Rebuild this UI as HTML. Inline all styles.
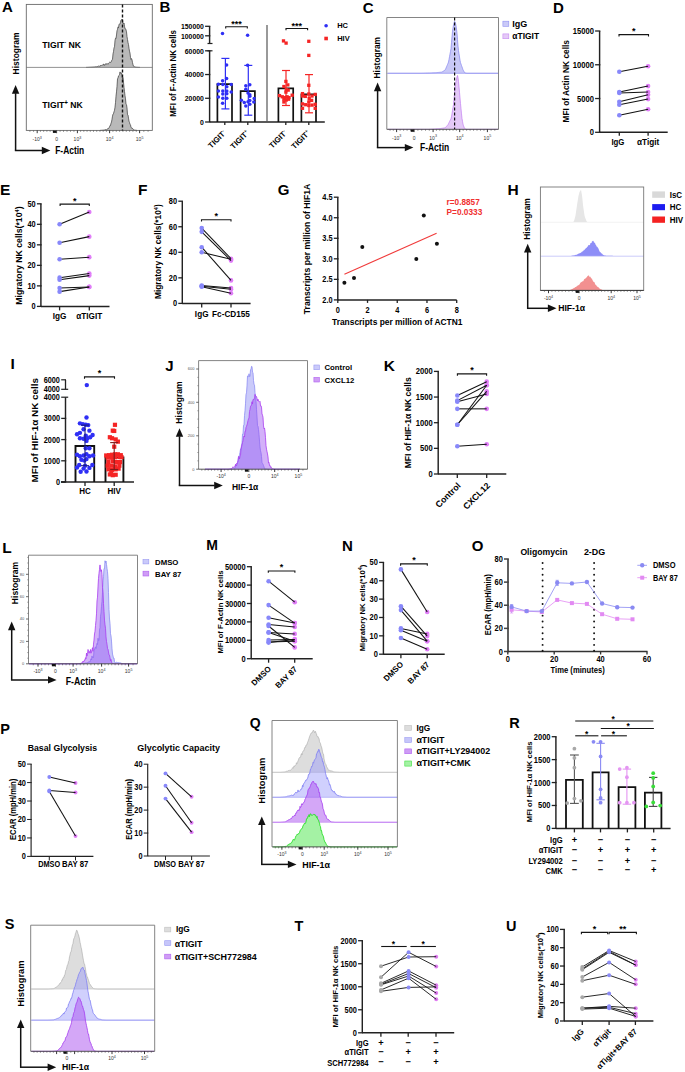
<!DOCTYPE html>
<html><head><meta charset="utf-8"><style>
html,body{margin:0;padding:0;background:#fff;}
svg{display:block;font-family:"Liberation Sans", sans-serif;font-weight:bold;}
</style></head><body>
<svg width="685" height="1072" viewBox="0 0 685 1072">
<rect width="685" height="1072" fill="#fff"/>
<text x="2" y="11.82" font-size="15">A</text>
<path d="M86,67.4 L86,67.4 L86.5,67.38 L87,67.35 L87.5,67.33 L88,67.3 L88.5,67.28 L89,67.25 L89.5,67.23 L90,67.2 L90.5,67.18 L91,67.15 L91.5,67.12 L92,67.1 L92.5,67.06 L93,67.03 L93.5,66.99 L94,66.95 L94.5,66.91 L95,66.98 L95.5,66.73 L96,66.71 L96.5,66.78 L97,66.58 L97.5,66.49 L98,66.26 L98.5,66.05 L99,66.41 L99.5,66.37 L100,65.62 L100.5,65.79 L101,65.3 L101.5,65.95 L102,65.3 L102.5,64.78 L103,65.27 L103.5,64.14 L104,64.06 L104.5,65.29 L105,65.21 L105.5,64.25 L106,63.43 L106.5,64.18 L107,64.28 L107.5,63.62 L108,64.29 L108.5,63.57 L109,62.72 L109.5,62.24 L110,62.71 L110.5,62.47 L111,62.27 L111.5,60.89 L112,59.89 L112.5,59.29 L113,53.91 L113.5,51.73 L114,47.93 L114.5,46.77 L115,40.43 L115.5,38.22 L116,38.69 L116.5,34.97 L117,30.74 L117.5,29.35 L118,26.92 L118.5,27.74 L119,24.61 L119.5,23.98 L120,24.27 L120.5,22.22 L121,20.13 L121.5,19.5 L122,20.21 L122.5,19.51 L123,23.45 L123.5,24.03 L124,23.09 L124.5,26.28 L125,28.84 L125.5,28.83 L126,29.79 L126.5,31.89 L127,36.51 L127.5,39.52 L128,42.51 L128.5,44.62 L129,48.28 L129.5,51.19 L130,53.1 L130.5,57.47 L131,59.44 L131.5,58.58 L132,59.81 L132.5,62.7 L133,64.63 L133.5,66.24 L134,66.68 L134.5,66.65 L135,66.94 L135.5,67.07 L136,67.2 L136.5,67.23 L137,67.25 L137.5,67.28 L138,67.3 L138.5,67.33 L139,67.35 L139.5,67.38 L140,67.4 L140,67.4 Z" fill="#b9b9b9"/>
<path d="M86,67.4 L86.5,67.38 L87,67.35 L87.5,67.33 L88,67.3 L88.5,67.28 L89,67.25 L89.5,67.23 L90,67.2 L90.5,67.18 L91,67.15 L91.5,67.12 L92,67.1 L92.5,67.06 L93,67.03 L93.5,66.99 L94,66.95 L94.5,66.91 L95,66.98 L95.5,66.73 L96,66.71 L96.5,66.78 L97,66.58 L97.5,66.49 L98,66.26 L98.5,66.05 L99,66.41 L99.5,66.37 L100,65.62 L100.5,65.79 L101,65.3 L101.5,65.95 L102,65.3 L102.5,64.78 L103,65.27 L103.5,64.14 L104,64.06 L104.5,65.29 L105,65.21 L105.5,64.25 L106,63.43 L106.5,64.18 L107,64.28 L107.5,63.62 L108,64.29 L108.5,63.57 L109,62.72 L109.5,62.24 L110,62.71 L110.5,62.47 L111,62.27 L111.5,60.89 L112,59.89 L112.5,59.29 L113,53.91 L113.5,51.73 L114,47.93 L114.5,46.77 L115,40.43 L115.5,38.22 L116,38.69 L116.5,34.97 L117,30.74 L117.5,29.35 L118,26.92 L118.5,27.74 L119,24.61 L119.5,23.98 L120,24.27 L120.5,22.22 L121,20.13 L121.5,19.5 L122,20.21 L122.5,19.51 L123,23.45 L123.5,24.03 L124,23.09 L124.5,26.28 L125,28.84 L125.5,28.83 L126,29.79 L126.5,31.89 L127,36.51 L127.5,39.52 L128,42.51 L128.5,44.62 L129,48.28 L129.5,51.19 L130,53.1 L130.5,57.47 L131,59.44 L131.5,58.58 L132,59.81 L132.5,62.7 L133,64.63 L133.5,66.24 L134,66.68 L134.5,66.65 L135,66.94 L135.5,67.07 L136,67.2 L136.5,67.23 L137,67.25 L137.5,67.28 L138,67.3 L138.5,67.33 L139,67.35 L139.5,67.38 L140,67.4" fill="none" stroke="#3a3a3a" stroke-width="0.7" stroke-linejoin="round"/>
<path d="M100,130.4 L100,130.4 L100.5,130.36 L101,130.33 L101.5,130.29 L102,130.25 L102.5,130.21 L103,130.18 L103.5,130.14 L104,130.1 L104.5,129.98 L105,129.73 L105.5,129.59 L106,129.82 L106.5,129.72 L107,129.22 L107.5,128.86 L108,128.51 L108.5,128.53 L109,127.8 L109.5,126.79 L110,125.43 L110.5,125.44 L111,123.22 L111.5,122.06 L112,119.26 L112.5,116.16 L113,114.09 L113.5,113.6 L114,111.77 L114.5,110.27 L115,107.19 L115.5,102.67 L116,96.18 L116.5,91.87 L117,86.39 L117.5,78.92 L118,78 L118.5,75.99 L119,75.56 L119.5,74.87 L120,71.92 L120.5,73.16 L121,73.29 L121.5,72.78 L122,75.65 L122.5,79.27 L123,77.58 L123.5,82.19 L124,87.33 L124.5,91.44 L125,95.7 L125.5,98.9 L126,104.13 L126.5,104.69 L127,107.98 L127.5,114.53 L128,114.95 L128.5,118.15 L129,121.17 L129.5,122.49 L130,124.27 L130.5,124.79 L131,127.47 L131.5,127.66 L132,128.59 L132.5,128.43 L133,128.84 L133.5,129.49 L134,129.8 L134.5,130.11 L135,130.17 L135.5,130.23 L136,130.28 L136.5,130.34 L137,130.4 L137,130.4 Z" fill="#b9b9b9"/>
<path d="M100,130.4 L100.5,130.36 L101,130.33 L101.5,130.29 L102,130.25 L102.5,130.21 L103,130.18 L103.5,130.14 L104,130.1 L104.5,129.98 L105,129.73 L105.5,129.59 L106,129.82 L106.5,129.72 L107,129.22 L107.5,128.86 L108,128.51 L108.5,128.53 L109,127.8 L109.5,126.79 L110,125.43 L110.5,125.44 L111,123.22 L111.5,122.06 L112,119.26 L112.5,116.16 L113,114.09 L113.5,113.6 L114,111.77 L114.5,110.27 L115,107.19 L115.5,102.67 L116,96.18 L116.5,91.87 L117,86.39 L117.5,78.92 L118,78 L118.5,75.99 L119,75.56 L119.5,74.87 L120,71.92 L120.5,73.16 L121,73.29 L121.5,72.78 L122,75.65 L122.5,79.27 L123,77.58 L123.5,82.19 L124,87.33 L124.5,91.44 L125,95.7 L125.5,98.9 L126,104.13 L126.5,104.69 L127,107.98 L127.5,114.53 L128,114.95 L128.5,118.15 L129,121.17 L129.5,122.49 L130,124.27 L130.5,124.79 L131,127.47 L131.5,127.66 L132,128.59 L132.5,128.43 L133,128.84 L133.5,129.49 L134,129.8 L134.5,130.11 L135,130.17 L135.5,130.23 L136,130.28 L136.5,130.34 L137,130.4" fill="none" stroke="#3a3a3a" stroke-width="0.7" stroke-linejoin="round"/>
<line x1="26.3" y1="67.4" x2="152.3" y2="67.4" stroke="#777" stroke-width="0.8"/>
<rect x="26.3" y="4.4" width="126" height="126" fill="none" stroke="#6a6a6a" stroke-width="0.9"/>
<line x1="122.5" y1="4.4" x2="122.5" y2="130.4" stroke="#111" stroke-width="1.4" stroke-dasharray="3,2"/>
<text x="42.3" y="47.8" font-size="9" textLength="38.6" lengthAdjust="spacingAndGlyphs">TIGIT<tspan font-size="5" dy="-3.6">-</tspan><tspan dy="3.6"> NK</tspan></text>
<text x="42.3" y="108.2" font-size="9" textLength="40.5" lengthAdjust="spacingAndGlyphs">TIGIT<tspan font-size="6.5" dy="-3.6">+</tspan><tspan dy="3.6"> NK</tspan></text>
<text x="19.16" y="53.4" font-size="8.5" text-anchor="middle" transform="rotate(-90 19.16 53.4)" textLength="42" lengthAdjust="spacingAndGlyphs">Histogram</text>
<line x1="15.6" y1="150.5" x2="15.6" y2="93.2" stroke="#111" stroke-width="1.5"/>
<polygon points="11.9,93.7 19.3,93.7 15.6,85.1" fill="#111"/>
<line x1="14.85" y1="150.5" x2="42.3" y2="150.5" stroke="#111" stroke-width="1.5"/>
<polygon points="41.8,146.8 41.8,154.2 50.4,150.5" fill="#111"/>
<text x="55.2" y="153.7" font-size="10.08" transform="translate(55.2 153.7) scale(0.8929 1) translate(-55.2 -153.7)" textLength="32.48" lengthAdjust="spacingAndGlyphs">F-Actin</text>
<line x1="29.93" y1="130.4" x2="29.93" y2="131.9" stroke="#444" stroke-width="0.55"/>
<line x1="33.57" y1="130.4" x2="33.57" y2="131.9" stroke="#444" stroke-width="0.55"/>
<line x1="40.43" y1="130.4" x2="40.43" y2="131.9" stroke="#444" stroke-width="0.55"/>
<line x1="43.67" y1="130.4" x2="43.67" y2="131.9" stroke="#444" stroke-width="0.55"/>
<line x1="46.9" y1="130.4" x2="46.9" y2="131.9" stroke="#444" stroke-width="0.55"/>
<line x1="50.13" y1="130.4" x2="50.13" y2="131.9" stroke="#444" stroke-width="0.55"/>
<line x1="53.37" y1="130.4" x2="53.37" y2="131.9" stroke="#444" stroke-width="0.55"/>
<line x1="60.07" y1="130.4" x2="60.07" y2="131.9" stroke="#444" stroke-width="0.55"/>
<line x1="63.53" y1="130.4" x2="63.53" y2="131.9" stroke="#444" stroke-width="0.55"/>
<line x1="67" y1="130.4" x2="67" y2="131.9" stroke="#444" stroke-width="0.55"/>
<line x1="70.47" y1="130.4" x2="70.47" y2="131.9" stroke="#444" stroke-width="0.55"/>
<line x1="73.93" y1="130.4" x2="73.93" y2="131.9" stroke="#444" stroke-width="0.55"/>
<line x1="80.62" y1="130.4" x2="80.62" y2="131.9" stroke="#444" stroke-width="0.55"/>
<line x1="83.84" y1="130.4" x2="83.84" y2="131.9" stroke="#444" stroke-width="0.55"/>
<line x1="87.06" y1="130.4" x2="87.06" y2="131.9" stroke="#444" stroke-width="0.55"/>
<line x1="90.28" y1="130.4" x2="90.28" y2="131.9" stroke="#444" stroke-width="0.55"/>
<line x1="93.5" y1="130.4" x2="93.5" y2="131.9" stroke="#444" stroke-width="0.55"/>
<line x1="96.72" y1="130.4" x2="96.72" y2="131.9" stroke="#444" stroke-width="0.55"/>
<line x1="99.94" y1="130.4" x2="99.94" y2="131.9" stroke="#444" stroke-width="0.55"/>
<line x1="103.16" y1="130.4" x2="103.16" y2="131.9" stroke="#444" stroke-width="0.55"/>
<line x1="106.38" y1="130.4" x2="106.38" y2="131.9" stroke="#444" stroke-width="0.55"/>
<line x1="112.93" y1="130.4" x2="112.93" y2="131.9" stroke="#444" stroke-width="0.55"/>
<line x1="116.27" y1="130.4" x2="116.27" y2="131.9" stroke="#444" stroke-width="0.55"/>
<line x1="119.6" y1="130.4" x2="119.6" y2="131.9" stroke="#444" stroke-width="0.55"/>
<line x1="122.93" y1="130.4" x2="122.93" y2="131.9" stroke="#444" stroke-width="0.55"/>
<line x1="126.27" y1="130.4" x2="126.27" y2="131.9" stroke="#444" stroke-width="0.55"/>
<line x1="129.6" y1="130.4" x2="129.6" y2="131.9" stroke="#444" stroke-width="0.55"/>
<line x1="132.93" y1="130.4" x2="132.93" y2="131.9" stroke="#444" stroke-width="0.55"/>
<line x1="136.27" y1="130.4" x2="136.27" y2="131.9" stroke="#444" stroke-width="0.55"/>
<line x1="143.83" y1="130.4" x2="143.83" y2="131.9" stroke="#444" stroke-width="0.55"/>
<line x1="148.07" y1="130.4" x2="148.07" y2="131.9" stroke="#444" stroke-width="0.55"/>
<line x1="37.2" y1="130.4" x2="37.2" y2="133.2" stroke="#222" stroke-width="0.9"/>
<text x="37.2" y="140.7" font-size="5" text-anchor="middle" fill="#333" font-weight="normal">-10<tspan font-size="3.60" dy="-2.2">3</tspan></text>
<line x1="56.6" y1="130.4" x2="56.6" y2="133.2" stroke="#222" stroke-width="0.9"/>
<text x="56.6" y="140.7" font-size="5" text-anchor="middle" fill="#333" font-weight="normal">0</text>
<line x1="77.4" y1="130.4" x2="77.4" y2="133.2" stroke="#222" stroke-width="0.9"/>
<text x="77.4" y="140.7" font-size="5" text-anchor="middle" fill="#333" font-weight="normal">10<tspan font-size="3.60" dy="-2.2">3</tspan></text>
<line x1="109.6" y1="130.4" x2="109.6" y2="133.2" stroke="#222" stroke-width="0.9"/>
<text x="109.6" y="140.7" font-size="5" text-anchor="middle" fill="#333" font-weight="normal">10<tspan font-size="3.60" dy="-2.2">4</tspan></text>
<line x1="139.6" y1="130.4" x2="139.6" y2="133.2" stroke="#222" stroke-width="0.9"/>
<text x="139.6" y="140.7" font-size="5" text-anchor="middle" fill="#333" font-weight="normal">10<tspan font-size="3.60" dy="-2.2">5</tspan></text>
<rect x="52.9" y="130.6" width="3.2" height="2.3" fill="#111"/>
<text x="159.6" y="12.22" font-size="15">B</text>
<line x1="209.6" y1="50.8" x2="209.6" y2="122" stroke="#222" stroke-width="1.45"/>
<line x1="205.1" y1="122" x2="210.32" y2="122" stroke="#222" stroke-width="1.305"/>
<text x="203.9" y="124.78" font-size="7.93" text-anchor="end" transform="translate(203.9 124.78) scale(0.8696 1) translate(-203.9 -124.78)">0</text>
<line x1="205.1" y1="98.27" x2="210.32" y2="98.27" stroke="#222" stroke-width="1.305"/>
<text x="203.9" y="101.04" font-size="7.93" text-anchor="end" transform="translate(203.9 101.04) scale(0.8696 1) translate(-203.9 -101.04)">20000</text>
<line x1="205.1" y1="74.53" x2="210.32" y2="74.53" stroke="#222" stroke-width="1.305"/>
<text x="203.9" y="77.31" font-size="7.93" text-anchor="end" transform="translate(203.9 77.31) scale(0.8696 1) translate(-203.9 -77.31)">40000</text>
<line x1="205.1" y1="50.8" x2="210.32" y2="50.8" stroke="#222" stroke-width="1.305"/>
<text x="203.9" y="53.58" font-size="7.93" text-anchor="end" transform="translate(203.9 53.58) scale(0.8696 1) translate(-203.9 -53.58)">60000</text>
<line x1="209.6" y1="26.3" x2="209.6" y2="43.5" stroke="#222" stroke-width="1.45"/>
<line x1="205.1" y1="26.3" x2="210.32" y2="26.3" stroke="#222" stroke-width="1.305"/>
<text x="203.9" y="29.08" font-size="7.93" text-anchor="end" transform="translate(203.9 29.08) scale(0.8696 1) translate(-203.9 -29.08)">150000</text>
<line x1="205.1" y1="35.8" x2="210.32" y2="35.8" stroke="#222" stroke-width="1.305"/>
<text x="203.9" y="38.58" font-size="7.93" text-anchor="end" transform="translate(203.9 38.58) scale(0.8696 1) translate(-203.9 -38.58)">100000</text>
<line x1="207.5" y1="43.5" x2="212.5" y2="43.5" stroke="#222" stroke-width="1.2"/>
<line x1="207.5" y1="50.8" x2="212.5" y2="50.8" stroke="#222" stroke-width="1.2"/>
<line x1="209.6" y1="122" x2="324.8" y2="122" stroke="#222" stroke-width="1.45"/>
<line x1="224.8" y1="122" x2="224.8" y2="125" stroke="#222" stroke-width="1.305"/>
<line x1="247.8" y1="122" x2="247.8" y2="125" stroke="#222" stroke-width="1.305"/>
<line x1="285.8" y1="122" x2="285.8" y2="125" stroke="#222" stroke-width="1.305"/>
<line x1="308.8" y1="122" x2="308.8" y2="125" stroke="#222" stroke-width="1.305"/>
<line x1="267" y1="25.1" x2="267" y2="122" stroke="#555" stroke-width="1.2"/>
<polyline points="217.4,122 217.4,84.1 232,84.1 232,122" fill="none" stroke="#111" stroke-width="1.7"/>
<polyline points="240.6,122 240.6,91.1 254.9,91.1 254.9,122" fill="none" stroke="#111" stroke-width="1.7"/>
<polyline points="278.4,122 278.4,88.4 293.2,88.4 293.2,122" fill="none" stroke="#111" stroke-width="1.7"/>
<polyline points="301.4,122 301.4,94.3 316,94.3 316,122" fill="none" stroke="#111" stroke-width="1.7"/>
<line x1="225.4" y1="58.4" x2="225.4" y2="108.9" stroke="#2f2ff5" stroke-width="1.2"/>
<line x1="221.4" y1="58.4" x2="229.4" y2="58.4" stroke="#2f2ff5" stroke-width="1.2"/>
<line x1="221.4" y1="108.9" x2="229.4" y2="108.9" stroke="#2f2ff5" stroke-width="1.2"/>
<line x1="248.3" y1="65.4" x2="248.3" y2="115.2" stroke="#2f2ff5" stroke-width="1.2"/>
<line x1="244.3" y1="65.4" x2="252.3" y2="65.4" stroke="#2f2ff5" stroke-width="1.2"/>
<line x1="244.3" y1="115.2" x2="252.3" y2="115.2" stroke="#2f2ff5" stroke-width="1.2"/>
<line x1="286" y1="70.5" x2="286" y2="105.5" stroke="#f52525" stroke-width="1.2"/>
<line x1="282" y1="70.5" x2="290" y2="70.5" stroke="#f52525" stroke-width="1.2"/>
<line x1="282" y1="105.5" x2="290" y2="105.5" stroke="#f52525" stroke-width="1.2"/>
<line x1="309" y1="74.6" x2="309" y2="112.8" stroke="#f52525" stroke-width="1.2"/>
<line x1="305" y1="74.6" x2="313" y2="74.6" stroke="#f52525" stroke-width="1.2"/>
<line x1="305" y1="112.8" x2="313" y2="112.8" stroke="#f52525" stroke-width="1.2"/>
<circle cx="226.6" cy="64.9" r="1.75" fill="#2f2ff5"/>
<circle cx="226.6" cy="78.4" r="1.75" fill="#2f2ff5"/>
<circle cx="222.6" cy="80.7" r="1.75" fill="#2f2ff5"/>
<circle cx="218.4" cy="84.2" r="1.75" fill="#2f2ff5"/>
<circle cx="231.2" cy="84.6" r="1.75" fill="#2f2ff5"/>
<circle cx="222.8" cy="84.6" r="1.75" fill="#2f2ff5"/>
<circle cx="226.8" cy="86.8" r="1.75" fill="#2f2ff5"/>
<circle cx="218.4" cy="91.1" r="1.75" fill="#2f2ff5"/>
<circle cx="222.8" cy="91.1" r="1.75" fill="#2f2ff5"/>
<circle cx="226.8" cy="91.1" r="1.75" fill="#2f2ff5"/>
<circle cx="231.2" cy="91.9" r="1.75" fill="#2f2ff5"/>
<circle cx="222.8" cy="94" r="1.75" fill="#2f2ff5"/>
<circle cx="226.8" cy="93.7" r="1.75" fill="#2f2ff5"/>
<circle cx="218.4" cy="97" r="1.75" fill="#2f2ff5"/>
<circle cx="222.8" cy="98.2" r="1.75" fill="#2f2ff5"/>
<circle cx="226.8" cy="98.2" r="1.75" fill="#2f2ff5"/>
<circle cx="222.6" cy="103.3" r="1.75" fill="#2f2ff5"/>
<circle cx="222.5" cy="33.6" r="1.75" fill="#2f2ff5"/>
<circle cx="247.6" cy="65.3" r="1.75" fill="#2f2ff5"/>
<circle cx="245.8" cy="85.7" r="1.75" fill="#2f2ff5"/>
<circle cx="249.8" cy="84.8" r="1.75" fill="#2f2ff5"/>
<circle cx="245.8" cy="89.3" r="1.75" fill="#2f2ff5"/>
<circle cx="248" cy="93" r="1.75" fill="#2f2ff5"/>
<circle cx="249.8" cy="94.8" r="1.75" fill="#2f2ff5"/>
<circle cx="249.8" cy="96.2" r="1.75" fill="#2f2ff5"/>
<circle cx="241.4" cy="100.3" r="1.75" fill="#2f2ff5"/>
<circle cx="254.2" cy="98.4" r="1.75" fill="#2f2ff5"/>
<circle cx="244.3" cy="102.4" r="1.75" fill="#2f2ff5"/>
<circle cx="248" cy="101.7" r="1.75" fill="#2f2ff5"/>
<circle cx="249.8" cy="100.6" r="1.75" fill="#2f2ff5"/>
<circle cx="253.8" cy="102.1" r="1.75" fill="#2f2ff5"/>
<circle cx="249.8" cy="104.3" r="1.75" fill="#2f2ff5"/>
<circle cx="245.8" cy="106.1" r="1.75" fill="#2f2ff5"/>
<circle cx="247.6" cy="35.3" r="1.75" fill="#2f2ff5"/>
<rect x="284.25" y="79.75" width="3.3" height="3.3" fill="#f52525"/>
<rect x="286.15" y="83.25" width="3.3" height="3.3" fill="#f52525"/>
<rect x="282.25" y="84.85" width="3.3" height="3.3" fill="#f52525"/>
<rect x="284.65" y="88.05" width="3.3" height="3.3" fill="#f52525"/>
<rect x="286.55" y="88.45" width="3.3" height="3.3" fill="#f52525"/>
<rect x="284.25" y="90.45" width="3.3" height="3.3" fill="#f52525"/>
<rect x="277.85" y="93.95" width="3.3" height="3.3" fill="#f52525"/>
<rect x="290.55" y="93.55" width="3.3" height="3.3" fill="#f52525"/>
<rect x="280.65" y="95.15" width="3.3" height="3.3" fill="#f52525"/>
<rect x="283.05" y="95.95" width="3.3" height="3.3" fill="#f52525"/>
<rect x="285.45" y="95.15" width="3.3" height="3.3" fill="#f52525"/>
<rect x="287.35" y="95.95" width="3.3" height="3.3" fill="#f52525"/>
<rect x="282.25" y="97.55" width="3.3" height="3.3" fill="#f52525"/>
<rect x="284.65" y="98.35" width="3.3" height="3.3" fill="#f52525"/>
<rect x="286.95" y="97.55" width="3.3" height="3.3" fill="#f52525"/>
<rect x="282.25" y="100.35" width="3.3" height="3.3" fill="#f52525"/>
<rect x="281.85" y="39.25" width="3.3" height="3.3" fill="#f52525"/>
<rect x="284.45" y="41.45" width="3.3" height="3.3" fill="#f52525"/>
<rect x="307.15" y="83.65" width="3.3" height="3.3" fill="#f52525"/>
<rect x="300.85" y="91.95" width="3.3" height="3.3" fill="#f52525"/>
<rect x="307.15" y="92.35" width="3.3" height="3.3" fill="#f52525"/>
<rect x="313.55" y="92.75" width="3.3" height="3.3" fill="#f52525"/>
<rect x="300.85" y="94.35" width="3.3" height="3.3" fill="#f52525"/>
<rect x="303.65" y="94.75" width="3.3" height="3.3" fill="#f52525"/>
<rect x="310.35" y="94.35" width="3.3" height="3.3" fill="#f52525"/>
<rect x="307.55" y="96.75" width="3.3" height="3.3" fill="#f52525"/>
<rect x="309.95" y="98.75" width="3.3" height="3.3" fill="#f52525"/>
<rect x="307.15" y="100.35" width="3.3" height="3.3" fill="#f52525"/>
<rect x="300.85" y="102.25" width="3.3" height="3.3" fill="#f52525"/>
<rect x="304.05" y="103.05" width="3.3" height="3.3" fill="#f52525"/>
<rect x="307.15" y="103.85" width="3.3" height="3.3" fill="#f52525"/>
<rect x="310.35" y="103.45" width="3.3" height="3.3" fill="#f52525"/>
<rect x="313.55" y="102.65" width="3.3" height="3.3" fill="#f52525"/>
<rect x="300.85" y="106.65" width="3.3" height="3.3" fill="#f52525"/>
<rect x="313.55" y="106.65" width="3.3" height="3.3" fill="#f52525"/>
<rect x="307.15" y="39.65" width="3.3" height="3.3" fill="#f52525"/>
<rect x="307.15" y="53.75" width="3.3" height="3.3" fill="#f52525"/>
<polyline points="225.7,28.5 225.7,26.7 247.3,26.7 247.3,28.5" fill="none" stroke="#151515" stroke-width="1.1"/>
<text x="236.5" y="26.92" font-size="9" text-anchor="middle">***</text>
<polyline points="286,30.3 286,28.5 307.6,28.5 307.6,30.3" fill="none" stroke="#151515" stroke-width="1.1"/>
<text x="296.8" y="28.62" font-size="9" text-anchor="middle">***</text>
<circle cx="326.1" cy="25.8" r="1.8" fill="#2f2ff5"/>
<text x="337.2" y="28.4" font-size="7.5">HC</text>
<rect x="324.3" y="36.7" width="3.6" height="3.6" fill="#f52525"/>
<text x="337.2" y="41.1" font-size="7.5">HIV</text>
<text x="176.42" y="73.4" font-size="8.2" text-anchor="middle" transform="rotate(-90 176.42 73.4)" textLength="86.8" lengthAdjust="spacingAndGlyphs">MFI of F-Actin NK cells</text>
<text x="226.5" y="133.5" font-size="7.8" text-anchor="end" transform="rotate(-45 226.5 133.5)">TIGIT<tspan font-size="4.5" dy="-3">-</tspan></text>
<text x="249.5" y="133.5" font-size="7.8" text-anchor="end" transform="rotate(-45 249.5 133.5)">TIGIT<tspan font-size="4.5" dy="-3">+</tspan></text>
<text x="287.5" y="133.5" font-size="7.8" text-anchor="end" transform="rotate(-45 287.5 133.5)">TIGIT<tspan font-size="4.5" dy="-3">-</tspan></text>
<text x="310.5" y="133.5" font-size="7.8" text-anchor="end" transform="rotate(-45 310.5 133.5)">TIGIT<tspan font-size="4.5" dy="-3">+</tspan></text>
<text x="362.7" y="13.02" font-size="15">C</text>
<path d="M388,73.3 L388,73.3 L388.5,73.3 L389,73.3 L389.5,73.3 L390,73.3 L390.5,73.3 L391,73.3 L391.5,73.3 L392,73.3 L392.5,73.3 L393,73.3 L393.5,73.3 L394,73.3 L394.5,73.3 L395,73.3 L395.5,73.3 L396,73.3 L396.5,73.3 L397,73.3 L397.5,73.3 L398,73.3 L398.5,73.3 L399,73.3 L399.5,73.3 L400,73.3 L400.5,73.3 L401,73.3 L401.5,73.3 L402,73.3 L402.5,73.3 L403,73.3 L403.5,73.3 L404,73.3 L404.5,73.3 L405,73.3 L405.5,73.3 L406,73.3 L406.5,73.3 L407,73.3 L407.5,73.3 L408,73.3 L408.5,73.3 L409,73.3 L409.5,73.3 L410,73.3 L410.5,73.3 L411,73.3 L411.5,73.3 L412,73.3 L412.5,73.3 L413,73.3 L413.5,73.3 L414,73.3 L414.5,73.3 L415,73.3 L415.5,73.3 L416,73.3 L416.5,73.3 L417,73.3 L417.5,73.3 L418,73.3 L418.5,73.3 L419,73.3 L419.5,73.3 L420,73.3 L420.5,73.28 L421,73.27 L421.5,73.25 L422,73.24 L422.5,73.22 L423,73.21 L423.5,73.19 L424,73.17 L424.5,73.16 L425,73.14 L425.5,73.13 L426,73.11 L426.5,73.09 L427,73.08 L427.5,73.06 L428,73.05 L428.5,73.03 L429,73.02 L429.5,73 L430,72.98 L430.5,72.95 L431,72.93 L431.5,72.91 L432,72.88 L432.5,72.86 L433,72.84 L433.5,72.82 L434,72.79 L434.5,72.77 L435,72.75 L435.5,72.72 L436,72.7 L436.5,72.65 L437,72.6 L437.5,72.54 L438,72.49 L438.5,72.44 L439,72.39 L439.5,72.34 L440,72.29 L440.5,72.23 L441,72.18 L441.5,72.13 L442,71.98 L442.5,71.67 L443,71.36 L443.5,71.05 L444,70.74 L444.5,70.43 L445,70.12 L445.5,69.28 L446,68.08 L446.5,66.89 L447,65.69 L447.5,64.49 L448,63.3 L448.5,62.1 L449,59.42 L449.5,56.74 L450,54.06 L450.5,51.38 L451,48.7 L451.5,42.7 L452,36.7 L452.5,31.27 L453,28.1 L453.5,24.93 L454,22.99 L454.5,21.35 L455,21.68 L455.5,23.32 L456,25.68 L456.5,29.14 L457,33.19 L457.5,39.65 L458,46.12 L458.5,50.61 L459,53.8 L459.5,57 L460,60.19 L460.5,62.66 L461,64.07 L461.5,65.49 L462,66.9 L462.5,68.31 L463,69.72 L463.5,70.7 L464,71.57 L464.5,72.45 L465,72.87 L465.5,72.97 L466,73.08 L466.5,73.19 L467,73.3 L467.5,73.3 L468,73.3 L468.5,73.3 L469,73.3 L469.5,73.3 L470,73.3 L470.5,73.3 L471,73.3 L471.5,73.3 L472,73.3 L472.5,73.3 L473,73.3 L473.5,73.3 L474,73.3 L474.5,73.3 L475,73.3 L475.5,73.3 L476,73.3 L476.5,73.3 L477,73.3 L477.5,73.3 L478,73.3 L478.5,73.3 L479,73.3 L479.5,73.3 L480,73.3 L480.5,73.3 L481,73.3 L481.5,73.3 L482,73.3 L482.5,73.3 L483,73.3 L483.5,73.3 L484,73.3 L484.5,73.3 L485,73.3 L485.5,73.3 L486,73.3 L486.5,73.3 L487,73.3 L487.5,73.3 L488,73.3 L488.5,73.3 L489,73.3 L489.5,73.3 L490,73.3 L490.5,73.3 L491,73.3 L491.5,73.3 L492,73.3 L492.5,73.3 L493,73.3 L493.5,73.3 L494,73.3 L494.5,73.3 L495,73.3 L495.5,73.3 L496,73.3 L496.5,73.3 L497,73.3 L497.5,73.3 L498,73.3 L498,73.3 Z" fill="#c9c9f7"/>
<path d="M388,73.3 L388.5,73.3 L389,73.3 L389.5,73.3 L390,73.3 L390.5,73.3 L391,73.3 L391.5,73.3 L392,73.3 L392.5,73.3 L393,73.3 L393.5,73.3 L394,73.3 L394.5,73.3 L395,73.3 L395.5,73.3 L396,73.3 L396.5,73.3 L397,73.3 L397.5,73.3 L398,73.3 L398.5,73.3 L399,73.3 L399.5,73.3 L400,73.3 L400.5,73.3 L401,73.3 L401.5,73.3 L402,73.3 L402.5,73.3 L403,73.3 L403.5,73.3 L404,73.3 L404.5,73.3 L405,73.3 L405.5,73.3 L406,73.3 L406.5,73.3 L407,73.3 L407.5,73.3 L408,73.3 L408.5,73.3 L409,73.3 L409.5,73.3 L410,73.3 L410.5,73.3 L411,73.3 L411.5,73.3 L412,73.3 L412.5,73.3 L413,73.3 L413.5,73.3 L414,73.3 L414.5,73.3 L415,73.3 L415.5,73.3 L416,73.3 L416.5,73.3 L417,73.3 L417.5,73.3 L418,73.3 L418.5,73.3 L419,73.3 L419.5,73.3 L420,73.3 L420.5,73.28 L421,73.27 L421.5,73.25 L422,73.24 L422.5,73.22 L423,73.21 L423.5,73.19 L424,73.17 L424.5,73.16 L425,73.14 L425.5,73.13 L426,73.11 L426.5,73.09 L427,73.08 L427.5,73.06 L428,73.05 L428.5,73.03 L429,73.02 L429.5,73 L430,72.98 L430.5,72.95 L431,72.93 L431.5,72.91 L432,72.88 L432.5,72.86 L433,72.84 L433.5,72.82 L434,72.79 L434.5,72.77 L435,72.75 L435.5,72.72 L436,72.7 L436.5,72.65 L437,72.6 L437.5,72.54 L438,72.49 L438.5,72.44 L439,72.39 L439.5,72.34 L440,72.29 L440.5,72.23 L441,72.18 L441.5,72.13 L442,71.98 L442.5,71.67 L443,71.36 L443.5,71.05 L444,70.74 L444.5,70.43 L445,70.12 L445.5,69.28 L446,68.08 L446.5,66.89 L447,65.69 L447.5,64.49 L448,63.3 L448.5,62.1 L449,59.42 L449.5,56.74 L450,54.06 L450.5,51.38 L451,48.7 L451.5,42.7 L452,36.7 L452.5,31.27 L453,28.1 L453.5,24.93 L454,22.99 L454.5,21.35 L455,21.68 L455.5,23.32 L456,25.68 L456.5,29.14 L457,33.19 L457.5,39.65 L458,46.12 L458.5,50.61 L459,53.8 L459.5,57 L460,60.19 L460.5,62.66 L461,64.07 L461.5,65.49 L462,66.9 L462.5,68.31 L463,69.72 L463.5,70.7 L464,71.57 L464.5,72.45 L465,72.87 L465.5,72.97 L466,73.08 L466.5,73.19 L467,73.3 L467.5,73.3 L468,73.3 L468.5,73.3 L469,73.3 L469.5,73.3 L470,73.3 L470.5,73.3 L471,73.3 L471.5,73.3 L472,73.3 L472.5,73.3 L473,73.3 L473.5,73.3 L474,73.3 L474.5,73.3 L475,73.3 L475.5,73.3 L476,73.3 L476.5,73.3 L477,73.3 L477.5,73.3 L478,73.3 L478.5,73.3 L479,73.3 L479.5,73.3 L480,73.3 L480.5,73.3 L481,73.3 L481.5,73.3 L482,73.3 L482.5,73.3 L483,73.3 L483.5,73.3 L484,73.3 L484.5,73.3 L485,73.3 L485.5,73.3 L486,73.3 L486.5,73.3 L487,73.3 L487.5,73.3 L488,73.3 L488.5,73.3 L489,73.3 L489.5,73.3 L490,73.3 L490.5,73.3 L491,73.3 L491.5,73.3 L492,73.3 L492.5,73.3 L493,73.3 L493.5,73.3 L494,73.3 L494.5,73.3 L495,73.3 L495.5,73.3 L496,73.3 L496.5,73.3 L497,73.3 L497.5,73.3 L498,73.3" fill="none" stroke="#8585ee" stroke-width="0.7" stroke-linejoin="round"/>
<path d="M388,129.3 L388,129.3 L388.5,129.3 L389,129.3 L389.5,129.3 L390,129.3 L390.5,129.3 L391,129.3 L391.5,129.3 L392,129.3 L392.5,129.3 L393,129.3 L393.5,129.3 L394,129.3 L394.5,129.3 L395,129.3 L395.5,129.3 L396,129.3 L396.5,129.3 L397,129.3 L397.5,129.3 L398,129.3 L398.5,129.3 L399,129.3 L399.5,129.3 L400,129.3 L400.5,129.3 L401,129.3 L401.5,129.3 L402,129.3 L402.5,129.3 L403,129.3 L403.5,129.3 L404,129.3 L404.5,129.3 L405,129.3 L405.5,129.3 L406,129.3 L406.5,129.3 L407,129.3 L407.5,129.3 L408,129.3 L408.5,129.3 L409,129.3 L409.5,129.3 L410,129.3 L410.5,129.3 L411,129.3 L411.5,129.3 L412,129.3 L412.5,129.3 L413,129.3 L413.5,129.3 L414,129.3 L414.5,129.3 L415,129.3 L415.5,129.3 L416,129.3 L416.5,129.3 L417,129.3 L417.5,129.3 L418,129.3 L418.5,129.3 L419,129.3 L419.5,129.3 L420,129.3 L420.5,129.3 L421,129.3 L421.5,129.3 L422,129.3 L422.5,129.3 L423,129.3 L423.5,129.3 L424,129.3 L424.5,129.3 L425,129.3 L425.5,129.3 L426,129.3 L426.5,129.3 L427,129.3 L427.5,129.3 L428,129.3 L428.5,129.28 L429,129.25 L429.5,129.23 L430,129.2 L430.5,129.18 L431,129.15 L431.5,129.12 L432,129.1 L432.5,129.08 L433,129.05 L433.5,129.03 L434,129 L434.5,128.97 L435,128.93 L435.5,128.9 L436,128.87 L436.5,128.83 L437,128.8 L437.5,128.77 L438,128.73 L438.5,128.7 L439,128.67 L439.5,128.63 L440,128.6 L440.5,128.52 L441,128.45 L441.5,128.37 L442,128.29 L442.5,128.22 L443,128.14 L443.5,128.06 L444,127.98 L444.5,127.91 L445,127.83 L445.5,127.47 L446,126.91 L446.5,126.36 L447,125.81 L447.5,125.25 L448,124.7 L448.5,123.68 L449,122.67 L449.5,121.65 L450,120.64 L450.5,119.62 L451,118.61 L451.5,116.78 L452,113.74 L452.5,110.69 L453,107.65 L453.5,104.6 L454,99 L454.5,93.4 L455,87.8 L455.5,84.53 L456,81.26 L456.5,78.67 L457,77.08 L457.5,75.5 L458,77.87 L458.5,81.42 L459,86.74 L459.5,92.28 L460,97.88 L460.5,103.48 L461,108.72 L461.5,113.88 L462,118.56 L462.5,121.35 L463,124.14 L463.5,125.72 L464,127.01 L464.5,128.29 L465,128.87 L465.5,128.97 L466,129.08 L466.5,129.19 L467,129.3 L467.5,129.3 L468,129.3 L468.5,129.3 L469,129.3 L469.5,129.3 L470,129.3 L470.5,129.3 L471,129.3 L471.5,129.3 L472,129.3 L472.5,129.3 L473,129.3 L473.5,129.3 L474,129.3 L474.5,129.3 L475,129.3 L475.5,129.3 L476,129.3 L476.5,129.3 L477,129.3 L477.5,129.3 L478,129.3 L478.5,129.3 L479,129.3 L479.5,129.3 L480,129.3 L480.5,129.3 L481,129.3 L481.5,129.3 L482,129.3 L482.5,129.3 L483,129.3 L483.5,129.3 L484,129.3 L484.5,129.3 L485,129.3 L485.5,129.3 L486,129.3 L486.5,129.3 L487,129.3 L487.5,129.3 L488,129.3 L488.5,129.3 L489,129.3 L489.5,129.3 L490,129.3 L490.5,129.3 L491,129.3 L491.5,129.3 L492,129.3 L492.5,129.3 L493,129.3 L493.5,129.3 L494,129.3 L494.5,129.3 L495,129.3 L495.5,129.3 L496,129.3 L496.5,129.3 L497,129.3 L497.5,129.3 L498,129.3 L498,129.3 Z" fill="#e4c9f7"/>
<path d="M388,129.3 L388.5,129.3 L389,129.3 L389.5,129.3 L390,129.3 L390.5,129.3 L391,129.3 L391.5,129.3 L392,129.3 L392.5,129.3 L393,129.3 L393.5,129.3 L394,129.3 L394.5,129.3 L395,129.3 L395.5,129.3 L396,129.3 L396.5,129.3 L397,129.3 L397.5,129.3 L398,129.3 L398.5,129.3 L399,129.3 L399.5,129.3 L400,129.3 L400.5,129.3 L401,129.3 L401.5,129.3 L402,129.3 L402.5,129.3 L403,129.3 L403.5,129.3 L404,129.3 L404.5,129.3 L405,129.3 L405.5,129.3 L406,129.3 L406.5,129.3 L407,129.3 L407.5,129.3 L408,129.3 L408.5,129.3 L409,129.3 L409.5,129.3 L410,129.3 L410.5,129.3 L411,129.3 L411.5,129.3 L412,129.3 L412.5,129.3 L413,129.3 L413.5,129.3 L414,129.3 L414.5,129.3 L415,129.3 L415.5,129.3 L416,129.3 L416.5,129.3 L417,129.3 L417.5,129.3 L418,129.3 L418.5,129.3 L419,129.3 L419.5,129.3 L420,129.3 L420.5,129.3 L421,129.3 L421.5,129.3 L422,129.3 L422.5,129.3 L423,129.3 L423.5,129.3 L424,129.3 L424.5,129.3 L425,129.3 L425.5,129.3 L426,129.3 L426.5,129.3 L427,129.3 L427.5,129.3 L428,129.3 L428.5,129.28 L429,129.25 L429.5,129.23 L430,129.2 L430.5,129.18 L431,129.15 L431.5,129.12 L432,129.1 L432.5,129.08 L433,129.05 L433.5,129.03 L434,129 L434.5,128.97 L435,128.93 L435.5,128.9 L436,128.87 L436.5,128.83 L437,128.8 L437.5,128.77 L438,128.73 L438.5,128.7 L439,128.67 L439.5,128.63 L440,128.6 L440.5,128.52 L441,128.45 L441.5,128.37 L442,128.29 L442.5,128.22 L443,128.14 L443.5,128.06 L444,127.98 L444.5,127.91 L445,127.83 L445.5,127.47 L446,126.91 L446.5,126.36 L447,125.81 L447.5,125.25 L448,124.7 L448.5,123.68 L449,122.67 L449.5,121.65 L450,120.64 L450.5,119.62 L451,118.61 L451.5,116.78 L452,113.74 L452.5,110.69 L453,107.65 L453.5,104.6 L454,99 L454.5,93.4 L455,87.8 L455.5,84.53 L456,81.26 L456.5,78.67 L457,77.08 L457.5,75.5 L458,77.87 L458.5,81.42 L459,86.74 L459.5,92.28 L460,97.88 L460.5,103.48 L461,108.72 L461.5,113.88 L462,118.56 L462.5,121.35 L463,124.14 L463.5,125.72 L464,127.01 L464.5,128.29 L465,128.87 L465.5,128.97 L466,129.08 L466.5,129.19 L467,129.3 L467.5,129.3 L468,129.3 L468.5,129.3 L469,129.3 L469.5,129.3 L470,129.3 L470.5,129.3 L471,129.3 L471.5,129.3 L472,129.3 L472.5,129.3 L473,129.3 L473.5,129.3 L474,129.3 L474.5,129.3 L475,129.3 L475.5,129.3 L476,129.3 L476.5,129.3 L477,129.3 L477.5,129.3 L478,129.3 L478.5,129.3 L479,129.3 L479.5,129.3 L480,129.3 L480.5,129.3 L481,129.3 L481.5,129.3 L482,129.3 L482.5,129.3 L483,129.3 L483.5,129.3 L484,129.3 L484.5,129.3 L485,129.3 L485.5,129.3 L486,129.3 L486.5,129.3 L487,129.3 L487.5,129.3 L488,129.3 L488.5,129.3 L489,129.3 L489.5,129.3 L490,129.3 L490.5,129.3 L491,129.3 L491.5,129.3 L492,129.3 L492.5,129.3 L493,129.3 L493.5,129.3 L494,129.3 L494.5,129.3 L495,129.3 L495.5,129.3 L496,129.3 L496.5,129.3 L497,129.3 L497.5,129.3 L498,129.3" fill="none" stroke="#c27cf0" stroke-width="0.7" stroke-linejoin="round"/>
<line x1="386.8" y1="73.3" x2="498.5" y2="73.3" stroke="#8f8ff2" stroke-width="0.7"/>
<polyline points="386.8,129.3 386.8,17.5 498.5,17.5 498.5,129.3" fill="none" stroke="#777" stroke-width="0.9"/>
<line x1="386.8" y1="129.3" x2="498.5" y2="129.3" stroke="#444" stroke-width="0.9"/>
<line x1="454.6" y1="17.5" x2="454.6" y2="129.3" stroke="#111" stroke-width="1.2" stroke-dasharray="3,2"/>
<text x="379.66" y="57.7" font-size="8.5" text-anchor="middle" transform="rotate(-90 379.66 57.7)" textLength="41.6" lengthAdjust="spacingAndGlyphs">Histogram</text>
<line x1="377.6" y1="147.6" x2="377.6" y2="90.7" stroke="#111" stroke-width="1.5"/>
<polygon points="373.9,91.2 381.3,91.2 377.6,82.6" fill="#111"/>
<line x1="376.85" y1="147.6" x2="405.3" y2="147.6" stroke="#111" stroke-width="1.5"/>
<polygon points="404.8,143.9 404.8,151.3 413.4,147.6" fill="#111"/>
<text x="420" y="151.2" font-size="10.08" transform="translate(420 151.2) scale(0.8929 1) translate(-420 -151.2)" textLength="32.7" lengthAdjust="spacingAndGlyphs">F-Actin</text>
<line x1="390.07" y1="129.3" x2="390.07" y2="130.8" stroke="#444" stroke-width="0.55"/>
<line x1="393.33" y1="129.3" x2="393.33" y2="130.8" stroke="#444" stroke-width="0.55"/>
<line x1="400.1" y1="129.3" x2="400.1" y2="130.8" stroke="#444" stroke-width="0.55"/>
<line x1="403.6" y1="129.3" x2="403.6" y2="130.8" stroke="#444" stroke-width="0.55"/>
<line x1="407.1" y1="129.3" x2="407.1" y2="130.8" stroke="#444" stroke-width="0.55"/>
<line x1="410.6" y1="129.3" x2="410.6" y2="130.8" stroke="#444" stroke-width="0.55"/>
<line x1="417.9" y1="129.3" x2="417.9" y2="130.8" stroke="#444" stroke-width="0.55"/>
<line x1="421.7" y1="129.3" x2="421.7" y2="130.8" stroke="#444" stroke-width="0.55"/>
<line x1="425.5" y1="129.3" x2="425.5" y2="130.8" stroke="#444" stroke-width="0.55"/>
<line x1="429.3" y1="129.3" x2="429.3" y2="130.8" stroke="#444" stroke-width="0.55"/>
<line x1="436.43" y1="129.3" x2="436.43" y2="130.8" stroke="#444" stroke-width="0.55"/>
<line x1="439.75" y1="129.3" x2="439.75" y2="130.8" stroke="#444" stroke-width="0.55"/>
<line x1="443.07" y1="129.3" x2="443.07" y2="130.8" stroke="#444" stroke-width="0.55"/>
<line x1="446.4" y1="129.3" x2="446.4" y2="130.8" stroke="#444" stroke-width="0.55"/>
<line x1="449.73" y1="129.3" x2="449.73" y2="130.8" stroke="#444" stroke-width="0.55"/>
<line x1="453.05" y1="129.3" x2="453.05" y2="130.8" stroke="#444" stroke-width="0.55"/>
<line x1="456.38" y1="129.3" x2="456.38" y2="130.8" stroke="#444" stroke-width="0.55"/>
<line x1="463.16" y1="129.3" x2="463.16" y2="130.8" stroke="#444" stroke-width="0.55"/>
<line x1="466.62" y1="129.3" x2="466.62" y2="130.8" stroke="#444" stroke-width="0.55"/>
<line x1="470.09" y1="129.3" x2="470.09" y2="130.8" stroke="#444" stroke-width="0.55"/>
<line x1="473.55" y1="129.3" x2="473.55" y2="130.8" stroke="#444" stroke-width="0.55"/>
<line x1="477.01" y1="129.3" x2="477.01" y2="130.8" stroke="#444" stroke-width="0.55"/>
<line x1="480.47" y1="129.3" x2="480.47" y2="130.8" stroke="#444" stroke-width="0.55"/>
<line x1="483.94" y1="129.3" x2="483.94" y2="130.8" stroke="#444" stroke-width="0.55"/>
<line x1="491.1" y1="129.3" x2="491.1" y2="130.8" stroke="#444" stroke-width="0.55"/>
<line x1="494.8" y1="129.3" x2="494.8" y2="130.8" stroke="#444" stroke-width="0.55"/>
<line x1="396.6" y1="129.3" x2="396.6" y2="132.1" stroke="#222" stroke-width="0.9"/>
<text x="396.6" y="139.6" font-size="5" text-anchor="middle" fill="#333" font-weight="normal">-10<tspan font-size="3.60" dy="-2.2">3</tspan></text>
<line x1="414.1" y1="129.3" x2="414.1" y2="132.1" stroke="#222" stroke-width="0.9"/>
<text x="414.1" y="139.6" font-size="5" text-anchor="middle" fill="#333" font-weight="normal">0</text>
<line x1="433.1" y1="129.3" x2="433.1" y2="132.1" stroke="#222" stroke-width="0.9"/>
<text x="433.1" y="139.6" font-size="5" text-anchor="middle" fill="#333" font-weight="normal">10<tspan font-size="3.60" dy="-2.2">3</tspan></text>
<line x1="459.7" y1="129.3" x2="459.7" y2="132.1" stroke="#222" stroke-width="0.9"/>
<text x="459.7" y="139.6" font-size="5" text-anchor="middle" fill="#333" font-weight="normal">10<tspan font-size="3.60" dy="-2.2">4</tspan></text>
<line x1="487.4" y1="129.3" x2="487.4" y2="132.1" stroke="#222" stroke-width="0.9"/>
<text x="487.4" y="139.6" font-size="5" text-anchor="middle" fill="#333" font-weight="normal">10<tspan font-size="3.60" dy="-2.2">5</tspan></text>
<rect x="410.7" y="129.5" width="3.2" height="2.3" fill="#111"/>
<rect x="502.9" y="21.2" width="5.9" height="5.1" fill="#c9c9f7" stroke="#8f8ff2" stroke-width="0.6"/>
<rect x="502.9" y="33.9" width="5.9" height="4.8" fill="#e4c9f7" stroke="#c78af2" stroke-width="0.6"/>
<text x="512.3" y="27" font-size="9">IgG</text>
<text x="512.3" y="38.7" font-size="9" textLength="26.8" lengthAdjust="spacingAndGlyphs">αTIGIT</text>
<text x="552.9" y="12.92" font-size="15">D</text>
<line x1="599.6" y1="31" x2="599.6" y2="132.3" stroke="#222" stroke-width="1.45"/>
<line x1="595.1" y1="132.3" x2="600.33" y2="132.3" stroke="#222" stroke-width="1.305"/>
<text x="593.9" y="135.36" font-size="8.74" text-anchor="end" transform="translate(593.9 135.36) scale(0.8696 1) translate(-593.9 -135.36)">0</text>
<line x1="595.1" y1="98.53" x2="600.33" y2="98.53" stroke="#222" stroke-width="1.305"/>
<text x="593.9" y="101.59" font-size="8.74" text-anchor="end" transform="translate(593.9 101.59) scale(0.8696 1) translate(-593.9 -101.59)">5000</text>
<line x1="595.1" y1="64.77" x2="600.33" y2="64.77" stroke="#222" stroke-width="1.305"/>
<text x="593.9" y="67.83" font-size="8.74" text-anchor="end" transform="translate(593.9 67.83) scale(0.8696 1) translate(-593.9 -67.83)">10000</text>
<line x1="595.1" y1="31" x2="600.33" y2="31" stroke="#222" stroke-width="1.305"/>
<text x="593.9" y="34.06" font-size="8.74" text-anchor="end" transform="translate(593.9 34.06) scale(0.8696 1) translate(-593.9 -34.06)">15000</text>
<line x1="599.6" y1="132.3" x2="667.7" y2="132.3" stroke="#222" stroke-width="1.45"/>
<line x1="619.3" y1="132.3" x2="619.3" y2="135.7" stroke="#222" stroke-width="1.305"/>
<line x1="648.1" y1="132.3" x2="648.1" y2="135.7" stroke="#222" stroke-width="1.305"/>
<polyline points="619,36.4 619,34.6 648.5,34.6 648.5,36.4" fill="none" stroke="#151515" stroke-width="1.1"/>
<text x="633.75" y="34.02" font-size="9" text-anchor="middle">*</text>
<circle cx="648.1" cy="66.3" r="2.3" fill="#e07ef8"/>
<circle cx="648.1" cy="86.1" r="2.3" fill="#e07ef8"/>
<circle cx="648.1" cy="92" r="2.3" fill="#e07ef8"/>
<circle cx="648.1" cy="94.7" r="2.3" fill="#e07ef8"/>
<circle cx="648.1" cy="99.1" r="2.3" fill="#e07ef8"/>
<circle cx="648.1" cy="109.3" r="2.3" fill="#e07ef8"/>
<line x1="619.3" y1="71.8" x2="648.1" y2="66.3" stroke="#111" stroke-width="1.05"/>
<line x1="619.3" y1="92" x2="648.1" y2="86.1" stroke="#111" stroke-width="1.05"/>
<line x1="619.3" y1="93" x2="648.1" y2="92" stroke="#111" stroke-width="1.05"/>
<line x1="619.3" y1="101.8" x2="648.1" y2="94.7" stroke="#111" stroke-width="1.05"/>
<line x1="619.3" y1="104.7" x2="648.1" y2="99.1" stroke="#111" stroke-width="1.05"/>
<line x1="619.3" y1="115.2" x2="648.1" y2="109.3" stroke="#111" stroke-width="1.05"/>
<circle cx="619.3" cy="71.8" r="2.3" fill="#8888fa"/>
<circle cx="619.3" cy="92" r="2.3" fill="#8888fa"/>
<circle cx="619.3" cy="93" r="2.3" fill="#8888fa"/>
<circle cx="619.3" cy="101.8" r="2.3" fill="#8888fa"/>
<circle cx="619.3" cy="104.7" r="2.3" fill="#8888fa"/>
<circle cx="619.3" cy="115.2" r="2.3" fill="#8888fa"/>
<text x="569.06" y="81.3" font-size="8.3" text-anchor="middle" transform="rotate(-90 569.06 81.3)" textLength="82.4" lengthAdjust="spacingAndGlyphs">MFI of Actin NK cells</text>
<text x="617.9" y="145.1" font-size="9.18" text-anchor="middle" transform="translate(617.9 145.1) scale(0.8929 1) translate(-617.9 -145.1)" textLength="14.56" lengthAdjust="spacingAndGlyphs">IgG</text>
<text x="648.1" y="145.1" font-size="9.18" text-anchor="middle" transform="translate(648.1 145.1) scale(0.8929 1) translate(-648.1 -145.1)">αTigit</text>
<text x="0" y="194.56" font-size="15.5">E</text>
<line x1="40.9" y1="203.8" x2="40.9" y2="306.4" stroke="#222" stroke-width="1.45"/>
<line x1="36.9" y1="306.4" x2="41.62" y2="306.4" stroke="#222" stroke-width="1.305"/>
<text x="35.7" y="309.38" font-size="8.51" text-anchor="end" transform="translate(35.7 309.38) scale(0.8696 1) translate(-35.7 -309.38)">0</text>
<line x1="36.9" y1="285.88" x2="41.62" y2="285.88" stroke="#222" stroke-width="1.305"/>
<text x="35.7" y="288.86" font-size="8.51" text-anchor="end" transform="translate(35.7 288.86) scale(0.8696 1) translate(-35.7 -288.86)">10</text>
<line x1="36.9" y1="265.36" x2="41.62" y2="265.36" stroke="#222" stroke-width="1.305"/>
<text x="35.7" y="268.34" font-size="8.51" text-anchor="end" transform="translate(35.7 268.34) scale(0.8696 1) translate(-35.7 -268.34)">20</text>
<line x1="36.9" y1="244.84" x2="41.62" y2="244.84" stroke="#222" stroke-width="1.305"/>
<text x="35.7" y="247.82" font-size="8.51" text-anchor="end" transform="translate(35.7 247.82) scale(0.8696 1) translate(-35.7 -247.82)">30</text>
<line x1="36.9" y1="224.32" x2="41.62" y2="224.32" stroke="#222" stroke-width="1.305"/>
<text x="35.7" y="227.3" font-size="8.51" text-anchor="end" transform="translate(35.7 227.3) scale(0.8696 1) translate(-35.7 -227.3)">40</text>
<line x1="36.9" y1="203.8" x2="41.62" y2="203.8" stroke="#222" stroke-width="1.305"/>
<text x="35.7" y="206.78" font-size="8.51" text-anchor="end" transform="translate(35.7 206.78) scale(0.8696 1) translate(-35.7 -206.78)">50</text>
<line x1="40.9" y1="306.4" x2="109.5" y2="306.4" stroke="#222" stroke-width="1.45"/>
<line x1="59.6" y1="306.4" x2="59.6" y2="310.4" stroke="#222" stroke-width="1.305"/>
<line x1="89.3" y1="306.4" x2="89.3" y2="310.4" stroke="#222" stroke-width="1.305"/>
<polyline points="60.1,205.9 60.1,204.1 89.3,204.1 89.3,205.9" fill="none" stroke="#151515" stroke-width="1.1"/>
<text x="74.7" y="203.52" font-size="9" text-anchor="middle">*</text>
<circle cx="89.3" cy="212.01" r="2.3" fill="#e07ef8"/>
<circle cx="89.3" cy="236.63" r="2.3" fill="#e07ef8"/>
<circle cx="89.3" cy="257.15" r="2.3" fill="#e07ef8"/>
<circle cx="89.3" cy="273.57" r="2.3" fill="#e07ef8"/>
<circle cx="89.3" cy="275.62" r="2.3" fill="#e07ef8"/>
<circle cx="89.3" cy="286.91" r="2.3" fill="#e07ef8"/>
<circle cx="89.3" cy="286.91" r="2.3" fill="#e07ef8"/>
<line x1="59.6" y1="224.32" x2="89.3" y2="212.01" stroke="#111" stroke-width="1.05"/>
<line x1="59.6" y1="242.79" x2="89.3" y2="236.63" stroke="#111" stroke-width="1.05"/>
<line x1="59.6" y1="259.2" x2="89.3" y2="257.15" stroke="#111" stroke-width="1.05"/>
<line x1="59.6" y1="277.67" x2="89.3" y2="273.57" stroke="#111" stroke-width="1.05"/>
<line x1="59.6" y1="279.72" x2="89.3" y2="275.62" stroke="#111" stroke-width="1.05"/>
<line x1="59.6" y1="287.93" x2="89.3" y2="286.91" stroke="#111" stroke-width="1.05"/>
<line x1="59.6" y1="291.63" x2="89.3" y2="286.91" stroke="#111" stroke-width="1.05"/>
<circle cx="59.6" cy="224.32" r="2.3" fill="#8888fa"/>
<circle cx="59.6" cy="242.79" r="2.3" fill="#8888fa"/>
<circle cx="59.6" cy="259.2" r="2.3" fill="#8888fa"/>
<circle cx="59.6" cy="277.67" r="2.3" fill="#8888fa"/>
<circle cx="59.6" cy="279.72" r="2.3" fill="#8888fa"/>
<circle cx="59.6" cy="287.93" r="2.3" fill="#8888fa"/>
<circle cx="59.6" cy="291.63" r="2.3" fill="#8888fa"/>
<text x="22.27" y="255.6" font-size="8.5" text-anchor="middle" transform="rotate(-90 22.27 255.6)" textLength="98.3" lengthAdjust="spacingAndGlyphs">Migratory NK cells(*10<tspan font-size="5.5" dy="-3">4</tspan><tspan dy="3">)</tspan></text>
<text x="59.6" y="319.2" font-size="9.18" text-anchor="middle" transform="translate(59.6 319.2) scale(0.8929 1) translate(-59.6 -319.2)">IgG</text>
<text x="89.3" y="319.2" font-size="9.18" text-anchor="middle" transform="translate(89.3 319.2) scale(0.8929 1) translate(-89.3 -319.2)">αTIGIT</text>
<text x="137.9" y="194.56" font-size="15.5">F</text>
<line x1="182.3" y1="201.2" x2="182.3" y2="303.4" stroke="#222" stroke-width="1.45"/>
<line x1="178.3" y1="303.4" x2="183.03" y2="303.4" stroke="#222" stroke-width="1.305"/>
<text x="177.1" y="306.38" font-size="8.51" text-anchor="end" transform="translate(177.1 306.38) scale(0.8696 1) translate(-177.1 -306.38)">0</text>
<line x1="178.3" y1="277.85" x2="183.03" y2="277.85" stroke="#222" stroke-width="1.305"/>
<text x="177.1" y="280.83" font-size="8.51" text-anchor="end" transform="translate(177.1 280.83) scale(0.8696 1) translate(-177.1 -280.83)">20</text>
<line x1="178.3" y1="252.3" x2="183.03" y2="252.3" stroke="#222" stroke-width="1.305"/>
<text x="177.1" y="255.28" font-size="8.51" text-anchor="end" transform="translate(177.1 255.28) scale(0.8696 1) translate(-177.1 -255.28)">40</text>
<line x1="178.3" y1="226.75" x2="183.03" y2="226.75" stroke="#222" stroke-width="1.305"/>
<text x="177.1" y="229.73" font-size="8.51" text-anchor="end" transform="translate(177.1 229.73) scale(0.8696 1) translate(-177.1 -229.73)">60</text>
<line x1="178.3" y1="201.2" x2="183.03" y2="201.2" stroke="#222" stroke-width="1.305"/>
<text x="177.1" y="204.18" font-size="8.51" text-anchor="end" transform="translate(177.1 204.18) scale(0.8696 1) translate(-177.1 -204.18)">80</text>
<line x1="182.3" y1="303.4" x2="250.6" y2="303.4" stroke="#222" stroke-width="1.45"/>
<line x1="201.7" y1="303.4" x2="201.7" y2="307.4" stroke="#222" stroke-width="1.305"/>
<line x1="231" y1="303.4" x2="231" y2="307.4" stroke="#222" stroke-width="1.305"/>
<polyline points="201.5,221.5 201.5,219.7 231,219.7 231,221.5" fill="none" stroke="#151515" stroke-width="1.1"/>
<text x="216.25" y="219.12" font-size="9" text-anchor="middle">*</text>
<circle cx="231" cy="258.69" r="2.3" fill="#e07ef8"/>
<circle cx="231" cy="260.6" r="2.3" fill="#e07ef8"/>
<circle cx="231" cy="280.4" r="2.3" fill="#e07ef8"/>
<circle cx="231" cy="259.33" r="2.3" fill="#e07ef8"/>
<circle cx="231" cy="288.07" r="2.3" fill="#e07ef8"/>
<circle cx="231" cy="289.35" r="2.3" fill="#e07ef8"/>
<circle cx="231" cy="293.18" r="2.3" fill="#e07ef8"/>
<line x1="201.7" y1="228.03" x2="231" y2="258.69" stroke="#111" stroke-width="1.05"/>
<line x1="201.7" y1="231.86" x2="231" y2="260.6" stroke="#111" stroke-width="1.05"/>
<line x1="201.7" y1="247.19" x2="231" y2="280.4" stroke="#111" stroke-width="1.05"/>
<line x1="201.7" y1="252.3" x2="231" y2="259.33" stroke="#111" stroke-width="1.05"/>
<line x1="201.7" y1="285.51" x2="231" y2="288.07" stroke="#111" stroke-width="1.05"/>
<line x1="201.7" y1="286.15" x2="231" y2="289.35" stroke="#111" stroke-width="1.05"/>
<line x1="201.7" y1="286.79" x2="231" y2="293.18" stroke="#111" stroke-width="1.05"/>
<circle cx="201.7" cy="228.03" r="2.3" fill="#8888fa"/>
<circle cx="201.7" cy="231.86" r="2.3" fill="#8888fa"/>
<circle cx="201.7" cy="247.19" r="2.3" fill="#8888fa"/>
<circle cx="201.7" cy="252.3" r="2.3" fill="#8888fa"/>
<circle cx="201.7" cy="285.51" r="2.3" fill="#8888fa"/>
<circle cx="201.7" cy="286.15" r="2.3" fill="#8888fa"/>
<circle cx="201.7" cy="286.79" r="2.3" fill="#8888fa"/>
<text x="161.34" y="251.7" font-size="8.4" text-anchor="middle" transform="rotate(-90 161.34 251.7)">Migratory NK cells(*10<tspan font-size="5.5" dy="-3">4</tspan><tspan dy="3">)</tspan></text>
<text x="201.7" y="316.9" font-size="9.18" text-anchor="middle" transform="translate(201.7 316.9) scale(0.8929 1) translate(-201.7 -316.9)">IgG</text>
<text x="231" y="316.9" font-size="9.18" text-anchor="middle" transform="translate(231 316.9) scale(0.8929 1) translate(-231 -316.9)">Fc-CD155</text>
<text x="277.7" y="194.62" font-size="15">G</text>
<line x1="337.8" y1="197.2" x2="337.8" y2="299.9" stroke="#222" stroke-width="1.45"/>
<line x1="333.8" y1="299.9" x2="338.53" y2="299.9" stroke="#222" stroke-width="1.305"/>
<text x="332.6" y="302.88" font-size="8.51" text-anchor="end" transform="translate(332.6 302.88) scale(0.8696 1) translate(-332.6 -302.88)">2.0</text>
<line x1="333.8" y1="279.36" x2="338.53" y2="279.36" stroke="#222" stroke-width="1.305"/>
<text x="332.6" y="282.34" font-size="8.51" text-anchor="end" transform="translate(332.6 282.34) scale(0.8696 1) translate(-332.6 -282.34)">2.5</text>
<line x1="333.8" y1="258.82" x2="338.53" y2="258.82" stroke="#222" stroke-width="1.305"/>
<text x="332.6" y="261.8" font-size="8.51" text-anchor="end" transform="translate(332.6 261.8) scale(0.8696 1) translate(-332.6 -261.8)">3.0</text>
<line x1="333.8" y1="238.28" x2="338.53" y2="238.28" stroke="#222" stroke-width="1.305"/>
<text x="332.6" y="241.26" font-size="8.51" text-anchor="end" transform="translate(332.6 241.26) scale(0.8696 1) translate(-332.6 -241.26)">3.5</text>
<line x1="333.8" y1="217.74" x2="338.53" y2="217.74" stroke="#222" stroke-width="1.305"/>
<text x="332.6" y="220.72" font-size="8.51" text-anchor="end" transform="translate(332.6 220.72) scale(0.8696 1) translate(-332.6 -220.72)">4.0</text>
<line x1="333.8" y1="197.2" x2="338.53" y2="197.2" stroke="#222" stroke-width="1.305"/>
<text x="332.6" y="200.18" font-size="8.51" text-anchor="end" transform="translate(332.6 200.18) scale(0.8696 1) translate(-332.6 -200.18)">4.5</text>
<line x1="337.8" y1="299.9" x2="456.7" y2="299.9" stroke="#222" stroke-width="1.45"/>
<line x1="337.8" y1="299.9" x2="337.8" y2="302.9" stroke="#222" stroke-width="1.305"/>
<line x1="367.52" y1="299.9" x2="367.52" y2="302.9" stroke="#222" stroke-width="1.305"/>
<line x1="397.25" y1="299.9" x2="397.25" y2="302.9" stroke="#222" stroke-width="1.305"/>
<line x1="426.98" y1="299.9" x2="426.98" y2="302.9" stroke="#222" stroke-width="1.305"/>
<line x1="456.7" y1="299.9" x2="456.7" y2="302.9" stroke="#222" stroke-width="1.305"/>
<text x="337.8" y="312.9" font-size="8.51" text-anchor="middle" transform="translate(337.8 312.9) scale(0.8696 1) translate(-337.8 -312.9)">0</text>
<text x="367.52" y="312.9" font-size="8.51" text-anchor="middle" transform="translate(367.52 312.9) scale(0.8696 1) translate(-367.52 -312.9)">2</text>
<text x="397.25" y="312.9" font-size="8.51" text-anchor="middle" transform="translate(397.25 312.9) scale(0.8696 1) translate(-397.25 -312.9)">4</text>
<text x="426.98" y="312.9" font-size="8.51" text-anchor="middle" transform="translate(426.98 312.9) scale(0.8696 1) translate(-426.98 -312.9)">6</text>
<text x="456.7" y="312.9" font-size="8.51" text-anchor="middle" transform="translate(456.7 312.9) scale(0.8696 1) translate(-456.7 -312.9)">8</text>
<line x1="344.4" y1="274.3" x2="436.6" y2="233.2" stroke="#f03a3a" stroke-width="1.1"/>
<circle cx="344.4" cy="282.8" r="2" fill="#111"/>
<circle cx="354" cy="278" r="2" fill="#111"/>
<circle cx="362.3" cy="246.9" r="2" fill="#111"/>
<circle cx="416.3" cy="259.1" r="2" fill="#111"/>
<circle cx="423.8" cy="215.5" r="2" fill="#111"/>
<circle cx="436.9" cy="243.7" r="2" fill="#111"/>
<text x="446.6" y="204.9" font-size="9.6" fill="#f03030" transform="translate(446.6 204.9) scale(0.8333 1) translate(-446.6 -204.9)" textLength="39.72" lengthAdjust="spacingAndGlyphs">r=0.8857</text>
<text x="446.6" y="215.1" font-size="9.6" fill="#f03030" transform="translate(446.6 215.1) scale(0.8333 1) translate(-446.6 -215.1)" textLength="42.84" lengthAdjust="spacingAndGlyphs">P=0.0333</text>
<text x="309.88" y="249" font-size="8.2" text-anchor="middle" transform="rotate(-90 309.88 249)" textLength="130.5" lengthAdjust="spacingAndGlyphs">Transcripts per million of HIF1A</text>
<text x="332" y="324.7" font-size="9.18" transform="translate(332 324.7) scale(0.8929 1) translate(-332 -324.7)" textLength="146.16" lengthAdjust="spacingAndGlyphs">Transcripts per million of ACTN1</text>
<text x="507.6" y="194.56" font-size="15.5">H</text>
<path d="M541,222.1 L541,222.1 L541.5,222.1 L542,222.1 L542.5,222.1 L543,222.1 L543.5,222.1 L544,222.1 L544.5,222.1 L545,222.1 L545.5,222.1 L546,222.1 L546.5,222.1 L547,222.1 L547.5,222.1 L548,222.1 L548.5,222.1 L549,222.1 L549.5,222.1 L550,222.1 L550.5,222.1 L551,222.1 L551.5,222.1 L552,222.1 L552.5,222.1 L553,222.1 L553.5,222.1 L554,222.1 L554.5,222.1 L555,222.1 L555.5,222.1 L556,222.1 L556.5,222.1 L557,222.1 L557.5,222.1 L558,222.1 L558.5,222.1 L559,222.1 L559.5,222.1 L560,222.1 L560.5,222.1 L561,222.1 L561.5,222.1 L562,222.1 L562.5,222.1 L563,222.1 L563.5,222.1 L564,222.1 L564.5,222.1 L565,222.1 L565.5,222.1 L566,222.1 L566.5,222.1 L567,222.1 L567.5,222.1 L568,222.1 L568.5,222.1 L569,222.1 L569.5,222.1 L570,222.1 L570.5,222.1 L571,222.1 L571.5,222.1 L572,222.1 L572.5,221.99 L573,221.88 L573.5,221.77 L574,221.01 L574.5,219.29 L575,217.57 L575.5,215.51 L576,212.08 L576.5,208.65 L577,205.26 L577.5,202.07 L578,198.89 L578.5,195.7 L579,193.9 L579.5,192.1 L580,191.33 L580.5,190.57 L581,189.8 L581.5,192.48 L582,195.16 L582.5,199.78 L583,204.88 L583.5,208.65 L584,212.08 L584.5,215.51 L585,217.25 L585.5,218.56 L586,219.87 L586.5,221.18 L587,221.79 L587.5,221.95 L588,222.1 L588.5,222.1 L589,222.1 L589.5,222.1 L590,222.1 L590.5,222.1 L591,222.1 L591.5,222.1 L592,222.1 L592.5,222.1 L593,222.1 L593.5,222.1 L594,222.1 L594.5,222.1 L595,222.1 L595.5,222.1 L596,222.1 L596.5,222.1 L597,222.1 L597.5,222.1 L598,222.1 L598.5,222.1 L599,222.1 L599.5,222.1 L600,222.1 L600.5,222.1 L601,222.1 L601.5,222.1 L602,222.1 L602.5,222.1 L603,222.1 L603.5,222.1 L604,222.1 L604.5,222.1 L605,222.1 L605.5,222.1 L606,222.1 L606.5,222.1 L607,222.1 L607.5,222.1 L608,222.1 L608.5,222.1 L609,222.1 L609.5,222.1 L610,222.1 L610.5,222.1 L611,222.1 L611.5,222.1 L612,222.1 L612.5,222.1 L613,222.1 L613.5,222.1 L614,222.1 L614.5,222.1 L615,222.1 L615.5,222.1 L616,222.1 L616.5,222.1 L617,222.1 L617.5,222.1 L618,222.1 L618.5,222.1 L619,222.1 L619.5,222.1 L620,222.1 L620.5,222.1 L621,222.1 L621.5,222.1 L622,222.1 L622.5,222.1 L623,222.1 L623.5,222.1 L624,222.1 L624.5,222.1 L625,222.1 L625.5,222.1 L626,222.1 L626.5,222.1 L627,222.1 L627.5,222.1 L628,222.1 L628.5,222.1 L629,222.1 L629.5,222.1 L630,222.1 L630.5,222.1 L631,222.1 L631.5,222.1 L632,222.1 L632.5,222.1 L633,222.1 L633.5,222.1 L634,222.1 L634.5,222.1 L635,222.1 L635.5,222.1 L636,222.1 L636.5,222.1 L637,222.1 L637.5,222.1 L638,222.1 L638.5,222.1 L639,222.1 L639.5,222.1 L640,222.1 L640.5,222.1 L641,222.1 L641.5,222.1 L642,222.1 L642.5,222.1 L643,222.1 L643,222.1 Z" fill="#e6e6e6"/>
<line x1="540.4" y1="222.3" x2="643.7" y2="222.3" stroke="#ececec" stroke-width="0.7"/>
<path d="M541,256.1 L541,256.1 L541.5,256.1 L542,256.1 L542.5,256.1 L543,256.1 L543.5,256.1 L544,256.1 L544.5,256.1 L545,256.1 L545.5,256.1 L546,256.1 L546.5,256.1 L547,256.1 L547.5,256.1 L548,256.1 L548.5,256.1 L549,256.1 L549.5,256.1 L550,256.1 L550.5,256.1 L551,256.1 L551.5,256.1 L552,256.1 L552.5,256.1 L553,256.1 L553.5,256.1 L554,256.1 L554.5,256.1 L555,256.1 L555.5,256.1 L556,256.1 L556.5,256.1 L557,256.1 L557.5,256.1 L558,256.1 L558.5,256.1 L559,256.1 L559.5,256.1 L560,256.1 L560.5,256.1 L561,256.1 L561.5,256.1 L562,256.1 L562.5,256.1 L563,256.1 L563.5,256.1 L564,256.1 L564.5,256.1 L565,256.1 L565.5,256.1 L566,256.1 L566.5,256.1 L567,256.1 L567.5,256.1 L568,256.1 L568.5,256.1 L569,256.1 L569.5,256.1 L570,256.1 L570.5,255.99 L571,255.88 L571.5,255.77 L572,255.66 L572.5,255.59 L573,255.41 L573.5,255.42 L574,255.24 L574.5,255.25 L575,255.13 L575.5,254.86 L576,254.95 L576.5,254.71 L577,254.5 L577.5,254.24 L578,253.96 L578.5,253.84 L579,253.26 L579.5,253.41 L580,253.08 L580.5,252.97 L581,252.55 L581.5,252.19 L582,251.51 L582.5,251.54 L583,251.36 L583.5,250.77 L584,249.44 L584.5,250.14 L585,248.94 L585.5,248.83 L586,247.92 L586.5,247.97 L587,246.94 L587.5,246.79 L588,246.04 L588.5,245.1 L589,245.08 L589.5,245.24 L590,244.83 L590.5,242.89 L591,243.05 L591.5,242.96 L592,241.19 L592.5,241.21 L593,240.82 L593.5,241.05 L594,242.47 L594.5,242.83 L595,242.83 L595.5,244.85 L596,244.68 L596.5,246.58 L597,246.46 L597.5,247.28 L598,247.76 L598.5,248.82 L599,250.12 L599.5,251.27 L600,252.1 L600.5,252.26 L601,252.76 L601.5,253.5 L602,253.54 L602.5,254.22 L603,254.65 L603.5,255.02 L604,255.21 L604.5,255.43 L605,255.58 L605.5,255.61 L606,255.63 L606.5,255.65 L607,255.67 L607.5,255.68 L608,255.7 L608.5,255.71 L609,255.72 L609.5,255.73 L610,255.75 L610.5,255.76 L611,255.77 L611.5,255.78 L612,255.79 L612.5,255.84 L613,255.92 L613.5,256.01 L614,256.1 L614.5,256.1 L615,256.1 L615.5,256.1 L616,256.1 L616.5,256.1 L617,256.1 L617.5,256.1 L618,256.1 L618.5,256.1 L619,256.1 L619.5,256.1 L620,256.1 L620.5,256.1 L621,256.1 L621.5,256.1 L622,256.1 L622.5,256.1 L623,256.1 L623.5,256.1 L624,256.1 L624.5,256.1 L625,256.1 L625.5,256.1 L626,256.1 L626.5,256.1 L627,256.1 L627.5,256.1 L628,256.1 L628.5,256.1 L629,256.1 L629.5,256.1 L630,256.1 L630.5,256.1 L631,256.1 L631.5,256.1 L632,256.1 L632.5,256.1 L633,256.1 L633.5,256.1 L634,256.1 L634.5,256.1 L635,256.1 L635.5,256.1 L636,256.1 L636.5,256.1 L637,256.1 L637.5,256.1 L638,256.1 L638.5,256.1 L639,256.1 L639.5,256.1 L640,256.1 L640.5,256.1 L641,256.1 L641.5,256.1 L642,256.1 L642.5,256.1 L643,256.1 L643,256.1 Z" fill="#8e8ef7"/>
<line x1="540.4" y1="256.2" x2="643.7" y2="256.2" stroke="#b5b5f8" stroke-width="0.7"/>
<path d="M541,290.3 L541,290.3 L541.5,290.3 L542,290.3 L542.5,290.3 L543,290.3 L543.5,290.3 L544,290.3 L544.5,290.3 L545,290.3 L545.5,290.3 L546,290.3 L546.5,290.3 L547,290.3 L547.5,290.3 L548,290.3 L548.5,290.3 L549,290.3 L549.5,290.3 L550,290.3 L550.5,290.3 L551,290.3 L551.5,290.3 L552,290.3 L552.5,290.3 L553,290.3 L553.5,290.3 L554,290.3 L554.5,290.3 L555,290.3 L555.5,290.3 L556,290.3 L556.5,290.3 L557,290.3 L557.5,290.3 L558,290.3 L558.5,290.3 L559,290.3 L559.5,290.3 L560,290.3 L560.5,290.3 L561,290.3 L561.5,290.3 L562,290.3 L562.5,290.3 L563,290.3 L563.5,290.3 L564,290.3 L564.5,290.3 L565,290.3 L565.5,290.3 L566,290.3 L566.5,290.3 L567,290.3 L567.5,290.3 L568,290.3 L568.5,290.21 L569,290.13 L569.5,290.04 L570,289.95 L570.5,289.81 L571,289.58 L571.5,289.36 L572,289.19 L572.5,288.77 L573,288.8 L573.5,288.37 L574,287.86 L574.5,287.93 L575,287.35 L575.5,286.97 L576,287.05 L576.5,286.48 L577,285.89 L577.5,285.77 L578,285.18 L578.5,285.32 L579,284.81 L579.5,284.55 L580,283.61 L580.5,282.56 L581,282.58 L581.5,281.84 L582,282.01 L582.5,280.99 L583,281.57 L583.5,280.82 L584,279.6 L584.5,278.88 L585,278.72 L585.5,278.61 L586,277.67 L586.5,277.4 L587,276.92 L587.5,275.71 L588,276.33 L588.5,275.21 L589,275.44 L589.5,276.98 L590,276.68 L590.5,276.71 L591,278.27 L591.5,278.43 L592,278.46 L592.5,280.54 L593,280.52 L593.5,281.98 L594,281.94 L594.5,282.17 L595,283.86 L595.5,284.75 L596,285.3 L596.5,285.46 L597,286.41 L597.5,286.82 L598,287 L598.5,287.26 L599,288.04 L599.5,288.54 L600,288.73 L600.5,289.14 L601,289.29 L601.5,289.62 L602,289.85 L602.5,289.98 L603,290.09 L603.5,290.19 L604,290.3 L604.5,290.3 L605,290.3 L605.5,290.3 L606,290.3 L606.5,290.3 L607,290.3 L607.5,290.3 L608,290.3 L608.5,290.3 L609,290.3 L609.5,290.3 L610,290.3 L610.5,290.3 L611,290.3 L611.5,290.3 L612,290.3 L612.5,290.3 L613,290.3 L613.5,290.3 L614,290.3 L614.5,290.3 L615,290.3 L615.5,290.3 L616,290.3 L616.5,290.3 L617,290.3 L617.5,290.3 L618,290.3 L618.5,290.3 L619,290.3 L619.5,290.3 L620,290.3 L620.5,290.3 L621,290.3 L621.5,290.3 L622,290.3 L622.5,290.3 L623,290.3 L623.5,290.3 L624,290.3 L624.5,290.3 L625,290.3 L625.5,290.3 L626,290.3 L626.5,290.3 L627,290.3 L627.5,290.3 L628,290.3 L628.5,290.3 L629,290.3 L629.5,290.3 L630,290.3 L630.5,290.3 L631,290.3 L631.5,290.3 L632,290.3 L632.5,290.3 L633,290.3 L633.5,290.3 L634,290.3 L634.5,290.3 L635,290.3 L635.5,290.3 L636,290.3 L636.5,290.3 L637,290.3 L637.5,290.3 L638,290.3 L638.5,290.3 L639,290.3 L639.5,290.3 L640,290.3 L640.5,290.3 L641,290.3 L641.5,290.3 L642,290.3 L642.5,290.3 L643,290.3 L643,290.3 Z" fill="#f29090"/>
<rect x="540.4" y="187" width="103.3" height="103.4" fill="none" stroke="#777" stroke-width="0.9"/>
<line x1="540.4" y1="290.4" x2="643.7" y2="290.4" stroke="#333" stroke-width="0.9"/>
<line x1="544.45" y1="290.4" x2="544.45" y2="291.9" stroke="#444" stroke-width="0.55"/>
<line x1="551.9" y1="290.4" x2="551.9" y2="291.9" stroke="#444" stroke-width="0.55"/>
<line x1="555.3" y1="290.4" x2="555.3" y2="291.9" stroke="#444" stroke-width="0.55"/>
<line x1="558.7" y1="290.4" x2="558.7" y2="291.9" stroke="#444" stroke-width="0.55"/>
<line x1="562.1" y1="290.4" x2="562.1" y2="291.9" stroke="#444" stroke-width="0.55"/>
<line x1="565.5" y1="290.4" x2="565.5" y2="291.9" stroke="#444" stroke-width="0.55"/>
<line x1="568.9" y1="290.4" x2="568.9" y2="291.9" stroke="#444" stroke-width="0.55"/>
<line x1="572.3" y1="290.4" x2="572.3" y2="291.9" stroke="#444" stroke-width="0.55"/>
<line x1="575.7" y1="290.4" x2="575.7" y2="291.9" stroke="#444" stroke-width="0.55"/>
<line x1="582.31" y1="290.4" x2="582.31" y2="291.9" stroke="#444" stroke-width="0.55"/>
<line x1="585.52" y1="290.4" x2="585.52" y2="291.9" stroke="#444" stroke-width="0.55"/>
<line x1="588.73" y1="290.4" x2="588.73" y2="291.9" stroke="#444" stroke-width="0.55"/>
<line x1="591.94" y1="290.4" x2="591.94" y2="291.9" stroke="#444" stroke-width="0.55"/>
<line x1="595.15" y1="290.4" x2="595.15" y2="291.9" stroke="#444" stroke-width="0.55"/>
<line x1="598.36" y1="290.4" x2="598.36" y2="291.9" stroke="#444" stroke-width="0.55"/>
<line x1="601.57" y1="290.4" x2="601.57" y2="291.9" stroke="#444" stroke-width="0.55"/>
<line x1="604.78" y1="290.4" x2="604.78" y2="291.9" stroke="#444" stroke-width="0.55"/>
<line x1="607.99" y1="290.4" x2="607.99" y2="291.9" stroke="#444" stroke-width="0.55"/>
<line x1="614.43" y1="290.4" x2="614.43" y2="291.9" stroke="#444" stroke-width="0.55"/>
<line x1="617.65" y1="290.4" x2="617.65" y2="291.9" stroke="#444" stroke-width="0.55"/>
<line x1="620.88" y1="290.4" x2="620.88" y2="291.9" stroke="#444" stroke-width="0.55"/>
<line x1="624.1" y1="290.4" x2="624.1" y2="291.9" stroke="#444" stroke-width="0.55"/>
<line x1="627.33" y1="290.4" x2="627.33" y2="291.9" stroke="#444" stroke-width="0.55"/>
<line x1="630.55" y1="290.4" x2="630.55" y2="291.9" stroke="#444" stroke-width="0.55"/>
<line x1="633.77" y1="290.4" x2="633.77" y2="291.9" stroke="#444" stroke-width="0.55"/>
<line x1="640.35" y1="290.4" x2="640.35" y2="291.9" stroke="#444" stroke-width="0.55"/>
<line x1="548.5" y1="290.4" x2="548.5" y2="293.2" stroke="#222" stroke-width="0.9"/>
<text x="548.5" y="299.9" font-size="5" text-anchor="middle" fill="#333" font-weight="normal">-10<tspan font-size="3.60" dy="-2.2">4</tspan></text>
<line x1="579.1" y1="290.4" x2="579.1" y2="293.2" stroke="#222" stroke-width="0.9"/>
<text x="579.1" y="299.9" font-size="5" text-anchor="middle" fill="#333" font-weight="normal">0</text>
<line x1="611.2" y1="290.4" x2="611.2" y2="293.2" stroke="#222" stroke-width="0.9"/>
<text x="611.2" y="299.9" font-size="5" text-anchor="middle" fill="#333" font-weight="normal">10<tspan font-size="3.60" dy="-2.2">4</tspan></text>
<line x1="637" y1="290.4" x2="637" y2="293.2" stroke="#222" stroke-width="0.9"/>
<text x="637" y="299.9" font-size="5" text-anchor="middle" fill="#333" font-weight="normal">10<tspan font-size="3.60" dy="-2.2">5</tspan></text>
<rect x="575.7" y="290.6" width="3.2" height="2.3" fill="#111"/>
<text x="530.47" y="219" font-size="8.5" text-anchor="middle" transform="rotate(-90 530.47 219)" textLength="41.7" lengthAdjust="spacingAndGlyphs">Histogram</text>
<line x1="527.7" y1="308.3" x2="527.7" y2="251.9" stroke="#111" stroke-width="1.5"/>
<polygon points="524,252.4 531.4,252.4 527.7,243.8" fill="#111"/>
<line x1="526.95" y1="308.3" x2="548.4" y2="308.3" stroke="#111" stroke-width="1.5"/>
<polygon points="547.9,304.6 547.9,312 556.5,308.3" fill="#111"/>
<text x="558.2" y="311.5" font-size="9.74" transform="translate(558.2 311.5) scale(0.8929 1) translate(-558.2 -311.5)" textLength="30.02" lengthAdjust="spacingAndGlyphs">HIF-1α</text>
<rect x="652.2" y="191.4" width="12.8" height="6.4" fill="#d9d9d9" stroke="none" stroke-width="0"/>
<rect x="652.2" y="204.1" width="12.8" height="6.1" fill="#1c1cf0" stroke="none" stroke-width="0"/>
<rect x="652.2" y="216.5" width="12.8" height="6.3" fill="#f42222" stroke="none" stroke-width="0"/>
<text x="669.7" y="197.6" font-size="9.6" transform="translate(669.7 197.6) scale(0.8333 1) translate(-669.7 -197.6)">IsC</text>
<text x="669.7" y="210.5" font-size="9.6" transform="translate(669.7 210.5) scale(0.8333 1) translate(-669.7 -210.5)">HC</text>
<text x="669.7" y="223.2" font-size="9.6" transform="translate(669.7 223.2) scale(0.8333 1) translate(-669.7 -223.2)">HIV</text>
<text x="10.5" y="369.16" font-size="15.5">I</text>
<line x1="65.5" y1="397.2" x2="65.5" y2="482" stroke="#222" stroke-width="1.45"/>
<line x1="61.2" y1="482" x2="66.22" y2="482" stroke="#222" stroke-width="1.305"/>
<text x="60" y="484.94" font-size="8.39" text-anchor="end" transform="translate(60 484.94) scale(0.8696 1) translate(-60 -484.94)">0</text>
<line x1="61.2" y1="460.8" x2="66.22" y2="460.8" stroke="#222" stroke-width="1.305"/>
<text x="60" y="463.74" font-size="8.39" text-anchor="end" transform="translate(60 463.74) scale(0.8696 1) translate(-60 -463.74)">1000</text>
<line x1="61.2" y1="439.6" x2="66.22" y2="439.6" stroke="#222" stroke-width="1.305"/>
<text x="60" y="442.54" font-size="8.39" text-anchor="end" transform="translate(60 442.54) scale(0.8696 1) translate(-60 -442.54)">2000</text>
<line x1="61.2" y1="418.4" x2="66.22" y2="418.4" stroke="#222" stroke-width="1.305"/>
<text x="60" y="421.34" font-size="8.39" text-anchor="end" transform="translate(60 421.34) scale(0.8696 1) translate(-60 -421.34)">3000</text>
<line x1="61.2" y1="397.2" x2="68.2" y2="397.2" stroke="#222" stroke-width="1.2"/>
<text x="59.9" y="400.1" font-size="8.39" text-anchor="end" transform="translate(59.9 400.1) scale(0.8696 1) translate(-59.9 -400.1)">4000</text>
<line x1="65.5" y1="379.8" x2="65.5" y2="389.3" stroke="#222" stroke-width="1.3"/>
<line x1="61.2" y1="379.8" x2="66" y2="379.8" stroke="#222" stroke-width="1.2"/>
<line x1="61.2" y1="389.3" x2="68.2" y2="389.3" stroke="#222" stroke-width="1.2"/>
<text x="59.9" y="382.7" font-size="8.39" text-anchor="end" transform="translate(59.9 382.7) scale(0.8696 1) translate(-59.9 -382.7)">6000</text>
<text x="59.9" y="392.2" font-size="8.39" text-anchor="end" transform="translate(59.9 392.2) scale(0.8696 1) translate(-59.9 -392.2)">4000</text>
<line x1="61" y1="482" x2="134" y2="482" stroke="#222" stroke-width="1.45"/>
<line x1="85" y1="482" x2="85" y2="486" stroke="#222" stroke-width="1.305"/>
<line x1="114.2" y1="482" x2="114.2" y2="486" stroke="#222" stroke-width="1.305"/>
<line x1="61" y1="482" x2="65.5" y2="482" stroke="#222" stroke-width="1.2"/>
<polyline points="75.5,482 75.5,446 94.2,446 94.2,482" fill="none" stroke="#111" stroke-width="1.9"/>
<polyline points="105.5,482 105.5,457.4 123.4,457.4 123.4,482" fill="none" stroke="#111" stroke-width="1.9"/>
<circle cx="86.5" cy="417.52" r="2.2" fill="#2f2ff5"/>
<circle cx="79.93" cy="423.36" r="2.2" fill="#2f2ff5"/>
<circle cx="82.85" cy="424.09" r="2.2" fill="#2f2ff5"/>
<circle cx="85.77" cy="424.82" r="2.2" fill="#2f2ff5"/>
<circle cx="88.25" cy="425.11" r="2.2" fill="#2f2ff5"/>
<circle cx="83.58" cy="429.2" r="2.2" fill="#2f2ff5"/>
<circle cx="89.42" cy="430.66" r="2.2" fill="#2f2ff5"/>
<circle cx="77.01" cy="434.31" r="2.2" fill="#2f2ff5"/>
<circle cx="79.93" cy="432.85" r="2.2" fill="#2f2ff5"/>
<circle cx="85.77" cy="435.77" r="2.2" fill="#2f2ff5"/>
<circle cx="92.63" cy="435.04" r="2.2" fill="#2f2ff5"/>
<circle cx="79.93" cy="438.25" r="2.2" fill="#2f2ff5"/>
<circle cx="83.58" cy="438.69" r="2.2" fill="#2f2ff5"/>
<circle cx="87.23" cy="438.25" r="2.2" fill="#2f2ff5"/>
<circle cx="90.15" cy="437.23" r="2.2" fill="#2f2ff5"/>
<circle cx="86.5" cy="440.88" r="2.2" fill="#2f2ff5"/>
<circle cx="85.77" cy="448.18" r="2.2" fill="#2f2ff5"/>
<circle cx="89.42" cy="448.18" r="2.2" fill="#2f2ff5"/>
<circle cx="77.01" cy="454.74" r="2.2" fill="#2f2ff5"/>
<circle cx="79.93" cy="456.2" r="2.2" fill="#2f2ff5"/>
<circle cx="83.58" cy="455.47" r="2.2" fill="#2f2ff5"/>
<circle cx="86.5" cy="454.31" r="2.2" fill="#2f2ff5"/>
<circle cx="89.42" cy="456.2" r="2.2" fill="#2f2ff5"/>
<circle cx="93.07" cy="455.47" r="2.2" fill="#2f2ff5"/>
<circle cx="81.39" cy="459.85" r="2.2" fill="#2f2ff5"/>
<circle cx="84.31" cy="460.58" r="2.2" fill="#2f2ff5"/>
<circle cx="86.5" cy="459.12" r="2.2" fill="#2f2ff5"/>
<circle cx="79.2" cy="464.96" r="2.2" fill="#2f2ff5"/>
<circle cx="85.04" cy="465.69" r="2.2" fill="#2f2ff5"/>
<circle cx="92.34" cy="464.96" r="2.2" fill="#2f2ff5"/>
<circle cx="77.01" cy="467.45" r="2.2" fill="#2f2ff5"/>
<circle cx="83.58" cy="468.61" r="2.2" fill="#2f2ff5"/>
<circle cx="89.42" cy="467.88" r="2.2" fill="#2f2ff5"/>
<circle cx="80.66" cy="471.82" r="2.2" fill="#2f2ff5"/>
<circle cx="86.5" cy="471.53" r="2.2" fill="#2f2ff5"/>
<circle cx="86.8" cy="385.1" r="2.2" fill="#2f2ff5"/>
<rect x="112.86" y="422.72" width="4.2" height="4.2" fill="#f52525"/>
<rect x="110.67" y="428.56" width="4.2" height="4.2" fill="#f52525"/>
<rect x="112.13" y="428.85" width="4.2" height="4.2" fill="#f52525"/>
<rect x="107.75" y="435.13" width="4.2" height="4.2" fill="#f52525"/>
<rect x="109.94" y="436.15" width="4.2" height="4.2" fill="#f52525"/>
<rect x="113.59" y="437.32" width="4.2" height="4.2" fill="#f52525"/>
<rect x="115.78" y="439.51" width="4.2" height="4.2" fill="#f52525"/>
<rect x="112.13" y="444.62" width="4.2" height="4.2" fill="#f52525"/>
<rect x="104.1" y="453.37" width="4.2" height="4.2" fill="#f52525"/>
<rect x="107.02" y="453.08" width="4.2" height="4.2" fill="#f52525"/>
<rect x="109.94" y="452.64" width="4.2" height="4.2" fill="#f52525"/>
<rect x="112.86" y="452.21" width="4.2" height="4.2" fill="#f52525"/>
<rect x="115.78" y="452.21" width="4.2" height="4.2" fill="#f52525"/>
<rect x="118.7" y="453.08" width="4.2" height="4.2" fill="#f52525"/>
<rect x="105.56" y="455.56" width="4.2" height="4.2" fill="#f52525"/>
<rect x="109.21" y="455.56" width="4.2" height="4.2" fill="#f52525"/>
<rect x="112.86" y="455.13" width="4.2" height="4.2" fill="#f52525"/>
<rect x="117.24" y="454.83" width="4.2" height="4.2" fill="#f52525"/>
<rect x="119.43" y="455.13" width="4.2" height="4.2" fill="#f52525"/>
<rect x="106.29" y="459.94" width="4.2" height="4.2" fill="#f52525"/>
<rect x="110.67" y="459.21" width="4.2" height="4.2" fill="#f52525"/>
<rect x="114.32" y="459.94" width="4.2" height="4.2" fill="#f52525"/>
<rect x="117.97" y="459.94" width="4.2" height="4.2" fill="#f52525"/>
<rect x="105.56" y="463.59" width="4.2" height="4.2" fill="#f52525"/>
<rect x="109.21" y="463.59" width="4.2" height="4.2" fill="#f52525"/>
<rect x="112.86" y="464.32" width="4.2" height="4.2" fill="#f52525"/>
<rect x="117.24" y="463.59" width="4.2" height="4.2" fill="#f52525"/>
<rect x="106.29" y="467.24" width="4.2" height="4.2" fill="#f52525"/>
<rect x="109.94" y="467.68" width="4.2" height="4.2" fill="#f52525"/>
<rect x="113.59" y="467.24" width="4.2" height="4.2" fill="#f52525"/>
<rect x="116.51" y="466.51" width="4.2" height="4.2" fill="#f52525"/>
<rect x="107.75" y="472.35" width="4.2" height="4.2" fill="#f52525"/>
<rect x="110.67" y="473.08" width="4.2" height="4.2" fill="#f52525"/>
<rect x="113.59" y="472.64" width="4.2" height="4.2" fill="#f52525"/>
<rect x="109.21" y="470.16" width="4.2" height="4.2" fill="#f52525"/>
<line x1="85" y1="425.1" x2="85" y2="465.7" stroke="#1a1a80" stroke-width="1.1"/>
<line x1="81" y1="425.1" x2="89" y2="425.1" stroke="#1a1a80" stroke-width="1.1"/>
<line x1="81" y1="465.7" x2="89" y2="465.7" stroke="#1a1a80" stroke-width="1.1"/>
<line x1="114.2" y1="442.6" x2="114.2" y2="469.5" stroke="#801a1a" stroke-width="1.1"/>
<line x1="110.2" y1="442.6" x2="118.2" y2="442.6" stroke="#801a1a" stroke-width="1.1"/>
<line x1="110.2" y1="469.5" x2="118.2" y2="469.5" stroke="#801a1a" stroke-width="1.1"/>
<polyline points="84.5,378.7 84.5,376.9 114.5,376.9 114.5,378.7" fill="none" stroke="#151515" stroke-width="1.1"/>
<text x="99.5" y="376.32" font-size="9" text-anchor="middle">*</text>
<text x="85" y="494.2" font-size="8.96" text-anchor="middle" transform="translate(85 494.2) scale(0.8929 1) translate(-85 -494.2)">HC</text>
<text x="114.2" y="494.2" font-size="8.96" text-anchor="middle" transform="translate(114.2 494.2) scale(0.8929 1) translate(-114.2 -494.2)">HIV</text>
<text x="38.46" y="430.2" font-size="9.2" text-anchor="middle" transform="rotate(-90 38.46 430.2)" textLength="104.5" lengthAdjust="spacingAndGlyphs">MFI of HIF-1α NK cells</text>
<text x="165.2" y="371.22" font-size="15">J</text>
<path d="M205,469.2 L205,469.2 L205.5,469.2 L206,469.2 L206.5,469.2 L207,469.2 L207.5,469.2 L208,469.2 L208.5,469.2 L209,469.2 L209.5,469.2 L210,469.2 L210.5,469.2 L211,469.2 L211.5,469.2 L212,469.2 L212.5,469.2 L213,469.2 L213.5,469.2 L214,469.2 L214.5,469.2 L215,469.2 L215.5,469.2 L216,469.2 L216.5,469.2 L217,469.2 L217.5,469.2 L218,469.2 L218.5,469.2 L219,469.2 L219.5,469.2 L220,469.2 L220.5,469.2 L221,469.2 L221.5,469.2 L222,469.2 L222.5,469.2 L223,469.2 L223.5,469.2 L224,469.2 L224.5,469.2 L225,469.2 L225.5,469.2 L226,469.2 L226.5,469.2 L227,469.2 L227.5,469.2 L228,469.2 L228.5,469.2 L229,469.2 L229.5,469.2 L230,469.2 L230.5,469.2 L231,469.2 L231.5,469.13 L232,469.06 L232.5,468.99 L233,468.92 L233.5,468.85 L234,468.78 L234.5,468.71 L235,467.81 L235.5,466.34 L236,465.04 L236.5,465.66 L237,465.41 L237.5,462.74 L238,462.28 L238.5,457.92 L239,456.89 L239.5,454.76 L240,452.35 L240.5,449.07 L241,449.49 L241.5,445.06 L242,443.27 L242.5,434.18 L243,434.63 L243.5,425.44 L244,425.28 L244.5,415.38 L245,410.85 L245.5,403.82 L246,394.55 L246.5,392.84 L247,385.93 L247.5,375.96 L248,376.27 L248.5,376.65 L249,373.78 L249.5,376.52 L250,376.52 L250.5,369.66 L251,369.44 L251.5,366.42 L252,366.53 L252.5,372.22 L253,372.81 L253.5,380.48 L254,384.18 L254.5,385.15 L255,392.48 L255.5,397.21 L256,401.44 L256.5,409.22 L257,416.84 L257.5,425.59 L258,426.25 L258.5,429.65 L259,434.43 L259.5,441.15 L260,447.01 L260.5,450.78 L261,452.63 L261.5,456.53 L262,462.48 L262.5,463.39 L263,464.28 L263.5,465.47 L264,466.83 L264.5,468.71 L265,468.78 L265.5,468.85 L266,468.92 L266.5,468.99 L267,469.06 L267.5,469.13 L268,469.2 L268.5,469.2 L269,469.2 L269.5,469.2 L270,469.2 L270.5,469.2 L271,469.2 L271.5,469.2 L272,469.2 L272.5,469.2 L273,469.2 L273.5,469.2 L274,469.2 L274.5,469.2 L275,469.2 L275.5,469.2 L276,469.2 L276.5,469.2 L277,469.2 L277.5,469.2 L278,469.2 L278.5,469.2 L279,469.2 L279.5,469.2 L280,469.2 L280.5,469.2 L281,469.2 L281.5,469.2 L282,469.2 L282.5,469.2 L283,469.2 L283.5,469.2 L284,469.2 L284.5,469.2 L285,469.2 L285.5,469.2 L286,469.2 L286.5,469.2 L287,469.2 L287.5,469.2 L288,469.2 L288.5,469.2 L289,469.2 L289.5,469.2 L290,469.2 L290.5,469.2 L291,469.2 L291.5,469.2 L292,469.2 L292.5,469.2 L293,469.2 L293.5,469.2 L294,469.2 L294.5,469.2 L295,469.2 L295.5,469.2 L296,469.2 L296.5,469.2 L297,469.2 L297.5,469.2 L298,469.2 L298.5,469.2 L299,469.2 L299.5,469.2 L300,469.2 L300,469.2 Z" fill="#cacafa"/>
<path d="M205,469.2 L205.5,469.2 L206,469.2 L206.5,469.2 L207,469.2 L207.5,469.2 L208,469.2 L208.5,469.2 L209,469.2 L209.5,469.2 L210,469.2 L210.5,469.2 L211,469.2 L211.5,469.2 L212,469.2 L212.5,469.2 L213,469.2 L213.5,469.2 L214,469.2 L214.5,469.2 L215,469.2 L215.5,469.2 L216,469.2 L216.5,469.2 L217,469.2 L217.5,469.2 L218,469.2 L218.5,469.2 L219,469.2 L219.5,469.2 L220,469.2 L220.5,469.2 L221,469.2 L221.5,469.2 L222,469.2 L222.5,469.2 L223,469.2 L223.5,469.2 L224,469.2 L224.5,469.2 L225,469.2 L225.5,469.2 L226,469.2 L226.5,469.2 L227,469.2 L227.5,469.2 L228,469.2 L228.5,469.2 L229,469.2 L229.5,469.2 L230,469.2 L230.5,469.2 L231,469.2 L231.5,469.13 L232,469.06 L232.5,468.99 L233,468.92 L233.5,468.85 L234,468.78 L234.5,468.71 L235,467.81 L235.5,466.34 L236,465.04 L236.5,465.66 L237,465.41 L237.5,462.74 L238,462.28 L238.5,457.92 L239,456.89 L239.5,454.76 L240,452.35 L240.5,449.07 L241,449.49 L241.5,445.06 L242,443.27 L242.5,434.18 L243,434.63 L243.5,425.44 L244,425.28 L244.5,415.38 L245,410.85 L245.5,403.82 L246,394.55 L246.5,392.84 L247,385.93 L247.5,375.96 L248,376.27 L248.5,376.65 L249,373.78 L249.5,376.52 L250,376.52 L250.5,369.66 L251,369.44 L251.5,366.42 L252,366.53 L252.5,372.22 L253,372.81 L253.5,380.48 L254,384.18 L254.5,385.15 L255,392.48 L255.5,397.21 L256,401.44 L256.5,409.22 L257,416.84 L257.5,425.59 L258,426.25 L258.5,429.65 L259,434.43 L259.5,441.15 L260,447.01 L260.5,450.78 L261,452.63 L261.5,456.53 L262,462.48 L262.5,463.39 L263,464.28 L263.5,465.47 L264,466.83 L264.5,468.71 L265,468.78 L265.5,468.85 L266,468.92 L266.5,468.99 L267,469.06 L267.5,469.13 L268,469.2 L268.5,469.2 L269,469.2 L269.5,469.2 L270,469.2 L270.5,469.2 L271,469.2 L271.5,469.2 L272,469.2 L272.5,469.2 L273,469.2 L273.5,469.2 L274,469.2 L274.5,469.2 L275,469.2 L275.5,469.2 L276,469.2 L276.5,469.2 L277,469.2 L277.5,469.2 L278,469.2 L278.5,469.2 L279,469.2 L279.5,469.2 L280,469.2 L280.5,469.2 L281,469.2 L281.5,469.2 L282,469.2 L282.5,469.2 L283,469.2 L283.5,469.2 L284,469.2 L284.5,469.2 L285,469.2 L285.5,469.2 L286,469.2 L286.5,469.2 L287,469.2 L287.5,469.2 L288,469.2 L288.5,469.2 L289,469.2 L289.5,469.2 L290,469.2 L290.5,469.2 L291,469.2 L291.5,469.2 L292,469.2 L292.5,469.2 L293,469.2 L293.5,469.2 L294,469.2 L294.5,469.2 L295,469.2 L295.5,469.2 L296,469.2 L296.5,469.2 L297,469.2 L297.5,469.2 L298,469.2 L298.5,469.2 L299,469.2 L299.5,469.2 L300,469.2" fill="none" stroke="#8d8df2" stroke-width="0.8" stroke-linejoin="round"/>
<path d="M205,469.2 L205,469.2 L205.5,469.2 L206,469.2 L206.5,469.2 L207,469.2 L207.5,469.2 L208,469.2 L208.5,469.2 L209,469.2 L209.5,469.2 L210,469.2 L210.5,469.2 L211,469.2 L211.5,469.2 L212,469.2 L212.5,469.2 L213,469.2 L213.5,469.2 L214,469.2 L214.5,469.2 L215,469.2 L215.5,469.2 L216,469.2 L216.5,469.2 L217,469.2 L217.5,469.2 L218,469.2 L218.5,469.2 L219,469.2 L219.5,469.2 L220,469.2 L220.5,469.2 L221,469.2 L221.5,469.2 L222,469.2 L222.5,469.2 L223,469.2 L223.5,469.2 L224,469.2 L224.5,469.2 L225,469.2 L225.5,469.2 L226,469.2 L226.5,469.2 L227,469.2 L227.5,469.2 L228,469.2 L228.5,469.13 L229,469.05 L229.5,468.98 L230,468.91 L230.5,468.83 L231,468.76 L231.5,468.72 L232,468.02 L232.5,467.51 L233,466.76 L233.5,467.38 L234,466.94 L234.5,466.79 L235,466.24 L235.5,464.29 L236,465.86 L236.5,463.51 L237,463.83 L237.5,462.32 L238,460.22 L238.5,456.51 L239,456.62 L239.5,458.91 L240,456.06 L240.5,455.38 L241,448.82 L241.5,446.98 L242,444.8 L242.5,442.47 L243,440.75 L243.5,437.31 L244,436.04 L244.5,437.05 L245,431.28 L245.5,431.25 L246,427.42 L246.5,426.35 L247,424.94 L247.5,423.11 L248,420.5 L248.5,418.97 L249,417.93 L249.5,411.5 L250,409.41 L250.5,406.29 L251,406.05 L251.5,404.87 L252,401.71 L252.5,404.06 L253,399.47 L253.5,399.54 L254,399.58 L254.5,397.87 L255,394.4 L255.5,395.68 L256,395.94 L256.5,396.57 L257,398.49 L257.5,400.75 L258,399.25 L258.5,401.12 L259,401.45 L259.5,402.03 L260,401.33 L260.5,405.81 L261,405.66 L261.5,407.15 L262,413.86 L262.5,415.21 L263,417.26 L263.5,425.92 L264,428.66 L264.5,428 L265,431.48 L265.5,437.72 L266,445.65 L266.5,449.17 L267,451.49 L267.5,453.93 L268,456.98 L268.5,463.09 L269,462.48 L269.5,465.43 L270,465.29 L270.5,467.33 L271,466.8 L271.5,468.15 L272,468.73 L272.5,468.81 L273,468.89 L273.5,468.97 L274,469.04 L274.5,469.12 L275,469.2 L275.5,469.2 L276,469.2 L276.5,469.2 L277,469.2 L277.5,469.2 L278,469.2 L278.5,469.2 L279,469.2 L279.5,469.2 L280,469.2 L280.5,469.2 L281,469.2 L281.5,469.2 L282,469.2 L282.5,469.2 L283,469.2 L283.5,469.2 L284,469.2 L284.5,469.2 L285,469.2 L285.5,469.2 L286,469.2 L286.5,469.2 L287,469.2 L287.5,469.2 L288,469.2 L288.5,469.2 L289,469.2 L289.5,469.2 L290,469.2 L290.5,469.2 L291,469.2 L291.5,469.2 L292,469.2 L292.5,469.2 L293,469.2 L293.5,469.2 L294,469.2 L294.5,469.2 L295,469.2 L295.5,469.2 L296,469.2 L296.5,469.2 L297,469.2 L297.5,469.2 L298,469.2 L298.5,469.2 L299,469.2 L299.5,469.2 L300,469.2 L300,469.2 Z" fill="rgba(150,70,240,0.42)"/>
<path d="M205,469.2 L205.5,469.2 L206,469.2 L206.5,469.2 L207,469.2 L207.5,469.2 L208,469.2 L208.5,469.2 L209,469.2 L209.5,469.2 L210,469.2 L210.5,469.2 L211,469.2 L211.5,469.2 L212,469.2 L212.5,469.2 L213,469.2 L213.5,469.2 L214,469.2 L214.5,469.2 L215,469.2 L215.5,469.2 L216,469.2 L216.5,469.2 L217,469.2 L217.5,469.2 L218,469.2 L218.5,469.2 L219,469.2 L219.5,469.2 L220,469.2 L220.5,469.2 L221,469.2 L221.5,469.2 L222,469.2 L222.5,469.2 L223,469.2 L223.5,469.2 L224,469.2 L224.5,469.2 L225,469.2 L225.5,469.2 L226,469.2 L226.5,469.2 L227,469.2 L227.5,469.2 L228,469.2 L228.5,469.13 L229,469.05 L229.5,468.98 L230,468.91 L230.5,468.83 L231,468.76 L231.5,468.72 L232,468.02 L232.5,467.51 L233,466.76 L233.5,467.38 L234,466.94 L234.5,466.79 L235,466.24 L235.5,464.29 L236,465.86 L236.5,463.51 L237,463.83 L237.5,462.32 L238,460.22 L238.5,456.51 L239,456.62 L239.5,458.91 L240,456.06 L240.5,455.38 L241,448.82 L241.5,446.98 L242,444.8 L242.5,442.47 L243,440.75 L243.5,437.31 L244,436.04 L244.5,437.05 L245,431.28 L245.5,431.25 L246,427.42 L246.5,426.35 L247,424.94 L247.5,423.11 L248,420.5 L248.5,418.97 L249,417.93 L249.5,411.5 L250,409.41 L250.5,406.29 L251,406.05 L251.5,404.87 L252,401.71 L252.5,404.06 L253,399.47 L253.5,399.54 L254,399.58 L254.5,397.87 L255,394.4 L255.5,395.68 L256,395.94 L256.5,396.57 L257,398.49 L257.5,400.75 L258,399.25 L258.5,401.12 L259,401.45 L259.5,402.03 L260,401.33 L260.5,405.81 L261,405.66 L261.5,407.15 L262,413.86 L262.5,415.21 L263,417.26 L263.5,425.92 L264,428.66 L264.5,428 L265,431.48 L265.5,437.72 L266,445.65 L266.5,449.17 L267,451.49 L267.5,453.93 L268,456.98 L268.5,463.09 L269,462.48 L269.5,465.43 L270,465.29 L270.5,467.33 L271,466.8 L271.5,468.15 L272,468.73 L272.5,468.81 L273,468.89 L273.5,468.97 L274,469.04 L274.5,469.12 L275,469.2 L275.5,469.2 L276,469.2 L276.5,469.2 L277,469.2 L277.5,469.2 L278,469.2 L278.5,469.2 L279,469.2 L279.5,469.2 L280,469.2 L280.5,469.2 L281,469.2 L281.5,469.2 L282,469.2 L282.5,469.2 L283,469.2 L283.5,469.2 L284,469.2 L284.5,469.2 L285,469.2 L285.5,469.2 L286,469.2 L286.5,469.2 L287,469.2 L287.5,469.2 L288,469.2 L288.5,469.2 L289,469.2 L289.5,469.2 L290,469.2 L290.5,469.2 L291,469.2 L291.5,469.2 L292,469.2 L292.5,469.2 L293,469.2 L293.5,469.2 L294,469.2 L294.5,469.2 L295,469.2 L295.5,469.2 L296,469.2 L296.5,469.2 L297,469.2 L297.5,469.2 L298,469.2 L298.5,469.2 L299,469.2 L299.5,469.2 L300,469.2" fill="none" stroke="#a83cf0" stroke-width="0.8" stroke-linejoin="round"/>
<polyline points="198.6,469.2 198.6,360.6 307.5,360.6 307.5,469.2" fill="none" stroke="#777" stroke-width="0.9"/>
<line x1="198.6" y1="469.2" x2="307.5" y2="469.2" stroke="#444" stroke-width="0.9"/>
<line x1="196.2" y1="369" x2="198.6" y2="369" stroke="#444" stroke-width="0.8"/>
<text x="194.5" y="370.4" font-size="4" text-anchor="end" fill="#555" font-weight="normal">600</text>
<line x1="196.2" y1="402.3" x2="198.6" y2="402.3" stroke="#444" stroke-width="0.8"/>
<text x="194.5" y="403.7" font-size="4" text-anchor="end" fill="#555" font-weight="normal">400</text>
<line x1="196.2" y1="435.8" x2="198.6" y2="435.8" stroke="#444" stroke-width="0.8"/>
<text x="194.5" y="437.2" font-size="4" text-anchor="end" fill="#555" font-weight="normal">200</text>
<line x1="196.2" y1="469.2" x2="198.6" y2="469.2" stroke="#444" stroke-width="0.8"/>
<text x="194.5" y="470.6" font-size="4" text-anchor="end" fill="#555" font-weight="normal">0</text>
<line x1="197.3" y1="460.85" x2="198.6" y2="460.85" stroke="#666" stroke-width="0.6"/>
<line x1="197.3" y1="452.5" x2="198.6" y2="452.5" stroke="#666" stroke-width="0.6"/>
<line x1="197.3" y1="444.15" x2="198.6" y2="444.15" stroke="#666" stroke-width="0.6"/>
<line x1="197.3" y1="427.45" x2="198.6" y2="427.45" stroke="#666" stroke-width="0.6"/>
<line x1="197.3" y1="419.1" x2="198.6" y2="419.1" stroke="#666" stroke-width="0.6"/>
<line x1="197.3" y1="410.75" x2="198.6" y2="410.75" stroke="#666" stroke-width="0.6"/>
<line x1="197.3" y1="394.05" x2="198.6" y2="394.05" stroke="#666" stroke-width="0.6"/>
<line x1="197.3" y1="385.7" x2="198.6" y2="385.7" stroke="#666" stroke-width="0.6"/>
<line x1="197.3" y1="377.35" x2="198.6" y2="377.35" stroke="#666" stroke-width="0.6"/>
<line x1="201.81" y1="469.2" x2="201.81" y2="470.7" stroke="#444" stroke-width="0.55"/>
<line x1="205.03" y1="469.2" x2="205.03" y2="470.7" stroke="#444" stroke-width="0.55"/>
<line x1="208.24" y1="469.2" x2="208.24" y2="470.7" stroke="#444" stroke-width="0.55"/>
<line x1="211.46" y1="469.2" x2="211.46" y2="470.7" stroke="#444" stroke-width="0.55"/>
<line x1="214.67" y1="469.2" x2="214.67" y2="470.7" stroke="#444" stroke-width="0.55"/>
<line x1="217.89" y1="469.2" x2="217.89" y2="470.7" stroke="#444" stroke-width="0.55"/>
<line x1="224.56" y1="469.2" x2="224.56" y2="470.7" stroke="#444" stroke-width="0.55"/>
<line x1="228.03" y1="469.2" x2="228.03" y2="470.7" stroke="#444" stroke-width="0.55"/>
<line x1="231.49" y1="469.2" x2="231.49" y2="470.7" stroke="#444" stroke-width="0.55"/>
<line x1="234.95" y1="469.2" x2="234.95" y2="470.7" stroke="#444" stroke-width="0.55"/>
<line x1="238.41" y1="469.2" x2="238.41" y2="470.7" stroke="#444" stroke-width="0.55"/>
<line x1="241.88" y1="469.2" x2="241.88" y2="470.7" stroke="#444" stroke-width="0.55"/>
<line x1="245.34" y1="469.2" x2="245.34" y2="470.7" stroke="#444" stroke-width="0.55"/>
<line x1="252.04" y1="469.2" x2="252.04" y2="470.7" stroke="#444" stroke-width="0.55"/>
<line x1="255.28" y1="469.2" x2="255.28" y2="470.7" stroke="#444" stroke-width="0.55"/>
<line x1="258.51" y1="469.2" x2="258.51" y2="470.7" stroke="#444" stroke-width="0.55"/>
<line x1="261.75" y1="469.2" x2="261.75" y2="470.7" stroke="#444" stroke-width="0.55"/>
<line x1="264.99" y1="469.2" x2="264.99" y2="470.7" stroke="#444" stroke-width="0.55"/>
<line x1="268.23" y1="469.2" x2="268.23" y2="470.7" stroke="#444" stroke-width="0.55"/>
<line x1="271.46" y1="469.2" x2="271.46" y2="470.7" stroke="#444" stroke-width="0.55"/>
<line x1="278.09" y1="469.2" x2="278.09" y2="470.7" stroke="#444" stroke-width="0.55"/>
<line x1="281.47" y1="469.2" x2="281.47" y2="470.7" stroke="#444" stroke-width="0.55"/>
<line x1="284.86" y1="469.2" x2="284.86" y2="470.7" stroke="#444" stroke-width="0.55"/>
<line x1="288.24" y1="469.2" x2="288.24" y2="470.7" stroke="#444" stroke-width="0.55"/>
<line x1="291.63" y1="469.2" x2="291.63" y2="470.7" stroke="#444" stroke-width="0.55"/>
<line x1="295.01" y1="469.2" x2="295.01" y2="470.7" stroke="#444" stroke-width="0.55"/>
<line x1="302.95" y1="469.2" x2="302.95" y2="470.7" stroke="#444" stroke-width="0.55"/>
<line x1="221.1" y1="469.2" x2="221.1" y2="472" stroke="#222" stroke-width="0.9"/>
<text x="221.1" y="478.4" font-size="5" text-anchor="middle" fill="#333" font-weight="normal">-10<tspan font-size="3.60" dy="-2.2">4</tspan></text>
<line x1="248.8" y1="469.2" x2="248.8" y2="472" stroke="#222" stroke-width="0.9"/>
<text x="248.8" y="478.4" font-size="5" text-anchor="middle" fill="#333" font-weight="normal">0</text>
<line x1="274.7" y1="469.2" x2="274.7" y2="472" stroke="#222" stroke-width="0.9"/>
<text x="274.7" y="478.4" font-size="5" text-anchor="middle" fill="#333" font-weight="normal">10<tspan font-size="3.60" dy="-2.2">4</tspan></text>
<line x1="298.4" y1="469.2" x2="298.4" y2="472" stroke="#222" stroke-width="0.9"/>
<text x="298.4" y="478.4" font-size="5" text-anchor="middle" fill="#333" font-weight="normal">10<tspan font-size="3.60" dy="-2.2">5</tspan></text>
<rect x="244.9" y="469.4" width="3.2" height="2.3" fill="#111"/>
<text x="182.16" y="402.5" font-size="8.5" text-anchor="middle" transform="rotate(-90 182.16 402.5)" textLength="42.3" lengthAdjust="spacingAndGlyphs">Histogram</text>
<line x1="179.5" y1="485.5" x2="179.5" y2="436.3" stroke="#111" stroke-width="1.5"/>
<polygon points="175.8,436.8 183.2,436.8 179.5,428.2" fill="#111"/>
<line x1="178.75" y1="485.5" x2="214.7" y2="485.5" stroke="#111" stroke-width="1.5"/>
<polygon points="214.2,481.8 214.2,489.2 222.8,485.5" fill="#111"/>
<text x="232" y="490" font-size="9.74" transform="translate(232 490) scale(0.8929 1) translate(-232 -490)" textLength="29.46" lengthAdjust="spacingAndGlyphs">HIF-1α</text>
<rect x="313.9" y="365" width="5.5" height="4.7" fill="#cacafa" stroke="#9a9af2" stroke-width="0.6"/>
<rect x="313.9" y="377.4" width="5.5" height="4.6" fill="#cf9cf5" stroke="#b060f0" stroke-width="0.6"/>
<text x="324.5" y="370.4" font-size="7.8" textLength="27.6" lengthAdjust="spacingAndGlyphs">Control</text>
<text x="324.5" y="383.3" font-size="7.8" textLength="29.8" lengthAdjust="spacingAndGlyphs">CXCL12</text>
<text x="383.8" y="371.06" font-size="15.5">K</text>
<line x1="438.2" y1="371.4" x2="438.2" y2="474" stroke="#222" stroke-width="1.45"/>
<line x1="433.9" y1="474" x2="438.93" y2="474" stroke="#222" stroke-width="1.305"/>
<text x="432.7" y="477.06" font-size="8.74" text-anchor="end" transform="translate(432.7 477.06) scale(0.8696 1) translate(-432.7 -477.06)">0</text>
<line x1="433.9" y1="448.35" x2="438.93" y2="448.35" stroke="#222" stroke-width="1.305"/>
<text x="432.7" y="451.41" font-size="8.74" text-anchor="end" transform="translate(432.7 451.41) scale(0.8696 1) translate(-432.7 -451.41)">500</text>
<line x1="433.9" y1="422.7" x2="438.93" y2="422.7" stroke="#222" stroke-width="1.305"/>
<text x="432.7" y="425.76" font-size="8.74" text-anchor="end" transform="translate(432.7 425.76) scale(0.8696 1) translate(-432.7 -425.76)">1000</text>
<line x1="433.9" y1="397.05" x2="438.93" y2="397.05" stroke="#222" stroke-width="1.305"/>
<text x="432.7" y="400.11" font-size="8.74" text-anchor="end" transform="translate(432.7 400.11) scale(0.8696 1) translate(-432.7 -400.11)">1500</text>
<line x1="433.9" y1="371.4" x2="438.93" y2="371.4" stroke="#222" stroke-width="1.305"/>
<text x="432.7" y="374.46" font-size="8.74" text-anchor="end" transform="translate(432.7 374.46) scale(0.8696 1) translate(-432.7 -374.46)">2000</text>
<line x1="438.2" y1="474" x2="506.3" y2="474" stroke="#222" stroke-width="1.45"/>
<line x1="457.3" y1="474" x2="457.3" y2="478" stroke="#222" stroke-width="1.305"/>
<line x1="486.7" y1="474" x2="486.7" y2="478" stroke="#222" stroke-width="1.305"/>
<polyline points="457.4,375.7 457.4,373.9 486.6,373.9 486.6,375.7" fill="none" stroke="#151515" stroke-width="1.1"/>
<text x="472" y="373.32" font-size="9" text-anchor="middle">*</text>
<circle cx="486.7" cy="381.66" r="2.3" fill="#e07ef8"/>
<circle cx="486.7" cy="385.25" r="2.3" fill="#e07ef8"/>
<circle cx="486.7" cy="393.97" r="2.3" fill="#e07ef8"/>
<circle cx="486.7" cy="408.85" r="2.3" fill="#e07ef8"/>
<circle cx="486.7" cy="385.25" r="2.3" fill="#e07ef8"/>
<circle cx="486.7" cy="391.41" r="2.3" fill="#e07ef8"/>
<circle cx="486.7" cy="444.25" r="2.3" fill="#e07ef8"/>
<line x1="457.3" y1="395.51" x2="486.7" y2="381.66" stroke="#111" stroke-width="1.05"/>
<line x1="457.3" y1="400.64" x2="486.7" y2="385.25" stroke="#111" stroke-width="1.05"/>
<line x1="457.3" y1="401.67" x2="486.7" y2="393.97" stroke="#111" stroke-width="1.05"/>
<line x1="457.3" y1="408.85" x2="486.7" y2="408.85" stroke="#111" stroke-width="1.05"/>
<line x1="457.3" y1="424.75" x2="486.7" y2="385.25" stroke="#111" stroke-width="1.05"/>
<line x1="457.3" y1="424.75" x2="486.7" y2="391.41" stroke="#111" stroke-width="1.05"/>
<line x1="457.3" y1="446.3" x2="486.7" y2="444.25" stroke="#111" stroke-width="1.05"/>
<circle cx="457.3" cy="395.51" r="2.3" fill="#8888fa"/>
<circle cx="457.3" cy="400.64" r="2.3" fill="#8888fa"/>
<circle cx="457.3" cy="401.67" r="2.3" fill="#8888fa"/>
<circle cx="457.3" cy="408.85" r="2.3" fill="#8888fa"/>
<circle cx="457.3" cy="424.75" r="2.3" fill="#8888fa"/>
<circle cx="457.3" cy="424.75" r="2.3" fill="#8888fa"/>
<circle cx="457.3" cy="446.3" r="2.3" fill="#8888fa"/>
<text x="410.96" y="422.8" font-size="8.3" text-anchor="middle" transform="rotate(-90 410.96 422.8)" textLength="91.1" lengthAdjust="spacingAndGlyphs">MFI of HIF-1α NK cells</text>
<text x="461.2" y="486.2" font-size="8.8" text-anchor="end" transform="rotate(-45 461.2 486.2)">Control</text>
<text x="490.6" y="486.2" font-size="8.8" text-anchor="end" transform="rotate(-45 490.6 486.2)">CXCL12</text>
<text x="2.3" y="553.36" font-size="15.5">L</text>
<path d="M29,663.8 L29,663.8 L29.5,663.8 L30,663.8 L30.5,663.8 L31,663.8 L31.5,663.8 L32,663.8 L32.5,663.8 L33,663.8 L33.5,663.8 L34,663.8 L34.5,663.8 L35,663.8 L35.5,663.8 L36,663.8 L36.5,663.8 L37,663.8 L37.5,663.8 L38,663.8 L38.5,663.8 L39,663.8 L39.5,663.8 L40,663.8 L40.5,663.8 L41,663.8 L41.5,663.8 L42,663.8 L42.5,663.8 L43,663.8 L43.5,663.8 L44,663.8 L44.5,663.8 L45,663.8 L45.5,663.8 L46,663.8 L46.5,663.8 L47,663.8 L47.5,663.8 L48,663.8 L48.5,663.8 L49,663.8 L49.5,663.8 L50,663.8 L50.5,663.8 L51,663.8 L51.5,663.8 L52,663.8 L52.5,663.8 L53,663.8 L53.5,663.8 L54,663.8 L54.5,663.8 L55,663.8 L55.5,663.8 L56,663.8 L56.5,663.8 L57,663.8 L57.5,663.8 L58,663.8 L58.5,663.8 L59,663.8 L59.5,663.8 L60,663.8 L60.5,663.8 L61,663.8 L61.5,663.8 L62,663.8 L62.5,663.8 L63,663.8 L63.5,663.8 L64,663.8 L64.5,663.8 L65,663.8 L65.5,663.8 L66,663.8 L66.5,663.8 L67,663.8 L67.5,663.8 L68,663.8 L68.5,663.8 L69,663.8 L69.5,663.8 L70,663.8 L70.5,663.8 L71,663.8 L71.5,663.8 L72,663.8 L72.5,663.8 L73,663.8 L73.5,663.8 L74,663.8 L74.5,663.8 L75,663.8 L75.5,663.8 L76,663.8 L76.5,663.8 L77,663.8 L77.5,663.8 L78,663.8 L78.5,663.8 L79,663.8 L79.5,663.8 L80,663.8 L80.5,663.75 L81,663.7 L81.5,663.65 L82,663.6 L82.5,663.55 L83,663.5 L83.5,663.45 L84,663.4 L84.5,663.31 L85,663.37 L85.5,663.05 L86,662.98 L86.5,662.98 L87,663.08 L87.5,662.58 L88,662.08 L88.5,661.98 L89,661.59 L89.5,661.71 L90,661.92 L90.5,660.31 L91,658.76 L91.5,660.01 L92,655.9 L92.5,657.93 L93,657.19 L93.5,657.47 L94,650.45 L94.5,650.1 L95,647.37 L95.5,647.01 L96,648.6 L96.5,645.61 L97,643.38 L97.5,644.46 L98,638.22 L98.5,640.51 L99,640.57 L99.5,630.06 L100,627.69 L100.5,616.34 L101,612.99 L101.5,606.28 L102,601.41 L102.5,592.25 L103,582.42 L103.5,576.74 L104,568.54 L104.5,568.57 L105,560.75 L105.5,562.63 L106,561.03 L106.5,564.44 L107,568.52 L107.5,571.72 L108,578.4 L108.5,592.44 L109,609.47 L109.5,619.05 L110,623.48 L110.5,633.76 L111,635.96 L111.5,641.08 L112,648.85 L112.5,654.03 L113,656.03 L113.5,658.2 L114,658.04 L114.5,661.72 L115,662.86 L115.5,662.83 L116,662.25 L116.5,662.07 L117,662.6 L117.5,662.66 L118,662.66 L118.5,662.56 L119,663.01 L119.5,662.78 L120,662.87 L120.5,662.88 L121,663.22 L121.5,663.37 L122,663.42 L122.5,663.61 L123,663.8 L123.5,663.8 L124,663.8 L124.5,663.8 L125,663.8 L125.5,663.8 L126,663.8 L126.5,663.8 L127,663.8 L127.5,663.8 L128,663.8 L128.5,663.8 L129,663.8 L129.5,663.8 L130,663.8 L130.5,663.8 L131,663.8 L131.5,663.8 L132,663.8 L132.5,663.8 L133,663.8 L133.5,663.8 L134,663.8 L134.5,663.8 L135,663.8 L135.5,663.8 L136,663.8 L136.5,663.8 L137,663.8 L137,663.8 Z" fill="#cacafa"/>
<path d="M29,663.8 L29.5,663.8 L30,663.8 L30.5,663.8 L31,663.8 L31.5,663.8 L32,663.8 L32.5,663.8 L33,663.8 L33.5,663.8 L34,663.8 L34.5,663.8 L35,663.8 L35.5,663.8 L36,663.8 L36.5,663.8 L37,663.8 L37.5,663.8 L38,663.8 L38.5,663.8 L39,663.8 L39.5,663.8 L40,663.8 L40.5,663.8 L41,663.8 L41.5,663.8 L42,663.8 L42.5,663.8 L43,663.8 L43.5,663.8 L44,663.8 L44.5,663.8 L45,663.8 L45.5,663.8 L46,663.8 L46.5,663.8 L47,663.8 L47.5,663.8 L48,663.8 L48.5,663.8 L49,663.8 L49.5,663.8 L50,663.8 L50.5,663.8 L51,663.8 L51.5,663.8 L52,663.8 L52.5,663.8 L53,663.8 L53.5,663.8 L54,663.8 L54.5,663.8 L55,663.8 L55.5,663.8 L56,663.8 L56.5,663.8 L57,663.8 L57.5,663.8 L58,663.8 L58.5,663.8 L59,663.8 L59.5,663.8 L60,663.8 L60.5,663.8 L61,663.8 L61.5,663.8 L62,663.8 L62.5,663.8 L63,663.8 L63.5,663.8 L64,663.8 L64.5,663.8 L65,663.8 L65.5,663.8 L66,663.8 L66.5,663.8 L67,663.8 L67.5,663.8 L68,663.8 L68.5,663.8 L69,663.8 L69.5,663.8 L70,663.8 L70.5,663.8 L71,663.8 L71.5,663.8 L72,663.8 L72.5,663.8 L73,663.8 L73.5,663.8 L74,663.8 L74.5,663.8 L75,663.8 L75.5,663.8 L76,663.8 L76.5,663.8 L77,663.8 L77.5,663.8 L78,663.8 L78.5,663.8 L79,663.8 L79.5,663.8 L80,663.8 L80.5,663.75 L81,663.7 L81.5,663.65 L82,663.6 L82.5,663.55 L83,663.5 L83.5,663.45 L84,663.4 L84.5,663.31 L85,663.37 L85.5,663.05 L86,662.98 L86.5,662.98 L87,663.08 L87.5,662.58 L88,662.08 L88.5,661.98 L89,661.59 L89.5,661.71 L90,661.92 L90.5,660.31 L91,658.76 L91.5,660.01 L92,655.9 L92.5,657.93 L93,657.19 L93.5,657.47 L94,650.45 L94.5,650.1 L95,647.37 L95.5,647.01 L96,648.6 L96.5,645.61 L97,643.38 L97.5,644.46 L98,638.22 L98.5,640.51 L99,640.57 L99.5,630.06 L100,627.69 L100.5,616.34 L101,612.99 L101.5,606.28 L102,601.41 L102.5,592.25 L103,582.42 L103.5,576.74 L104,568.54 L104.5,568.57 L105,560.75 L105.5,562.63 L106,561.03 L106.5,564.44 L107,568.52 L107.5,571.72 L108,578.4 L108.5,592.44 L109,609.47 L109.5,619.05 L110,623.48 L110.5,633.76 L111,635.96 L111.5,641.08 L112,648.85 L112.5,654.03 L113,656.03 L113.5,658.2 L114,658.04 L114.5,661.72 L115,662.86 L115.5,662.83 L116,662.25 L116.5,662.07 L117,662.6 L117.5,662.66 L118,662.66 L118.5,662.56 L119,663.01 L119.5,662.78 L120,662.87 L120.5,662.88 L121,663.22 L121.5,663.37 L122,663.42 L122.5,663.61 L123,663.8 L123.5,663.8 L124,663.8 L124.5,663.8 L125,663.8 L125.5,663.8 L126,663.8 L126.5,663.8 L127,663.8 L127.5,663.8 L128,663.8 L128.5,663.8 L129,663.8 L129.5,663.8 L130,663.8 L130.5,663.8 L131,663.8 L131.5,663.8 L132,663.8 L132.5,663.8 L133,663.8 L133.5,663.8 L134,663.8 L134.5,663.8 L135,663.8 L135.5,663.8 L136,663.8 L136.5,663.8 L137,663.8" fill="none" stroke="#8d8df2" stroke-width="0.8" stroke-linejoin="round"/>
<path d="M29,663.8 L29,663.8 L29.5,663.8 L30,663.8 L30.5,663.8 L31,663.8 L31.5,663.8 L32,663.8 L32.5,663.8 L33,663.8 L33.5,663.8 L34,663.8 L34.5,663.8 L35,663.8 L35.5,663.8 L36,663.8 L36.5,663.8 L37,663.8 L37.5,663.8 L38,663.8 L38.5,663.8 L39,663.8 L39.5,663.8 L40,663.8 L40.5,663.8 L41,663.8 L41.5,663.8 L42,663.8 L42.5,663.8 L43,663.8 L43.5,663.8 L44,663.8 L44.5,663.8 L45,663.8 L45.5,663.8 L46,663.8 L46.5,663.8 L47,663.8 L47.5,663.8 L48,663.8 L48.5,663.8 L49,663.8 L49.5,663.8 L50,663.8 L50.5,663.8 L51,663.8 L51.5,663.8 L52,663.8 L52.5,663.8 L53,663.8 L53.5,663.8 L54,663.8 L54.5,663.8 L55,663.8 L55.5,663.8 L56,663.8 L56.5,663.8 L57,663.8 L57.5,663.8 L58,663.8 L58.5,663.8 L59,663.8 L59.5,663.8 L60,663.8 L60.5,663.8 L61,663.8 L61.5,663.8 L62,663.8 L62.5,663.8 L63,663.8 L63.5,663.8 L64,663.8 L64.5,663.8 L65,663.8 L65.5,663.8 L66,663.8 L66.5,663.8 L67,663.8 L67.5,663.8 L68,663.8 L68.5,663.8 L69,663.8 L69.5,663.8 L70,663.8 L70.5,663.8 L71,663.8 L71.5,663.8 L72,663.8 L72.5,663.8 L73,663.8 L73.5,663.8 L74,663.8 L74.5,663.8 L75,663.8 L75.5,663.8 L76,663.8 L76.5,663.8 L77,663.8 L77.5,663.8 L78,663.8 L78.5,663.72 L79,663.65 L79.5,663.57 L80,663.5 L80.5,663.42 L81,663.35 L81.5,662.89 L82,662.98 L82.5,662.8 L83,661.05 L83.5,661.89 L84,661.65 L84.5,659.9 L85,660.26 L85.5,657.69 L86,658.72 L86.5,653.04 L87,656.08 L87.5,653.59 L88,649.48 L88.5,651.12 L89,653.26 L89.5,651.55 L90,652.51 L90.5,649.51 L91,653.26 L91.5,651.94 L92,649.66 L92.5,647.7 L93,651.3 L93.5,644.11 L94,640.07 L94.5,633.97 L95,631.36 L95.5,625.59 L96,620.39 L96.5,613.85 L97,600.99 L97.5,597.15 L98,586.88 L98.5,578.37 L99,573.24 L99.5,569.33 L100,564.92 L100.5,569.97 L101,571.57 L101.5,569.74 L102,574.65 L102.5,587.71 L103,591.85 L103.5,603.56 L104,611.5 L104.5,620.14 L105,624.82 L105.5,628.26 L106,636.89 L106.5,641.47 L107,644.2 L107.5,648.42 L108,649.13 L108.5,651.94 L109,654.92 L109.5,655.16 L110,657.65 L110.5,660.76 L111,659.43 L111.5,662.05 L112,663.09 L112.5,663.41 L113,663.54 L113.5,663.67 L114,663.8 L114.5,663.8 L115,663.8 L115.5,663.8 L116,663.8 L116.5,663.8 L117,663.8 L117.5,663.8 L118,663.8 L118.5,663.8 L119,663.8 L119.5,663.8 L120,663.8 L120.5,663.8 L121,663.8 L121.5,663.8 L122,663.8 L122.5,663.8 L123,663.8 L123.5,663.8 L124,663.8 L124.5,663.8 L125,663.8 L125.5,663.8 L126,663.8 L126.5,663.8 L127,663.8 L127.5,663.8 L128,663.8 L128.5,663.8 L129,663.8 L129.5,663.8 L130,663.8 L130.5,663.8 L131,663.8 L131.5,663.8 L132,663.8 L132.5,663.8 L133,663.8 L133.5,663.8 L134,663.8 L134.5,663.8 L135,663.8 L135.5,663.8 L136,663.8 L136.5,663.8 L137,663.8 L137,663.8 Z" fill="rgba(150,70,240,0.42)"/>
<path d="M29,663.8 L29.5,663.8 L30,663.8 L30.5,663.8 L31,663.8 L31.5,663.8 L32,663.8 L32.5,663.8 L33,663.8 L33.5,663.8 L34,663.8 L34.5,663.8 L35,663.8 L35.5,663.8 L36,663.8 L36.5,663.8 L37,663.8 L37.5,663.8 L38,663.8 L38.5,663.8 L39,663.8 L39.5,663.8 L40,663.8 L40.5,663.8 L41,663.8 L41.5,663.8 L42,663.8 L42.5,663.8 L43,663.8 L43.5,663.8 L44,663.8 L44.5,663.8 L45,663.8 L45.5,663.8 L46,663.8 L46.5,663.8 L47,663.8 L47.5,663.8 L48,663.8 L48.5,663.8 L49,663.8 L49.5,663.8 L50,663.8 L50.5,663.8 L51,663.8 L51.5,663.8 L52,663.8 L52.5,663.8 L53,663.8 L53.5,663.8 L54,663.8 L54.5,663.8 L55,663.8 L55.5,663.8 L56,663.8 L56.5,663.8 L57,663.8 L57.5,663.8 L58,663.8 L58.5,663.8 L59,663.8 L59.5,663.8 L60,663.8 L60.5,663.8 L61,663.8 L61.5,663.8 L62,663.8 L62.5,663.8 L63,663.8 L63.5,663.8 L64,663.8 L64.5,663.8 L65,663.8 L65.5,663.8 L66,663.8 L66.5,663.8 L67,663.8 L67.5,663.8 L68,663.8 L68.5,663.8 L69,663.8 L69.5,663.8 L70,663.8 L70.5,663.8 L71,663.8 L71.5,663.8 L72,663.8 L72.5,663.8 L73,663.8 L73.5,663.8 L74,663.8 L74.5,663.8 L75,663.8 L75.5,663.8 L76,663.8 L76.5,663.8 L77,663.8 L77.5,663.8 L78,663.8 L78.5,663.72 L79,663.65 L79.5,663.57 L80,663.5 L80.5,663.42 L81,663.35 L81.5,662.89 L82,662.98 L82.5,662.8 L83,661.05 L83.5,661.89 L84,661.65 L84.5,659.9 L85,660.26 L85.5,657.69 L86,658.72 L86.5,653.04 L87,656.08 L87.5,653.59 L88,649.48 L88.5,651.12 L89,653.26 L89.5,651.55 L90,652.51 L90.5,649.51 L91,653.26 L91.5,651.94 L92,649.66 L92.5,647.7 L93,651.3 L93.5,644.11 L94,640.07 L94.5,633.97 L95,631.36 L95.5,625.59 L96,620.39 L96.5,613.85 L97,600.99 L97.5,597.15 L98,586.88 L98.5,578.37 L99,573.24 L99.5,569.33 L100,564.92 L100.5,569.97 L101,571.57 L101.5,569.74 L102,574.65 L102.5,587.71 L103,591.85 L103.5,603.56 L104,611.5 L104.5,620.14 L105,624.82 L105.5,628.26 L106,636.89 L106.5,641.47 L107,644.2 L107.5,648.42 L108,649.13 L108.5,651.94 L109,654.92 L109.5,655.16 L110,657.65 L110.5,660.76 L111,659.43 L111.5,662.05 L112,663.09 L112.5,663.41 L113,663.54 L113.5,663.67 L114,663.8 L114.5,663.8 L115,663.8 L115.5,663.8 L116,663.8 L116.5,663.8 L117,663.8 L117.5,663.8 L118,663.8 L118.5,663.8 L119,663.8 L119.5,663.8 L120,663.8 L120.5,663.8 L121,663.8 L121.5,663.8 L122,663.8 L122.5,663.8 L123,663.8 L123.5,663.8 L124,663.8 L124.5,663.8 L125,663.8 L125.5,663.8 L126,663.8 L126.5,663.8 L127,663.8 L127.5,663.8 L128,663.8 L128.5,663.8 L129,663.8 L129.5,663.8 L130,663.8 L130.5,663.8 L131,663.8 L131.5,663.8 L132,663.8 L132.5,663.8 L133,663.8 L133.5,663.8 L134,663.8 L134.5,663.8 L135,663.8 L135.5,663.8 L136,663.8 L136.5,663.8 L137,663.8" fill="none" stroke="#a83cf0" stroke-width="0.8" stroke-linejoin="round"/>
<polyline points="28.5,663.8 28.5,555.2 137.5,555.2 137.5,663.8" fill="none" stroke="#777" stroke-width="0.9"/>
<line x1="28.5" y1="663.8" x2="137.5" y2="663.8" stroke="#444" stroke-width="0.9"/>
<line x1="26" y1="574.3" x2="28.5" y2="574.3" stroke="#444" stroke-width="0.8"/>
<text x="24.3" y="575.7" font-size="4" text-anchor="end" fill="#555" font-weight="normal">80</text>
<line x1="26" y1="596.7" x2="28.5" y2="596.7" stroke="#444" stroke-width="0.8"/>
<text x="24.3" y="598.1" font-size="4" text-anchor="end" fill="#555" font-weight="normal">60</text>
<line x1="26" y1="619" x2="28.5" y2="619" stroke="#444" stroke-width="0.8"/>
<text x="24.3" y="620.4" font-size="4" text-anchor="end" fill="#555" font-weight="normal">40</text>
<line x1="26" y1="641.4" x2="28.5" y2="641.4" stroke="#444" stroke-width="0.8"/>
<text x="24.3" y="642.8" font-size="4" text-anchor="end" fill="#555" font-weight="normal">20</text>
<line x1="26" y1="663.8" x2="28.5" y2="663.8" stroke="#444" stroke-width="0.8"/>
<text x="24.3" y="665.2" font-size="4" text-anchor="end" fill="#555" font-weight="normal">0</text>
<line x1="27.2" y1="658.2" x2="28.5" y2="658.2" stroke="#666" stroke-width="0.6"/>
<line x1="27.2" y1="652.6" x2="28.5" y2="652.6" stroke="#666" stroke-width="0.6"/>
<line x1="27.2" y1="647" x2="28.5" y2="647" stroke="#666" stroke-width="0.6"/>
<line x1="27.2" y1="635.8" x2="28.5" y2="635.8" stroke="#666" stroke-width="0.6"/>
<line x1="27.2" y1="630.2" x2="28.5" y2="630.2" stroke="#666" stroke-width="0.6"/>
<line x1="27.2" y1="624.6" x2="28.5" y2="624.6" stroke="#666" stroke-width="0.6"/>
<line x1="27.2" y1="613.4" x2="28.5" y2="613.4" stroke="#666" stroke-width="0.6"/>
<line x1="27.2" y1="607.8" x2="28.5" y2="607.8" stroke="#666" stroke-width="0.6"/>
<line x1="27.2" y1="602.2" x2="28.5" y2="602.2" stroke="#666" stroke-width="0.6"/>
<line x1="27.2" y1="591" x2="28.5" y2="591" stroke="#666" stroke-width="0.6"/>
<line x1="27.2" y1="585.4" x2="28.5" y2="585.4" stroke="#666" stroke-width="0.6"/>
<line x1="27.2" y1="579.8" x2="28.5" y2="579.8" stroke="#666" stroke-width="0.6"/>
<line x1="27.2" y1="568.6" x2="28.5" y2="568.6" stroke="#666" stroke-width="0.6"/>
<line x1="27.2" y1="563" x2="28.5" y2="563" stroke="#666" stroke-width="0.6"/>
<line x1="27.2" y1="557.4" x2="28.5" y2="557.4" stroke="#666" stroke-width="0.6"/>
<line x1="33.25" y1="663.8" x2="33.25" y2="665.3" stroke="#444" stroke-width="0.55"/>
<line x1="41.5" y1="663.8" x2="41.5" y2="665.3" stroke="#444" stroke-width="0.55"/>
<line x1="45" y1="663.8" x2="45" y2="665.3" stroke="#444" stroke-width="0.55"/>
<line x1="48.5" y1="663.8" x2="48.5" y2="665.3" stroke="#444" stroke-width="0.55"/>
<line x1="52" y1="663.8" x2="52" y2="665.3" stroke="#444" stroke-width="0.55"/>
<line x1="59.02" y1="663.8" x2="59.02" y2="665.3" stroke="#444" stroke-width="0.55"/>
<line x1="62.54" y1="663.8" x2="62.54" y2="665.3" stroke="#444" stroke-width="0.55"/>
<line x1="66.06" y1="663.8" x2="66.06" y2="665.3" stroke="#444" stroke-width="0.55"/>
<line x1="69.58" y1="663.8" x2="69.58" y2="665.3" stroke="#444" stroke-width="0.55"/>
<line x1="76.66" y1="663.8" x2="76.66" y2="665.3" stroke="#444" stroke-width="0.55"/>
<line x1="80.22" y1="663.8" x2="80.22" y2="665.3" stroke="#444" stroke-width="0.55"/>
<line x1="83.79" y1="663.8" x2="83.79" y2="665.3" stroke="#444" stroke-width="0.55"/>
<line x1="87.35" y1="663.8" x2="87.35" y2="665.3" stroke="#444" stroke-width="0.55"/>
<line x1="90.91" y1="663.8" x2="90.91" y2="665.3" stroke="#444" stroke-width="0.55"/>
<line x1="94.47" y1="663.8" x2="94.47" y2="665.3" stroke="#444" stroke-width="0.55"/>
<line x1="98.04" y1="663.8" x2="98.04" y2="665.3" stroke="#444" stroke-width="0.55"/>
<line x1="104.97" y1="663.8" x2="104.97" y2="665.3" stroke="#444" stroke-width="0.55"/>
<line x1="108.35" y1="663.8" x2="108.35" y2="665.3" stroke="#444" stroke-width="0.55"/>
<line x1="111.72" y1="663.8" x2="111.72" y2="665.3" stroke="#444" stroke-width="0.55"/>
<line x1="115.1" y1="663.8" x2="115.1" y2="665.3" stroke="#444" stroke-width="0.55"/>
<line x1="118.47" y1="663.8" x2="118.47" y2="665.3" stroke="#444" stroke-width="0.55"/>
<line x1="121.85" y1="663.8" x2="121.85" y2="665.3" stroke="#444" stroke-width="0.55"/>
<line x1="125.22" y1="663.8" x2="125.22" y2="665.3" stroke="#444" stroke-width="0.55"/>
<line x1="133.05" y1="663.8" x2="133.05" y2="665.3" stroke="#444" stroke-width="0.55"/>
<line x1="38" y1="663.8" x2="38" y2="666.6" stroke="#222" stroke-width="0.9"/>
<text x="38" y="672.8" font-size="5" text-anchor="middle" fill="#333" font-weight="normal">-10<tspan font-size="3.60" dy="-2.2">3</tspan></text>
<line x1="55.5" y1="663.8" x2="55.5" y2="666.6" stroke="#222" stroke-width="0.9"/>
<text x="55.5" y="672.8" font-size="5" text-anchor="middle" fill="#333" font-weight="normal">0</text>
<line x1="73.1" y1="663.8" x2="73.1" y2="666.6" stroke="#222" stroke-width="0.9"/>
<text x="73.1" y="672.8" font-size="5" text-anchor="middle" fill="#333" font-weight="normal">10<tspan font-size="3.60" dy="-2.2">3</tspan></text>
<line x1="101.6" y1="663.8" x2="101.6" y2="666.6" stroke="#222" stroke-width="0.9"/>
<text x="101.6" y="672.8" font-size="5" text-anchor="middle" fill="#333" font-weight="normal">10<tspan font-size="3.60" dy="-2.2">4</tspan></text>
<line x1="128.6" y1="663.8" x2="128.6" y2="666.6" stroke="#222" stroke-width="0.9"/>
<text x="128.6" y="672.8" font-size="5" text-anchor="middle" fill="#333" font-weight="normal">10<tspan font-size="3.60" dy="-2.2">5</tspan></text>
<rect x="51.9" y="664" width="3.2" height="2.3" fill="#111"/>
<text x="17.77" y="583" font-size="8.5" text-anchor="middle" transform="rotate(-90 17.77 583)" textLength="42.3" lengthAdjust="spacingAndGlyphs">Histogram</text>
<line x1="11.7" y1="679.9" x2="11.7" y2="629.7" stroke="#111" stroke-width="1.5"/>
<polygon points="8,630.2 15.4,630.2 11.7,621.6" fill="#111"/>
<line x1="10.95" y1="679.9" x2="48.5" y2="679.9" stroke="#111" stroke-width="1.5"/>
<polygon points="48,676.2 48,683.6 56.6,679.9" fill="#111"/>
<text x="65.7" y="684.7" font-size="10.08" transform="translate(65.7 684.7) scale(0.8929 1) translate(-65.7 -684.7)" textLength="33.94" lengthAdjust="spacingAndGlyphs">F-Actin</text>
<rect x="143" y="559.5" width="5.8" height="4.4" fill="#cacafa" stroke="#9a9af2" stroke-width="0.6"/>
<rect x="143" y="571.2" width="5.8" height="4.8" fill="#cf9cf5" stroke="#b060f0" stroke-width="0.6"/>
<text x="155" y="564.6" font-size="7.8">DMSO</text>
<text x="155" y="576.6" font-size="7.8">BAY 87</text>
<text x="206.3" y="549.73" font-size="14">M</text>
<line x1="251.2" y1="566.7" x2="251.2" y2="658.7" stroke="#222" stroke-width="1.45"/>
<line x1="246.9" y1="658.7" x2="251.92" y2="658.7" stroke="#222" stroke-width="1.305"/>
<text x="245.7" y="661.72" font-size="8.62" text-anchor="end" transform="translate(245.7 661.72) scale(0.8696 1) translate(-245.7 -661.72)">0</text>
<line x1="246.9" y1="640.3" x2="251.92" y2="640.3" stroke="#222" stroke-width="1.305"/>
<text x="245.7" y="643.32" font-size="8.62" text-anchor="end" transform="translate(245.7 643.32) scale(0.8696 1) translate(-245.7 -643.32)">10000</text>
<line x1="246.9" y1="621.9" x2="251.92" y2="621.9" stroke="#222" stroke-width="1.305"/>
<text x="245.7" y="624.92" font-size="8.62" text-anchor="end" transform="translate(245.7 624.92) scale(0.8696 1) translate(-245.7 -624.92)">20000</text>
<line x1="246.9" y1="603.5" x2="251.92" y2="603.5" stroke="#222" stroke-width="1.305"/>
<text x="245.7" y="606.52" font-size="8.62" text-anchor="end" transform="translate(245.7 606.52) scale(0.8696 1) translate(-245.7 -606.52)">30000</text>
<line x1="246.9" y1="585.1" x2="251.92" y2="585.1" stroke="#222" stroke-width="1.305"/>
<text x="245.7" y="588.12" font-size="8.62" text-anchor="end" transform="translate(245.7 588.12) scale(0.8696 1) translate(-245.7 -588.12)">40000</text>
<line x1="246.9" y1="566.7" x2="251.92" y2="566.7" stroke="#222" stroke-width="1.305"/>
<text x="245.7" y="569.72" font-size="8.62" text-anchor="end" transform="translate(245.7 569.72) scale(0.8696 1) translate(-245.7 -569.72)">50000</text>
<line x1="251.2" y1="658.7" x2="312.7" y2="658.7" stroke="#222" stroke-width="1.45"/>
<line x1="268.6" y1="658.7" x2="268.6" y2="662.7" stroke="#222" stroke-width="1.305"/>
<line x1="294.7" y1="658.7" x2="294.7" y2="662.7" stroke="#222" stroke-width="1.305"/>
<polyline points="268.3,572.8 268.3,571 294.9,571 294.9,572.8" fill="none" stroke="#151515" stroke-width="1.1"/>
<text x="281.6" y="570.42" font-size="9" text-anchor="middle">*</text>
<circle cx="294.7" cy="602.2" r="2.3" fill="#e07ef8"/>
<circle cx="294.7" cy="623.1" r="2.3" fill="#e07ef8"/>
<circle cx="294.7" cy="623.1" r="2.3" fill="#e07ef8"/>
<circle cx="294.7" cy="627" r="2.3" fill="#e07ef8"/>
<circle cx="294.7" cy="647.4" r="2.3" fill="#e07ef8"/>
<circle cx="294.7" cy="633.9" r="2.3" fill="#e07ef8"/>
<circle cx="294.7" cy="641.2" r="2.3" fill="#e07ef8"/>
<circle cx="294.7" cy="639.4" r="2.3" fill="#e07ef8"/>
<circle cx="294.7" cy="641.2" r="2.3" fill="#e07ef8"/>
<circle cx="294.7" cy="639.4" r="2.3" fill="#e07ef8"/>
<line x1="268.6" y1="581.2" x2="294.7" y2="602.2" stroke="#111" stroke-width="1.05"/>
<line x1="268.6" y1="605.1" x2="294.7" y2="623.1" stroke="#111" stroke-width="1.05"/>
<line x1="268.6" y1="617.8" x2="294.7" y2="623.1" stroke="#111" stroke-width="1.05"/>
<line x1="268.6" y1="624.5" x2="294.7" y2="627" stroke="#111" stroke-width="1.05"/>
<line x1="268.6" y1="626" x2="294.7" y2="647.4" stroke="#111" stroke-width="1.05"/>
<line x1="268.6" y1="632.4" x2="294.7" y2="633.9" stroke="#111" stroke-width="1.05"/>
<line x1="268.6" y1="632.4" x2="294.7" y2="641.2" stroke="#111" stroke-width="1.05"/>
<line x1="268.6" y1="640.1" x2="294.7" y2="639.4" stroke="#111" stroke-width="1.05"/>
<line x1="268.6" y1="642" x2="294.7" y2="641.2" stroke="#111" stroke-width="1.05"/>
<line x1="268.6" y1="642.6" x2="294.7" y2="639.4" stroke="#111" stroke-width="1.05"/>
<circle cx="268.6" cy="581.2" r="2.3" fill="#8888fa"/>
<circle cx="268.6" cy="605.1" r="2.3" fill="#8888fa"/>
<circle cx="268.6" cy="617.8" r="2.3" fill="#8888fa"/>
<circle cx="268.6" cy="624.5" r="2.3" fill="#8888fa"/>
<circle cx="268.6" cy="626" r="2.3" fill="#8888fa"/>
<circle cx="268.6" cy="632.4" r="2.3" fill="#8888fa"/>
<circle cx="268.6" cy="632.4" r="2.3" fill="#8888fa"/>
<circle cx="268.6" cy="640.1" r="2.3" fill="#8888fa"/>
<circle cx="268.6" cy="642" r="2.3" fill="#8888fa"/>
<circle cx="268.6" cy="642.6" r="2.3" fill="#8888fa"/>
<text x="222.75" y="612" font-size="8" text-anchor="middle" transform="rotate(-90 222.75 612)" textLength="83.2" lengthAdjust="spacingAndGlyphs">MFI of F-Actin NK cells</text>
<text x="271.6" y="669.4" font-size="8" text-anchor="end" transform="rotate(-45 271.6 669.4)">DMSO</text>
<text x="297.7" y="669.6" font-size="8" text-anchor="end" transform="rotate(-45 297.7 669.6)">BAY 87</text>
<text x="342.1" y="551.22" font-size="15">N</text>
<line x1="383.4" y1="562.4" x2="383.4" y2="654.2" stroke="#222" stroke-width="1.45"/>
<line x1="379.1" y1="654.2" x2="384.12" y2="654.2" stroke="#222" stroke-width="1.305"/>
<text x="377.9" y="657.22" font-size="8.62" text-anchor="end" transform="translate(377.9 657.22) scale(0.8696 1) translate(-377.9 -657.22)">0</text>
<line x1="379.1" y1="635.84" x2="384.12" y2="635.84" stroke="#222" stroke-width="1.305"/>
<text x="377.9" y="638.86" font-size="8.62" text-anchor="end" transform="translate(377.9 638.86) scale(0.8696 1) translate(-377.9 -638.86)">10</text>
<line x1="379.1" y1="617.48" x2="384.12" y2="617.48" stroke="#222" stroke-width="1.305"/>
<text x="377.9" y="620.5" font-size="8.62" text-anchor="end" transform="translate(377.9 620.5) scale(0.8696 1) translate(-377.9 -620.5)">20</text>
<line x1="379.1" y1="599.12" x2="384.12" y2="599.12" stroke="#222" stroke-width="1.305"/>
<text x="377.9" y="602.14" font-size="8.62" text-anchor="end" transform="translate(377.9 602.14) scale(0.8696 1) translate(-377.9 -602.14)">30</text>
<line x1="379.1" y1="580.76" x2="384.12" y2="580.76" stroke="#222" stroke-width="1.305"/>
<text x="377.9" y="583.78" font-size="8.62" text-anchor="end" transform="translate(377.9 583.78) scale(0.8696 1) translate(-377.9 -583.78)">40</text>
<line x1="379.1" y1="562.4" x2="384.12" y2="562.4" stroke="#222" stroke-width="1.305"/>
<text x="377.9" y="565.42" font-size="8.62" text-anchor="end" transform="translate(377.9 565.42) scale(0.8696 1) translate(-377.9 -565.42)">50</text>
<line x1="383.4" y1="654.2" x2="444.7" y2="654.2" stroke="#222" stroke-width="1.45"/>
<line x1="400.9" y1="654.2" x2="400.9" y2="658.2" stroke="#222" stroke-width="1.305"/>
<line x1="427.2" y1="654.2" x2="427.2" y2="658.2" stroke="#222" stroke-width="1.305"/>
<polyline points="400.6,565.7 400.6,563.9 427.3,563.9 427.3,565.7" fill="none" stroke="#151515" stroke-width="1.1"/>
<text x="413.95" y="563.32" font-size="9" text-anchor="middle">*</text>
<circle cx="427.2" cy="612" r="2.3" fill="#e07ef8"/>
<circle cx="427.2" cy="636.1" r="2.3" fill="#e07ef8"/>
<circle cx="427.2" cy="641.2" r="2.3" fill="#e07ef8"/>
<circle cx="427.2" cy="633.9" r="2.3" fill="#e07ef8"/>
<circle cx="427.2" cy="641.2" r="2.3" fill="#e07ef8"/>
<circle cx="427.2" cy="649.3" r="2.3" fill="#e07ef8"/>
<line x1="400.9" y1="569.4" x2="427.2" y2="612" stroke="#111" stroke-width="1.05"/>
<line x1="400.9" y1="606.2" x2="427.2" y2="636.1" stroke="#111" stroke-width="1.05"/>
<line x1="400.9" y1="610.1" x2="427.2" y2="641.2" stroke="#111" stroke-width="1.05"/>
<line x1="400.9" y1="628.4" x2="427.2" y2="633.9" stroke="#111" stroke-width="1.05"/>
<line x1="400.9" y1="630.3" x2="427.2" y2="641.2" stroke="#111" stroke-width="1.05"/>
<line x1="400.9" y1="638" x2="427.2" y2="649.3" stroke="#111" stroke-width="1.05"/>
<circle cx="400.9" cy="569.4" r="2.3" fill="#8888fa"/>
<circle cx="400.9" cy="606.2" r="2.3" fill="#8888fa"/>
<circle cx="400.9" cy="610.1" r="2.3" fill="#8888fa"/>
<circle cx="400.9" cy="628.4" r="2.3" fill="#8888fa"/>
<circle cx="400.9" cy="630.3" r="2.3" fill="#8888fa"/>
<circle cx="400.9" cy="638" r="2.3" fill="#8888fa"/>
<text x="364.99" y="608" font-size="7.9" text-anchor="middle" transform="rotate(-90 364.99 608)" textLength="86.7" lengthAdjust="spacingAndGlyphs">Migratory NK cells(*10<tspan font-size="5.5" dy="-3">4</tspan><tspan dy="3">)</tspan></text>
<text x="403.8" y="664.8" font-size="8" text-anchor="end" transform="rotate(-45 403.8 664.8)">DMSO</text>
<text x="430" y="665.2" font-size="8" text-anchor="end" transform="rotate(-45 430 665.2)">BAY 87</text>
<text x="471.8" y="551.32" font-size="15">O</text>
<line x1="508" y1="559" x2="508" y2="651.5" stroke="#444" stroke-width="1.7"/>
<line x1="504" y1="651.5" x2="508.85" y2="651.5" stroke="#444" stroke-width="1.53"/>
<text x="502.8" y="654.52" font-size="8.62" text-anchor="end" transform="translate(502.8 654.52) scale(0.8696 1) translate(-502.8 -654.52)">0</text>
<line x1="504" y1="628.38" x2="508.85" y2="628.38" stroke="#444" stroke-width="1.53"/>
<text x="502.8" y="631.39" font-size="8.62" text-anchor="end" transform="translate(502.8 631.39) scale(0.8696 1) translate(-502.8 -631.39)">20</text>
<line x1="504" y1="605.25" x2="508.85" y2="605.25" stroke="#444" stroke-width="1.53"/>
<text x="502.8" y="608.27" font-size="8.62" text-anchor="end" transform="translate(502.8 608.27) scale(0.8696 1) translate(-502.8 -608.27)">40</text>
<line x1="504" y1="582.12" x2="508.85" y2="582.12" stroke="#444" stroke-width="1.53"/>
<text x="502.8" y="585.14" font-size="8.62" text-anchor="end" transform="translate(502.8 585.14) scale(0.8696 1) translate(-502.8 -585.14)">60</text>
<line x1="504" y1="559" x2="508.85" y2="559" stroke="#444" stroke-width="1.53"/>
<text x="502.8" y="562.02" font-size="8.62" text-anchor="end" transform="translate(502.8 562.02) scale(0.8696 1) translate(-502.8 -562.02)">80</text>
<line x1="508" y1="651.5" x2="647.5" y2="651.5" stroke="#333" stroke-width="1.5"/>
<line x1="507.8" y1="651.5" x2="507.8" y2="654.5" stroke="#333" stroke-width="1.35"/>
<line x1="554.2" y1="651.5" x2="554.2" y2="654.5" stroke="#333" stroke-width="1.35"/>
<line x1="600.6" y1="651.5" x2="600.6" y2="654.5" stroke="#333" stroke-width="1.35"/>
<line x1="647" y1="651.5" x2="647" y2="654.5" stroke="#333" stroke-width="1.35"/>
<text x="507.8" y="662.1" font-size="8.62" text-anchor="middle" transform="translate(507.8 662.1) scale(0.8696 1) translate(-507.8 -662.1)">0</text>
<text x="554.2" y="662.1" font-size="8.62" text-anchor="middle" transform="translate(554.2 662.1) scale(0.8696 1) translate(-554.2 -662.1)">20</text>
<text x="600.6" y="662.1" font-size="8.62" text-anchor="middle" transform="translate(600.6 662.1) scale(0.8696 1) translate(-600.6 -662.1)">40</text>
<text x="647" y="662.1" font-size="8.62" text-anchor="middle" transform="translate(647 662.1) scale(0.8696 1) translate(-647 -662.1)">60</text>
<text x="550.6" y="672.8" font-size="9.63" transform="translate(550.6 672.8) scale(0.8929 1) translate(-550.6 -672.8)" textLength="60.59" lengthAdjust="spacingAndGlyphs">Time (minutes)</text>
<text x="520.4" y="555.5" font-size="9.63" transform="translate(520.4 555.5) scale(0.8929 1) translate(-520.4 -555.5)" textLength="52.75" lengthAdjust="spacingAndGlyphs">Oligomycin</text>
<text x="583.9" y="555.5" font-size="9.63" transform="translate(583.9 555.5) scale(0.8929 1) translate(-583.9 -555.5)" textLength="23.86" lengthAdjust="spacingAndGlyphs">2-DG</text>
<circle cx="542.6" cy="563" r="0.95" fill="#111"/>
<circle cx="542.6" cy="568.85" r="0.95" fill="#111"/>
<circle cx="542.6" cy="574.7" r="0.95" fill="#111"/>
<circle cx="542.6" cy="580.55" r="0.95" fill="#111"/>
<circle cx="542.6" cy="586.4" r="0.95" fill="#111"/>
<circle cx="542.6" cy="592.25" r="0.95" fill="#111"/>
<circle cx="542.6" cy="598.1" r="0.95" fill="#111"/>
<circle cx="542.6" cy="603.95" r="0.95" fill="#111"/>
<circle cx="542.6" cy="609.8" r="0.95" fill="#111"/>
<circle cx="542.6" cy="615.65" r="0.95" fill="#111"/>
<circle cx="542.6" cy="621.5" r="0.95" fill="#111"/>
<circle cx="542.6" cy="627.35" r="0.95" fill="#111"/>
<circle cx="542.6" cy="633.2" r="0.95" fill="#111"/>
<circle cx="542.6" cy="639.05" r="0.95" fill="#111"/>
<circle cx="542.6" cy="644.9" r="0.95" fill="#111"/>
<circle cx="542.6" cy="650.75" r="0.95" fill="#111"/>
<circle cx="594.1" cy="563" r="0.95" fill="#111"/>
<circle cx="594.1" cy="568.85" r="0.95" fill="#111"/>
<circle cx="594.1" cy="574.7" r="0.95" fill="#111"/>
<circle cx="594.1" cy="580.55" r="0.95" fill="#111"/>
<circle cx="594.1" cy="586.4" r="0.95" fill="#111"/>
<circle cx="594.1" cy="592.25" r="0.95" fill="#111"/>
<circle cx="594.1" cy="598.1" r="0.95" fill="#111"/>
<circle cx="594.1" cy="603.95" r="0.95" fill="#111"/>
<circle cx="594.1" cy="609.8" r="0.95" fill="#111"/>
<circle cx="594.1" cy="615.65" r="0.95" fill="#111"/>
<circle cx="594.1" cy="621.5" r="0.95" fill="#111"/>
<circle cx="594.1" cy="627.35" r="0.95" fill="#111"/>
<circle cx="594.1" cy="633.2" r="0.95" fill="#111"/>
<circle cx="594.1" cy="639.05" r="0.95" fill="#111"/>
<circle cx="594.1" cy="644.9" r="0.95" fill="#111"/>
<circle cx="594.1" cy="650.75" r="0.95" fill="#111"/>
<polyline points="511.6,609.8 526.6,611.1 541.8,612 557.2,599.9 571.9,603.1 586.9,603.9 602.1,614.2 617.2,618.8 632.5,619.3" fill="none" stroke="#e28af2" stroke-width="0.8"/>
<polyline points="511.6,606.9 526.6,611.1 541.8,611.1 557.2,582.8 571.9,583.4 586.9,582 602.1,603.5 617.2,607.2 632.5,607.6" fill="none" stroke="#8a8af2" stroke-width="0.8"/>
<line x1="511.6" y1="604.5" x2="511.6" y2="613" stroke="#8a8af2" stroke-width="0.7"/>
<line x1="510" y1="604.5" x2="513.2" y2="604.5" stroke="#8a8af2" stroke-width="0.7"/>
<line x1="510" y1="613" x2="513.2" y2="613" stroke="#e28af2" stroke-width="0.7"/>
<line x1="557.2" y1="580.3" x2="557.2" y2="585.5" stroke="#8a8af2" stroke-width="0.7"/>
<line x1="555.6" y1="580.3" x2="558.8" y2="580.3" stroke="#8a8af2" stroke-width="0.7"/>
<line x1="555.6" y1="585.5" x2="558.8" y2="585.5" stroke="#8a8af2" stroke-width="0.7"/>
<rect x="509.6" y="607.8" width="4" height="4" fill="#e28af2"/>
<rect x="524.6" y="609.1" width="4" height="4" fill="#e28af2"/>
<rect x="539.8" y="610" width="4" height="4" fill="#e28af2"/>
<rect x="555.2" y="597.9" width="4" height="4" fill="#e28af2"/>
<rect x="569.9" y="601.1" width="4" height="4" fill="#e28af2"/>
<rect x="584.9" y="601.9" width="4" height="4" fill="#e28af2"/>
<rect x="600.1" y="612.2" width="4" height="4" fill="#e28af2"/>
<rect x="615.2" y="616.8" width="4" height="4" fill="#e28af2"/>
<rect x="630.5" y="617.3" width="4" height="4" fill="#e28af2"/>
<circle cx="511.6" cy="606.9" r="2.2" fill="#8a8af2"/>
<circle cx="526.6" cy="611.1" r="2.2" fill="#8a8af2"/>
<circle cx="541.8" cy="611.1" r="2.2" fill="#8a8af2"/>
<circle cx="557.2" cy="582.8" r="2.2" fill="#8a8af2"/>
<circle cx="571.9" cy="583.4" r="2.2" fill="#8a8af2"/>
<circle cx="586.9" cy="582" r="2.2" fill="#8a8af2"/>
<circle cx="602.1" cy="603.5" r="2.2" fill="#8a8af2"/>
<circle cx="617.2" cy="607.2" r="2.2" fill="#8a8af2"/>
<circle cx="632.5" cy="607.6" r="2.2" fill="#8a8af2"/>
<text x="490.81" y="604.7" font-size="8.3" text-anchor="middle" transform="rotate(-90 490.81 604.7)" textLength="61" lengthAdjust="spacingAndGlyphs">ECAR (mpH/min)</text>
<line x1="637.3" y1="565.3" x2="647" y2="565.3" stroke="#8a8af2" stroke-width="0.8"/>
<circle cx="642.2" cy="565.3" r="2.2" fill="#8a8af2"/>
<line x1="637.3" y1="577.7" x2="647" y2="577.7" stroke="#e28af2" stroke-width="0.8"/>
<rect x="640.2" y="575.7" width="4" height="4" fill="#e28af2"/>
<text x="652.9" y="568.3" font-size="9.43" transform="translate(652.9 568.3) scale(0.8696 1) translate(-652.9 -568.3)" textLength="25.99" lengthAdjust="spacingAndGlyphs">DMSO</text>
<text x="652.9" y="580.8" font-size="9.43" transform="translate(652.9 580.8) scale(0.8696 1) translate(-652.9 -580.8)" textLength="28.52" lengthAdjust="spacingAndGlyphs">BAY 87</text>
<text x="0.3" y="733.68" font-size="14.5">P</text>
<text x="27.7" y="751.4" font-size="9.52" transform="translate(27.7 751.4) scale(0.8929 1) translate(-27.7 -751.4)" textLength="77.73" lengthAdjust="spacingAndGlyphs">Basal Glycolysis</text>
<line x1="31.1" y1="764.1" x2="31.1" y2="856.4" stroke="#222" stroke-width="1.15"/>
<line x1="27.1" y1="856.4" x2="31.68" y2="856.4" stroke="#222" stroke-width="1.035"/>
<text x="25.9" y="859.38" font-size="8.51" text-anchor="end" transform="translate(25.9 859.38) scale(0.8696 1) translate(-25.9 -859.38)">0</text>
<line x1="27.1" y1="837.94" x2="31.68" y2="837.94" stroke="#222" stroke-width="1.035"/>
<text x="25.9" y="840.92" font-size="8.51" text-anchor="end" transform="translate(25.9 840.92) scale(0.8696 1) translate(-25.9 -840.92)">10</text>
<line x1="27.1" y1="819.48" x2="31.68" y2="819.48" stroke="#222" stroke-width="1.035"/>
<text x="25.9" y="822.46" font-size="8.51" text-anchor="end" transform="translate(25.9 822.46) scale(0.8696 1) translate(-25.9 -822.46)">20</text>
<line x1="27.1" y1="801.02" x2="31.68" y2="801.02" stroke="#222" stroke-width="1.035"/>
<text x="25.9" y="804" font-size="8.51" text-anchor="end" transform="translate(25.9 804) scale(0.8696 1) translate(-25.9 -804)">30</text>
<line x1="27.1" y1="782.56" x2="31.68" y2="782.56" stroke="#222" stroke-width="1.035"/>
<text x="25.9" y="785.54" font-size="8.51" text-anchor="end" transform="translate(25.9 785.54) scale(0.8696 1) translate(-25.9 -785.54)">40</text>
<line x1="27.1" y1="764.1" x2="31.68" y2="764.1" stroke="#222" stroke-width="1.035"/>
<text x="25.9" y="767.08" font-size="8.51" text-anchor="end" transform="translate(25.9 767.08) scale(0.8696 1) translate(-25.9 -767.08)">50</text>
<line x1="31.1" y1="856.4" x2="93.4" y2="856.4" stroke="#222" stroke-width="1.15"/>
<line x1="49.3" y1="856.4" x2="49.3" y2="860.4" stroke="#222" stroke-width="1.035"/>
<line x1="75.5" y1="856.4" x2="75.5" y2="860.4" stroke="#222" stroke-width="1.035"/>
<circle cx="75.5" cy="782.93" r="1.95" fill="#e07ef8"/>
<circle cx="75.5" cy="792.53" r="1.95" fill="#e07ef8"/>
<circle cx="75.5" cy="836.09" r="1.95" fill="#e07ef8"/>
<line x1="49.3" y1="777.02" x2="75.5" y2="782.93" stroke="#111" stroke-width="1.05"/>
<line x1="49.3" y1="790.5" x2="75.5" y2="792.53" stroke="#111" stroke-width="1.05"/>
<line x1="49.3" y1="791.42" x2="75.5" y2="836.09" stroke="#111" stroke-width="1.05"/>
<circle cx="49.3" cy="777.02" r="1.95" fill="#8888fa"/>
<circle cx="49.3" cy="790.5" r="1.95" fill="#8888fa"/>
<circle cx="49.3" cy="791.42" r="1.95" fill="#8888fa"/>
<text x="15.91" y="809.4" font-size="8.3" text-anchor="middle" transform="rotate(-90 15.91 809.4)" textLength="61.3" lengthAdjust="spacingAndGlyphs">ECAR (mpH/min)</text>
<text x="38.2" y="867.4" font-size="9.18" transform="translate(38.2 867.4) scale(0.8929 1) translate(-38.2 -867.4)" textLength="24.53" lengthAdjust="spacingAndGlyphs">DMSO</text>
<text x="62" y="867.4" font-size="9.18" transform="translate(62 867.4) scale(0.8929 1) translate(-62 -867.4)" textLength="29.46" lengthAdjust="spacingAndGlyphs">BAY 87</text>
<text x="137.2" y="751.4" font-size="9.52" transform="translate(137.2 751.4) scale(0.8929 1) translate(-137.2 -751.4)" textLength="92.74" lengthAdjust="spacingAndGlyphs">Glycolytic Capacity</text>
<line x1="147.7" y1="764.2" x2="147.7" y2="856" stroke="#222" stroke-width="1.15"/>
<line x1="143.7" y1="856" x2="148.27" y2="856" stroke="#222" stroke-width="1.035"/>
<text x="142.5" y="858.98" font-size="8.51" text-anchor="end" transform="translate(142.5 858.98) scale(0.8696 1) translate(-142.5 -858.98)">0</text>
<line x1="143.7" y1="833.05" x2="148.27" y2="833.05" stroke="#222" stroke-width="1.035"/>
<text x="142.5" y="836.03" font-size="8.51" text-anchor="end" transform="translate(142.5 836.03) scale(0.8696 1) translate(-142.5 -836.03)">10</text>
<line x1="143.7" y1="810.1" x2="148.27" y2="810.1" stroke="#222" stroke-width="1.035"/>
<text x="142.5" y="813.08" font-size="8.51" text-anchor="end" transform="translate(142.5 813.08) scale(0.8696 1) translate(-142.5 -813.08)">20</text>
<line x1="143.7" y1="787.15" x2="148.27" y2="787.15" stroke="#222" stroke-width="1.035"/>
<text x="142.5" y="790.13" font-size="8.51" text-anchor="end" transform="translate(142.5 790.13) scale(0.8696 1) translate(-142.5 -790.13)">30</text>
<line x1="143.7" y1="764.2" x2="148.27" y2="764.2" stroke="#222" stroke-width="1.035"/>
<text x="142.5" y="767.18" font-size="8.51" text-anchor="end" transform="translate(142.5 767.18) scale(0.8696 1) translate(-142.5 -767.18)">40</text>
<line x1="147.7" y1="856" x2="209.9" y2="856" stroke="#222" stroke-width="1.15"/>
<line x1="165.5" y1="856" x2="165.5" y2="860" stroke="#222" stroke-width="1.035"/>
<line x1="191.6" y1="856" x2="191.6" y2="860" stroke="#222" stroke-width="1.035"/>
<circle cx="191.6" cy="796.79" r="1.95" fill="#e07ef8"/>
<circle cx="191.6" cy="822.72" r="1.95" fill="#e07ef8"/>
<circle cx="191.6" cy="832.13" r="1.95" fill="#e07ef8"/>
<line x1="165.5" y1="773.38" x2="191.6" y2="796.79" stroke="#111" stroke-width="1.05"/>
<line x1="165.5" y1="785.77" x2="191.6" y2="822.72" stroke="#111" stroke-width="1.05"/>
<line x1="165.5" y1="798.62" x2="191.6" y2="832.13" stroke="#111" stroke-width="1.05"/>
<circle cx="165.5" cy="773.38" r="1.95" fill="#8888fa"/>
<circle cx="165.5" cy="785.77" r="1.95" fill="#8888fa"/>
<circle cx="165.5" cy="798.62" r="1.95" fill="#8888fa"/>
<text x="131.71" y="809.3" font-size="8.3" text-anchor="middle" transform="rotate(-90 131.71 809.3)" textLength="60.8" lengthAdjust="spacingAndGlyphs">ECAR (mpH/min)</text>
<text x="154.1" y="867.4" font-size="9.18" transform="translate(154.1 867.4) scale(0.8929 1) translate(-154.1 -867.4)" textLength="24.53" lengthAdjust="spacingAndGlyphs">DMSO</text>
<text x="178.2" y="867.4" font-size="9.18" transform="translate(178.2 867.4) scale(0.8929 1) translate(-178.2 -867.4)" textLength="29.46" lengthAdjust="spacingAndGlyphs">BAY 87</text>
<text x="249.8" y="727.63" font-size="14">Q</text>
<path d="M273,772.4 L273,772.4 L273.5,772.4 L274,772.4 L274.5,772.4 L275,772.4 L275.5,772.4 L276,772.4 L276.5,772.4 L277,772.4 L277.5,772.4 L278,772.4 L278.5,772.4 L279,772.4 L279.5,772.4 L280,772.4 L280.5,772.36 L281,772.31 L281.5,772.27 L282,772.23 L282.5,772.18 L283,772.14 L283.5,772.1 L284,772.05 L284.5,772.01 L285,771.94 L285.5,771.78 L286,771.55 L286.5,771.3 L287,771.32 L287.5,771.18 L288,770.97 L288.5,770.55 L289,770.71 L289.5,770.19 L290,770.06 L290.5,770.26 L291,769.81 L291.5,769.4 L292,768.89 L292.5,767.63 L293,768.26 L293.5,767.89 L294,765.81 L294.5,766.21 L295,766.09 L295.5,765.29 L296,764.68 L296.5,762.71 L297,763.59 L297.5,762.68 L298,760.89 L298.5,760.08 L299,758.2 L299.5,757.58 L300,757.84 L300.5,757.3 L301,754.88 L301.5,753.61 L302,755.01 L302.5,752.42 L303,751.2 L303.5,750.65 L304,750.58 L304.5,748.08 L305,747.13 L305.5,747.3 L306,745.12 L306.5,745.02 L307,744.33 L307.5,742.52 L308,741.41 L308.5,740.15 L309,738.45 L309.5,736.89 L310,735.49 L310.5,734.36 L311,733.22 L311.5,732.8 L312,733.05 L312.5,732.45 L313,730.47 L313.5,730.55 L314,730.68 L314.5,732.51 L315,732.7 L315.5,731.39 L316,733.16 L316.5,733.93 L317,736.37 L317.5,736.66 L318,736.46 L318.5,738.11 L319,738.31 L319.5,741.63 L320,742.68 L320.5,743.51 L321,746.03 L321.5,746.87 L322,749.09 L322.5,751.82 L323,753.85 L323.5,754.21 L324,758.76 L324.5,761.06 L325,763.2 L325.5,763.89 L326,764.66 L326.5,766.44 L327,767.4 L327.5,768.05 L328,769.6 L328.5,770.01 L329,770.02 L329.5,770.2 L330,770.74 L330.5,770.86 L331,771.01 L331.5,770.94 L332,771.15 L332.5,771.26 L333,771.52 L333.5,771.82 L334,771.96 L334.5,772.03 L335,772.06 L335.5,772.09 L336,772.13 L336.5,772.16 L337,772.2 L337.5,772.23 L338,772.26 L338.5,772.3 L339,772.33 L339.5,772.37 L340,772.4 L340.5,772.4 L341,772.4 L341.5,772.4 L342,772.4 L342.5,772.4 L343,772.4 L343.5,772.4 L344,772.4 L344.5,772.4 L345,772.4 L345.5,772.4 L346,772.4 L346.5,772.4 L347,772.4 L347.5,772.4 L348,772.4 L348.5,772.4 L349,772.4 L349.5,772.4 L350,772.4 L350.5,772.4 L351,772.4 L351.5,772.4 L352,772.4 L352.5,772.4 L353,772.4 L353.5,772.4 L354,772.4 L354.5,772.4 L355,772.4 L355.5,772.4 L356,772.4 L356.5,772.4 L357,772.4 L357.5,772.4 L358,772.4 L358.5,772.4 L359,772.4 L359.5,772.4 L360,772.4 L360.5,772.4 L361,772.4 L361.5,772.4 L362,772.4 L362.5,772.4 L363,772.4 L363.5,772.4 L364,772.4 L364.5,772.4 L365,772.4 L365.5,772.4 L366,772.4 L366.5,772.4 L367,772.4 L367.5,772.4 L368,772.4 L368.5,772.4 L369,772.4 L369.5,772.4 L370,772.4 L370.5,772.4 L371,772.4 L371.5,772.4 L372,772.4 L372.5,772.4 L373,772.4 L373.5,772.4 L374,772.4 L374.5,772.4 L375,772.4 L375.5,772.4 L376,772.4 L376.5,772.4 L377,772.4 L377.5,772.4 L378,772.4 L378.5,772.4 L379,772.4 L379.5,772.4 L380,772.4 L380.5,772.4 L381,772.4 L381.5,772.4 L382,772.4 L382.5,772.4 L383,772.4 L383.5,772.4 L384,772.4 L384.5,772.4 L385,772.4 L385.5,772.4 L386,772.4 L386.5,772.4 L387,772.4 L387.5,772.4 L388,772.4 L388.5,772.4 L389,772.4 L389.5,772.4 L390,772.4 L390.5,772.4 L391,772.4 L391.5,772.4 L392,772.4 L392.5,772.4 L393,772.4 L393.5,772.4 L394,772.4 L394.5,772.4 L395,772.4 L395.5,772.4 L396,772.4 L396.5,772.4 L397,772.4 L397,772.4 Z" fill="#dddddd"/>
<path d="M273,772.4 L273.5,772.4 L274,772.4 L274.5,772.4 L275,772.4 L275.5,772.4 L276,772.4 L276.5,772.4 L277,772.4 L277.5,772.4 L278,772.4 L278.5,772.4 L279,772.4 L279.5,772.4 L280,772.4 L280.5,772.36 L281,772.31 L281.5,772.27 L282,772.23 L282.5,772.18 L283,772.14 L283.5,772.1 L284,772.05 L284.5,772.01 L285,771.94 L285.5,771.78 L286,771.55 L286.5,771.3 L287,771.32 L287.5,771.18 L288,770.97 L288.5,770.55 L289,770.71 L289.5,770.19 L290,770.06 L290.5,770.26 L291,769.81 L291.5,769.4 L292,768.89 L292.5,767.63 L293,768.26 L293.5,767.89 L294,765.81 L294.5,766.21 L295,766.09 L295.5,765.29 L296,764.68 L296.5,762.71 L297,763.59 L297.5,762.68 L298,760.89 L298.5,760.08 L299,758.2 L299.5,757.58 L300,757.84 L300.5,757.3 L301,754.88 L301.5,753.61 L302,755.01 L302.5,752.42 L303,751.2 L303.5,750.65 L304,750.58 L304.5,748.08 L305,747.13 L305.5,747.3 L306,745.12 L306.5,745.02 L307,744.33 L307.5,742.52 L308,741.41 L308.5,740.15 L309,738.45 L309.5,736.89 L310,735.49 L310.5,734.36 L311,733.22 L311.5,732.8 L312,733.05 L312.5,732.45 L313,730.47 L313.5,730.55 L314,730.68 L314.5,732.51 L315,732.7 L315.5,731.39 L316,733.16 L316.5,733.93 L317,736.37 L317.5,736.66 L318,736.46 L318.5,738.11 L319,738.31 L319.5,741.63 L320,742.68 L320.5,743.51 L321,746.03 L321.5,746.87 L322,749.09 L322.5,751.82 L323,753.85 L323.5,754.21 L324,758.76 L324.5,761.06 L325,763.2 L325.5,763.89 L326,764.66 L326.5,766.44 L327,767.4 L327.5,768.05 L328,769.6 L328.5,770.01 L329,770.02 L329.5,770.2 L330,770.74 L330.5,770.86 L331,771.01 L331.5,770.94 L332,771.15 L332.5,771.26 L333,771.52 L333.5,771.82 L334,771.96 L334.5,772.03 L335,772.06 L335.5,772.09 L336,772.13 L336.5,772.16 L337,772.2 L337.5,772.23 L338,772.26 L338.5,772.3 L339,772.33 L339.5,772.37 L340,772.4 L340.5,772.4 L341,772.4 L341.5,772.4 L342,772.4 L342.5,772.4 L343,772.4 L343.5,772.4 L344,772.4 L344.5,772.4 L345,772.4 L345.5,772.4 L346,772.4 L346.5,772.4 L347,772.4 L347.5,772.4 L348,772.4 L348.5,772.4 L349,772.4 L349.5,772.4 L350,772.4 L350.5,772.4 L351,772.4 L351.5,772.4 L352,772.4 L352.5,772.4 L353,772.4 L353.5,772.4 L354,772.4 L354.5,772.4 L355,772.4 L355.5,772.4 L356,772.4 L356.5,772.4 L357,772.4 L357.5,772.4 L358,772.4 L358.5,772.4 L359,772.4 L359.5,772.4 L360,772.4 L360.5,772.4 L361,772.4 L361.5,772.4 L362,772.4 L362.5,772.4 L363,772.4 L363.5,772.4 L364,772.4 L364.5,772.4 L365,772.4 L365.5,772.4 L366,772.4 L366.5,772.4 L367,772.4 L367.5,772.4 L368,772.4 L368.5,772.4 L369,772.4 L369.5,772.4 L370,772.4 L370.5,772.4 L371,772.4 L371.5,772.4 L372,772.4 L372.5,772.4 L373,772.4 L373.5,772.4 L374,772.4 L374.5,772.4 L375,772.4 L375.5,772.4 L376,772.4 L376.5,772.4 L377,772.4 L377.5,772.4 L378,772.4 L378.5,772.4 L379,772.4 L379.5,772.4 L380,772.4 L380.5,772.4 L381,772.4 L381.5,772.4 L382,772.4 L382.5,772.4 L383,772.4 L383.5,772.4 L384,772.4 L384.5,772.4 L385,772.4 L385.5,772.4 L386,772.4 L386.5,772.4 L387,772.4 L387.5,772.4 L388,772.4 L388.5,772.4 L389,772.4 L389.5,772.4 L390,772.4 L390.5,772.4 L391,772.4 L391.5,772.4 L392,772.4 L392.5,772.4 L393,772.4 L393.5,772.4 L394,772.4 L394.5,772.4 L395,772.4 L395.5,772.4 L396,772.4 L396.5,772.4 L397,772.4" fill="none" stroke="#b0b0b0" stroke-width="0.7" stroke-linejoin="round"/>
<line x1="272" y1="772.3" x2="397.4" y2="772.3" stroke="#c8c8c8" stroke-width="0.7"/>
<path d="M273,797.3 L273,797.3 L273.5,797.3 L274,797.3 L274.5,797.3 L275,797.3 L275.5,797.3 L276,797.3 L276.5,797.3 L277,797.3 L277.5,797.3 L278,797.3 L278.5,797.3 L279,797.3 L279.5,797.3 L280,797.3 L280.5,797.26 L281,797.22 L281.5,797.18 L282,797.15 L282.5,797.11 L283,797.07 L283.5,797.03 L284,796.99 L284.5,796.95 L285,796.92 L285.5,796.83 L286,796.8 L286.5,796.66 L287,796.53 L287.5,796.2 L288,796.23 L288.5,796.01 L289,796.18 L289.5,795.86 L290,795.54 L290.5,795.61 L291,795.2 L291.5,795.11 L292,795.36 L292.5,795.55 L293,794.8 L293.5,795.24 L294,794.99 L294.5,793.76 L295,793.14 L295.5,792.67 L296,791.98 L296.5,792.88 L297,792.75 L297.5,792.3 L298,789.92 L298.5,791.59 L299,791.09 L299.5,791.11 L300,790.68 L300.5,790.29 L301,788.91 L301.5,789.05 L302,788.09 L302.5,785.33 L303,786.71 L303.5,783.87 L304,783.2 L304.5,782.81 L305,781.88 L305.5,780.4 L306,780.05 L306.5,780.22 L307,779.02 L307.5,778.37 L308,777 L308.5,774.34 L309,774.56 L309.5,774.16 L310,771.48 L310.5,769.01 L311,768.65 L311.5,766.41 L312,766.78 L312.5,765.41 L313,762.42 L313.5,763.14 L314,761.26 L314.5,759.89 L315,759.34 L315.5,758.69 L316,757.72 L316.5,753.83 L317,753.56 L317.5,751.71 L318,752.03 L318.5,749.58 L319,749.26 L319.5,751.23 L320,752.75 L320.5,754.04 L321,756.12 L321.5,757.44 L322,758.17 L322.5,761.53 L323,761.33 L323.5,764.17 L324,765.89 L324.5,767.23 L325,769.76 L325.5,773.29 L326,774.96 L326.5,777.58 L327,778.92 L327.5,777.56 L328,780.05 L328.5,780.34 L329,782.32 L329.5,785.14 L330,784.6 L330.5,786.15 L331,788.32 L331.5,790.05 L332,789.95 L332.5,790.93 L333,790.97 L333.5,792.19 L334,791.41 L334.5,791.59 L335,793.53 L335.5,793.3 L336,794.19 L336.5,794.92 L337,794.73 L337.5,795.33 L338,795.17 L338.5,795.87 L339,795.46 L339.5,796.07 L340,796.3 L340.5,796.08 L341,796.33 L341.5,796.52 L342,796.68 L342.5,796.9 L343,796.94 L343.5,796.99 L344,797.03 L344.5,797.08 L345,797.12 L345.5,797.17 L346,797.21 L346.5,797.26 L347,797.3 L347.5,797.3 L348,797.3 L348.5,797.3 L349,797.3 L349.5,797.3 L350,797.3 L350.5,797.3 L351,797.3 L351.5,797.3 L352,797.3 L352.5,797.3 L353,797.3 L353.5,797.3 L354,797.3 L354.5,797.3 L355,797.3 L355.5,797.3 L356,797.3 L356.5,797.3 L357,797.3 L357.5,797.3 L358,797.3 L358.5,797.3 L359,797.3 L359.5,797.3 L360,797.3 L360.5,797.3 L361,797.3 L361.5,797.3 L362,797.3 L362.5,797.3 L363,797.3 L363.5,797.3 L364,797.3 L364.5,797.3 L365,797.3 L365.5,797.3 L366,797.3 L366.5,797.3 L367,797.3 L367.5,797.3 L368,797.3 L368.5,797.3 L369,797.3 L369.5,797.3 L370,797.3 L370.5,797.3 L371,797.3 L371.5,797.3 L372,797.3 L372.5,797.3 L373,797.3 L373.5,797.3 L374,797.3 L374.5,797.3 L375,797.3 L375.5,797.3 L376,797.3 L376.5,797.3 L377,797.3 L377.5,797.3 L378,797.3 L378.5,797.3 L379,797.3 L379.5,797.3 L380,797.3 L380.5,797.3 L381,797.3 L381.5,797.3 L382,797.3 L382.5,797.3 L383,797.3 L383.5,797.3 L384,797.3 L384.5,797.3 L385,797.3 L385.5,797.3 L386,797.3 L386.5,797.3 L387,797.3 L387.5,797.3 L388,797.3 L388.5,797.3 L389,797.3 L389.5,797.3 L390,797.3 L390.5,797.3 L391,797.3 L391.5,797.3 L392,797.3 L392.5,797.3 L393,797.3 L393.5,797.3 L394,797.3 L394.5,797.3 L395,797.3 L395.5,797.3 L396,797.3 L396.5,797.3 L397,797.3 L397,797.3 Z" fill="rgba(150,150,250,0.45)"/>
<path d="M273,797.3 L273.5,797.3 L274,797.3 L274.5,797.3 L275,797.3 L275.5,797.3 L276,797.3 L276.5,797.3 L277,797.3 L277.5,797.3 L278,797.3 L278.5,797.3 L279,797.3 L279.5,797.3 L280,797.3 L280.5,797.26 L281,797.22 L281.5,797.18 L282,797.15 L282.5,797.11 L283,797.07 L283.5,797.03 L284,796.99 L284.5,796.95 L285,796.92 L285.5,796.83 L286,796.8 L286.5,796.66 L287,796.53 L287.5,796.2 L288,796.23 L288.5,796.01 L289,796.18 L289.5,795.86 L290,795.54 L290.5,795.61 L291,795.2 L291.5,795.11 L292,795.36 L292.5,795.55 L293,794.8 L293.5,795.24 L294,794.99 L294.5,793.76 L295,793.14 L295.5,792.67 L296,791.98 L296.5,792.88 L297,792.75 L297.5,792.3 L298,789.92 L298.5,791.59 L299,791.09 L299.5,791.11 L300,790.68 L300.5,790.29 L301,788.91 L301.5,789.05 L302,788.09 L302.5,785.33 L303,786.71 L303.5,783.87 L304,783.2 L304.5,782.81 L305,781.88 L305.5,780.4 L306,780.05 L306.5,780.22 L307,779.02 L307.5,778.37 L308,777 L308.5,774.34 L309,774.56 L309.5,774.16 L310,771.48 L310.5,769.01 L311,768.65 L311.5,766.41 L312,766.78 L312.5,765.41 L313,762.42 L313.5,763.14 L314,761.26 L314.5,759.89 L315,759.34 L315.5,758.69 L316,757.72 L316.5,753.83 L317,753.56 L317.5,751.71 L318,752.03 L318.5,749.58 L319,749.26 L319.5,751.23 L320,752.75 L320.5,754.04 L321,756.12 L321.5,757.44 L322,758.17 L322.5,761.53 L323,761.33 L323.5,764.17 L324,765.89 L324.5,767.23 L325,769.76 L325.5,773.29 L326,774.96 L326.5,777.58 L327,778.92 L327.5,777.56 L328,780.05 L328.5,780.34 L329,782.32 L329.5,785.14 L330,784.6 L330.5,786.15 L331,788.32 L331.5,790.05 L332,789.95 L332.5,790.93 L333,790.97 L333.5,792.19 L334,791.41 L334.5,791.59 L335,793.53 L335.5,793.3 L336,794.19 L336.5,794.92 L337,794.73 L337.5,795.33 L338,795.17 L338.5,795.87 L339,795.46 L339.5,796.07 L340,796.3 L340.5,796.08 L341,796.33 L341.5,796.52 L342,796.68 L342.5,796.9 L343,796.94 L343.5,796.99 L344,797.03 L344.5,797.08 L345,797.12 L345.5,797.17 L346,797.21 L346.5,797.26 L347,797.3 L347.5,797.3 L348,797.3 L348.5,797.3 L349,797.3 L349.5,797.3 L350,797.3 L350.5,797.3 L351,797.3 L351.5,797.3 L352,797.3 L352.5,797.3 L353,797.3 L353.5,797.3 L354,797.3 L354.5,797.3 L355,797.3 L355.5,797.3 L356,797.3 L356.5,797.3 L357,797.3 L357.5,797.3 L358,797.3 L358.5,797.3 L359,797.3 L359.5,797.3 L360,797.3 L360.5,797.3 L361,797.3 L361.5,797.3 L362,797.3 L362.5,797.3 L363,797.3 L363.5,797.3 L364,797.3 L364.5,797.3 L365,797.3 L365.5,797.3 L366,797.3 L366.5,797.3 L367,797.3 L367.5,797.3 L368,797.3 L368.5,797.3 L369,797.3 L369.5,797.3 L370,797.3 L370.5,797.3 L371,797.3 L371.5,797.3 L372,797.3 L372.5,797.3 L373,797.3 L373.5,797.3 L374,797.3 L374.5,797.3 L375,797.3 L375.5,797.3 L376,797.3 L376.5,797.3 L377,797.3 L377.5,797.3 L378,797.3 L378.5,797.3 L379,797.3 L379.5,797.3 L380,797.3 L380.5,797.3 L381,797.3 L381.5,797.3 L382,797.3 L382.5,797.3 L383,797.3 L383.5,797.3 L384,797.3 L384.5,797.3 L385,797.3 L385.5,797.3 L386,797.3 L386.5,797.3 L387,797.3 L387.5,797.3 L388,797.3 L388.5,797.3 L389,797.3 L389.5,797.3 L390,797.3 L390.5,797.3 L391,797.3 L391.5,797.3 L392,797.3 L392.5,797.3 L393,797.3 L393.5,797.3 L394,797.3 L394.5,797.3 L395,797.3 L395.5,797.3 L396,797.3 L396.5,797.3 L397,797.3" fill="none" stroke="#7f7ff2" stroke-width="0.8" stroke-linejoin="round"/>
<line x1="272" y1="797.3" x2="397.4" y2="797.3" stroke="#a6a6f6" stroke-width="0.7"/>
<path d="M273,822.3 L273,822.3 L273.5,822.3 L274,822.3 L274.5,822.3 L275,822.3 L275.5,822.3 L276,822.3 L276.5,822.3 L277,822.3 L277.5,822.3 L278,822.3 L278.5,822.3 L279,822.3 L279.5,822.3 L280,822.3 L280.5,822.26 L281,822.22 L281.5,822.18 L282,822.15 L282.5,822.11 L283,822.07 L283.5,822.03 L284,821.99 L284.5,821.95 L285,821.92 L285.5,821.73 L286,821.44 L286.5,821.09 L287,821.07 L287.5,820.6 L288,820.15 L288.5,819.84 L289,820.19 L289.5,819.49 L290,819.25 L290.5,819.11 L291,818.25 L291.5,818.32 L292,817.91 L292.5,816.44 L293,816.44 L293.5,816.64 L294,816.11 L294.5,815.1 L295,815.85 L295.5,813.68 L296,812.75 L296.5,813.13 L297,811.32 L297.5,810.53 L298,810.93 L298.5,809.72 L299,810.58 L299.5,809.93 L300,806.33 L300.5,807.58 L301,806.96 L301.5,804.08 L302,803.68 L302.5,804.73 L303,803.3 L303.5,802.71 L304,801.78 L304.5,801.75 L305,799.26 L305.5,798.56 L306,796.94 L306.5,796.22 L307,795.09 L307.5,793.97 L308,790.1 L308.5,789.12 L309,788.33 L309.5,788.31 L310,786.94 L310.5,785.74 L311,783.85 L311.5,783.75 L312,782.22 L312.5,781.57 L313,782.01 L313.5,781.37 L314,782.69 L314.5,783.38 L315,784.06 L315.5,783.85 L316,783.44 L316.5,785.73 L317,787.29 L317.5,786.91 L318,788.06 L318.5,788.84 L319,792.83 L319.5,792.53 L320,797.09 L320.5,797.49 L321,799.77 L321.5,802.15 L322,802.43 L322.5,804.99 L323,808.61 L323.5,809.62 L324,811.26 L324.5,814.2 L325,815.24 L325.5,814.93 L326,815.89 L326.5,817.67 L327,818.9 L327.5,819.16 L328,819.79 L328.5,819.57 L329,819.93 L329.5,820.66 L330,821.25 L330.5,821.42 L331,821.69 L331.5,821.93 L332,821.98 L332.5,822.04 L333,822.09 L333.5,822.14 L334,822.19 L334.5,822.25 L335,822.3 L335.5,822.3 L336,822.3 L336.5,822.3 L337,822.3 L337.5,822.3 L338,822.3 L338.5,822.3 L339,822.3 L339.5,822.3 L340,822.3 L340.5,822.3 L341,822.3 L341.5,822.3 L342,822.3 L342.5,822.3 L343,822.3 L343.5,822.3 L344,822.3 L344.5,822.3 L345,822.3 L345.5,822.3 L346,822.3 L346.5,822.3 L347,822.3 L347.5,822.3 L348,822.3 L348.5,822.3 L349,822.3 L349.5,822.3 L350,822.3 L350.5,822.3 L351,822.3 L351.5,822.3 L352,822.3 L352.5,822.3 L353,822.3 L353.5,822.3 L354,822.3 L354.5,822.3 L355,822.3 L355.5,822.3 L356,822.3 L356.5,822.3 L357,822.3 L357.5,822.3 L358,822.3 L358.5,822.3 L359,822.3 L359.5,822.3 L360,822.3 L360.5,822.3 L361,822.3 L361.5,822.3 L362,822.3 L362.5,822.3 L363,822.3 L363.5,822.3 L364,822.3 L364.5,822.3 L365,822.3 L365.5,822.3 L366,822.3 L366.5,822.3 L367,822.3 L367.5,822.3 L368,822.3 L368.5,822.3 L369,822.3 L369.5,822.3 L370,822.3 L370.5,822.3 L371,822.3 L371.5,822.3 L372,822.3 L372.5,822.3 L373,822.3 L373.5,822.3 L374,822.3 L374.5,822.3 L375,822.3 L375.5,822.3 L376,822.3 L376.5,822.3 L377,822.3 L377.5,822.3 L378,822.3 L378.5,822.3 L379,822.3 L379.5,822.3 L380,822.3 L380.5,822.3 L381,822.3 L381.5,822.3 L382,822.3 L382.5,822.3 L383,822.3 L383.5,822.3 L384,822.3 L384.5,822.3 L385,822.3 L385.5,822.3 L386,822.3 L386.5,822.3 L387,822.3 L387.5,822.3 L388,822.3 L388.5,822.3 L389,822.3 L389.5,822.3 L390,822.3 L390.5,822.3 L391,822.3 L391.5,822.3 L392,822.3 L392.5,822.3 L393,822.3 L393.5,822.3 L394,822.3 L394.5,822.3 L395,822.3 L395.5,822.3 L396,822.3 L396.5,822.3 L397,822.3 L397,822.3 Z" fill="rgba(170,80,240,0.5)"/>
<path d="M273,822.3 L273.5,822.3 L274,822.3 L274.5,822.3 L275,822.3 L275.5,822.3 L276,822.3 L276.5,822.3 L277,822.3 L277.5,822.3 L278,822.3 L278.5,822.3 L279,822.3 L279.5,822.3 L280,822.3 L280.5,822.26 L281,822.22 L281.5,822.18 L282,822.15 L282.5,822.11 L283,822.07 L283.5,822.03 L284,821.99 L284.5,821.95 L285,821.92 L285.5,821.73 L286,821.44 L286.5,821.09 L287,821.07 L287.5,820.6 L288,820.15 L288.5,819.84 L289,820.19 L289.5,819.49 L290,819.25 L290.5,819.11 L291,818.25 L291.5,818.32 L292,817.91 L292.5,816.44 L293,816.44 L293.5,816.64 L294,816.11 L294.5,815.1 L295,815.85 L295.5,813.68 L296,812.75 L296.5,813.13 L297,811.32 L297.5,810.53 L298,810.93 L298.5,809.72 L299,810.58 L299.5,809.93 L300,806.33 L300.5,807.58 L301,806.96 L301.5,804.08 L302,803.68 L302.5,804.73 L303,803.3 L303.5,802.71 L304,801.78 L304.5,801.75 L305,799.26 L305.5,798.56 L306,796.94 L306.5,796.22 L307,795.09 L307.5,793.97 L308,790.1 L308.5,789.12 L309,788.33 L309.5,788.31 L310,786.94 L310.5,785.74 L311,783.85 L311.5,783.75 L312,782.22 L312.5,781.57 L313,782.01 L313.5,781.37 L314,782.69 L314.5,783.38 L315,784.06 L315.5,783.85 L316,783.44 L316.5,785.73 L317,787.29 L317.5,786.91 L318,788.06 L318.5,788.84 L319,792.83 L319.5,792.53 L320,797.09 L320.5,797.49 L321,799.77 L321.5,802.15 L322,802.43 L322.5,804.99 L323,808.61 L323.5,809.62 L324,811.26 L324.5,814.2 L325,815.24 L325.5,814.93 L326,815.89 L326.5,817.67 L327,818.9 L327.5,819.16 L328,819.79 L328.5,819.57 L329,819.93 L329.5,820.66 L330,821.25 L330.5,821.42 L331,821.69 L331.5,821.93 L332,821.98 L332.5,822.04 L333,822.09 L333.5,822.14 L334,822.19 L334.5,822.25 L335,822.3 L335.5,822.3 L336,822.3 L336.5,822.3 L337,822.3 L337.5,822.3 L338,822.3 L338.5,822.3 L339,822.3 L339.5,822.3 L340,822.3 L340.5,822.3 L341,822.3 L341.5,822.3 L342,822.3 L342.5,822.3 L343,822.3 L343.5,822.3 L344,822.3 L344.5,822.3 L345,822.3 L345.5,822.3 L346,822.3 L346.5,822.3 L347,822.3 L347.5,822.3 L348,822.3 L348.5,822.3 L349,822.3 L349.5,822.3 L350,822.3 L350.5,822.3 L351,822.3 L351.5,822.3 L352,822.3 L352.5,822.3 L353,822.3 L353.5,822.3 L354,822.3 L354.5,822.3 L355,822.3 L355.5,822.3 L356,822.3 L356.5,822.3 L357,822.3 L357.5,822.3 L358,822.3 L358.5,822.3 L359,822.3 L359.5,822.3 L360,822.3 L360.5,822.3 L361,822.3 L361.5,822.3 L362,822.3 L362.5,822.3 L363,822.3 L363.5,822.3 L364,822.3 L364.5,822.3 L365,822.3 L365.5,822.3 L366,822.3 L366.5,822.3 L367,822.3 L367.5,822.3 L368,822.3 L368.5,822.3 L369,822.3 L369.5,822.3 L370,822.3 L370.5,822.3 L371,822.3 L371.5,822.3 L372,822.3 L372.5,822.3 L373,822.3 L373.5,822.3 L374,822.3 L374.5,822.3 L375,822.3 L375.5,822.3 L376,822.3 L376.5,822.3 L377,822.3 L377.5,822.3 L378,822.3 L378.5,822.3 L379,822.3 L379.5,822.3 L380,822.3 L380.5,822.3 L381,822.3 L381.5,822.3 L382,822.3 L382.5,822.3 L383,822.3 L383.5,822.3 L384,822.3 L384.5,822.3 L385,822.3 L385.5,822.3 L386,822.3 L386.5,822.3 L387,822.3 L387.5,822.3 L388,822.3 L388.5,822.3 L389,822.3 L389.5,822.3 L390,822.3 L390.5,822.3 L391,822.3 L391.5,822.3 L392,822.3 L392.5,822.3 L393,822.3 L393.5,822.3 L394,822.3 L394.5,822.3 L395,822.3 L395.5,822.3 L396,822.3 L396.5,822.3 L397,822.3" fill="none" stroke="#a43cf0" stroke-width="0.8" stroke-linejoin="round"/>
<line x1="272" y1="822.3" x2="397.4" y2="822.3" stroke="#c890f4" stroke-width="0.7"/>
<path d="M273,846.9 L273,846.9 L273.5,846.9 L274,846.9 L274.5,846.9 L275,846.9 L275.5,846.9 L276,846.9 L276.5,846.9 L277,846.9 L277.5,846.9 L278,846.9 L278.5,846.9 L279,846.9 L279.5,846.9 L280,846.9 L280.5,846.9 L281,846.9 L281.5,846.9 L282,846.9 L282.5,846.83 L283,846.76 L283.5,846.7 L284,846.63 L284.5,846.56 L285,846.49 L285.5,846.42 L286,846.35 L286.5,846.2 L287,845.7 L287.5,845.24 L288,844.81 L288.5,844.8 L289,843.87 L289.5,844.01 L290,843.79 L290.5,843.73 L291,842.76 L291.5,842.83 L292,842.07 L292.5,840.78 L293,839.75 L293.5,839.15 L294,840.41 L294.5,839.94 L295,838.75 L295.5,837.26 L296,835.8 L296.5,835.32 L297,834.32 L297.5,834.62 L298,833.71 L298.5,833.97 L299,833.14 L299.5,832.69 L300,830.93 L300.5,829.95 L301,829.28 L301.5,829.05 L302,828.19 L302.5,827.95 L303,825.48 L303.5,825.41 L304,824.14 L304.5,823.18 L305,823.95 L305.5,823.38 L306,821.83 L306.5,818.9 L307,818.19 L307.5,818.29 L308,816.13 L308.5,816.37 L309,814.6 L309.5,816.73 L310,814.58 L310.5,813.66 L311,815.14 L311.5,814.79 L312,815.57 L312.5,814.91 L313,814.82 L313.5,814.41 L314,814.87 L314.5,814.16 L315,815.52 L315.5,815.04 L316,816.18 L316.5,817.59 L317,816.32 L317.5,819.1 L318,819.31 L318.5,819.92 L319,822.04 L319.5,823.1 L320,825.84 L320.5,826.72 L321,830.8 L321.5,830.46 L322,833.33 L322.5,835.04 L323,835.29 L323.5,836.87 L324,839.56 L324.5,840.92 L325,842.5 L325.5,842.54 L326,843.77 L326.5,844.85 L327,845.38 L327.5,846.27 L328,846.42 L328.5,846.46 L329,846.55 L329.5,846.64 L330,846.72 L330.5,846.81 L331,846.9 L331.5,846.9 L332,846.9 L332.5,846.9 L333,846.9 L333.5,846.9 L334,846.9 L334.5,846.9 L335,846.9 L335.5,846.9 L336,846.9 L336.5,846.9 L337,846.9 L337.5,846.9 L338,846.9 L338.5,846.9 L339,846.9 L339.5,846.9 L340,846.9 L340.5,846.9 L341,846.9 L341.5,846.9 L342,846.9 L342.5,846.9 L343,846.9 L343.5,846.9 L344,846.9 L344.5,846.9 L345,846.9 L345.5,846.9 L346,846.9 L346.5,846.9 L347,846.9 L347.5,846.9 L348,846.9 L348.5,846.9 L349,846.9 L349.5,846.9 L350,846.9 L350.5,846.9 L351,846.9 L351.5,846.9 L352,846.9 L352.5,846.9 L353,846.9 L353.5,846.9 L354,846.9 L354.5,846.9 L355,846.9 L355.5,846.9 L356,846.9 L356.5,846.9 L357,846.9 L357.5,846.9 L358,846.9 L358.5,846.9 L359,846.9 L359.5,846.9 L360,846.9 L360.5,846.9 L361,846.9 L361.5,846.9 L362,846.9 L362.5,846.9 L363,846.9 L363.5,846.9 L364,846.9 L364.5,846.9 L365,846.9 L365.5,846.9 L366,846.9 L366.5,846.9 L367,846.9 L367.5,846.9 L368,846.9 L368.5,846.9 L369,846.9 L369.5,846.9 L370,846.9 L370.5,846.9 L371,846.9 L371.5,846.9 L372,846.9 L372.5,846.9 L373,846.9 L373.5,846.9 L374,846.9 L374.5,846.9 L375,846.9 L375.5,846.9 L376,846.9 L376.5,846.9 L377,846.9 L377.5,846.9 L378,846.9 L378.5,846.9 L379,846.9 L379.5,846.9 L380,846.9 L380.5,846.9 L381,846.9 L381.5,846.9 L382,846.9 L382.5,846.9 L383,846.9 L383.5,846.9 L384,846.9 L384.5,846.9 L385,846.9 L385.5,846.9 L386,846.9 L386.5,846.9 L387,846.9 L387.5,846.9 L388,846.9 L388.5,846.9 L389,846.9 L389.5,846.9 L390,846.9 L390.5,846.9 L391,846.9 L391.5,846.9 L392,846.9 L392.5,846.9 L393,846.9 L393.5,846.9 L394,846.9 L394.5,846.9 L395,846.9 L395.5,846.9 L396,846.9 L396.5,846.9 L397,846.9 L397,846.9 Z" fill="#a4f2a4"/>
<path d="M273,846.9 L273.5,846.9 L274,846.9 L274.5,846.9 L275,846.9 L275.5,846.9 L276,846.9 L276.5,846.9 L277,846.9 L277.5,846.9 L278,846.9 L278.5,846.9 L279,846.9 L279.5,846.9 L280,846.9 L280.5,846.9 L281,846.9 L281.5,846.9 L282,846.9 L282.5,846.83 L283,846.76 L283.5,846.7 L284,846.63 L284.5,846.56 L285,846.49 L285.5,846.42 L286,846.35 L286.5,846.2 L287,845.7 L287.5,845.24 L288,844.81 L288.5,844.8 L289,843.87 L289.5,844.01 L290,843.79 L290.5,843.73 L291,842.76 L291.5,842.83 L292,842.07 L292.5,840.78 L293,839.75 L293.5,839.15 L294,840.41 L294.5,839.94 L295,838.75 L295.5,837.26 L296,835.8 L296.5,835.32 L297,834.32 L297.5,834.62 L298,833.71 L298.5,833.97 L299,833.14 L299.5,832.69 L300,830.93 L300.5,829.95 L301,829.28 L301.5,829.05 L302,828.19 L302.5,827.95 L303,825.48 L303.5,825.41 L304,824.14 L304.5,823.18 L305,823.95 L305.5,823.38 L306,821.83 L306.5,818.9 L307,818.19 L307.5,818.29 L308,816.13 L308.5,816.37 L309,814.6 L309.5,816.73 L310,814.58 L310.5,813.66 L311,815.14 L311.5,814.79 L312,815.57 L312.5,814.91 L313,814.82 L313.5,814.41 L314,814.87 L314.5,814.16 L315,815.52 L315.5,815.04 L316,816.18 L316.5,817.59 L317,816.32 L317.5,819.1 L318,819.31 L318.5,819.92 L319,822.04 L319.5,823.1 L320,825.84 L320.5,826.72 L321,830.8 L321.5,830.46 L322,833.33 L322.5,835.04 L323,835.29 L323.5,836.87 L324,839.56 L324.5,840.92 L325,842.5 L325.5,842.54 L326,843.77 L326.5,844.85 L327,845.38 L327.5,846.27 L328,846.42 L328.5,846.46 L329,846.55 L329.5,846.64 L330,846.72 L330.5,846.81 L331,846.9 L331.5,846.9 L332,846.9 L332.5,846.9 L333,846.9 L333.5,846.9 L334,846.9 L334.5,846.9 L335,846.9 L335.5,846.9 L336,846.9 L336.5,846.9 L337,846.9 L337.5,846.9 L338,846.9 L338.5,846.9 L339,846.9 L339.5,846.9 L340,846.9 L340.5,846.9 L341,846.9 L341.5,846.9 L342,846.9 L342.5,846.9 L343,846.9 L343.5,846.9 L344,846.9 L344.5,846.9 L345,846.9 L345.5,846.9 L346,846.9 L346.5,846.9 L347,846.9 L347.5,846.9 L348,846.9 L348.5,846.9 L349,846.9 L349.5,846.9 L350,846.9 L350.5,846.9 L351,846.9 L351.5,846.9 L352,846.9 L352.5,846.9 L353,846.9 L353.5,846.9 L354,846.9 L354.5,846.9 L355,846.9 L355.5,846.9 L356,846.9 L356.5,846.9 L357,846.9 L357.5,846.9 L358,846.9 L358.5,846.9 L359,846.9 L359.5,846.9 L360,846.9 L360.5,846.9 L361,846.9 L361.5,846.9 L362,846.9 L362.5,846.9 L363,846.9 L363.5,846.9 L364,846.9 L364.5,846.9 L365,846.9 L365.5,846.9 L366,846.9 L366.5,846.9 L367,846.9 L367.5,846.9 L368,846.9 L368.5,846.9 L369,846.9 L369.5,846.9 L370,846.9 L370.5,846.9 L371,846.9 L371.5,846.9 L372,846.9 L372.5,846.9 L373,846.9 L373.5,846.9 L374,846.9 L374.5,846.9 L375,846.9 L375.5,846.9 L376,846.9 L376.5,846.9 L377,846.9 L377.5,846.9 L378,846.9 L378.5,846.9 L379,846.9 L379.5,846.9 L380,846.9 L380.5,846.9 L381,846.9 L381.5,846.9 L382,846.9 L382.5,846.9 L383,846.9 L383.5,846.9 L384,846.9 L384.5,846.9 L385,846.9 L385.5,846.9 L386,846.9 L386.5,846.9 L387,846.9 L387.5,846.9 L388,846.9 L388.5,846.9 L389,846.9 L389.5,846.9 L390,846.9 L390.5,846.9 L391,846.9 L391.5,846.9 L392,846.9 L392.5,846.9 L393,846.9 L393.5,846.9 L394,846.9 L394.5,846.9 L395,846.9 L395.5,846.9 L396,846.9 L396.5,846.9 L397,846.9" fill="none" stroke="#2ee02e" stroke-width="0.9" stroke-linejoin="round"/>
<polyline points="272,846.9 272,720.5 397.4,720.5 397.4,846.9" fill="none" stroke="#777" stroke-width="0.9"/>
<line x1="272" y1="846.9" x2="397.4" y2="846.9" stroke="#444" stroke-width="0.9"/>
<line x1="275.3" y1="846.9" x2="275.3" y2="848.4" stroke="#444" stroke-width="0.55"/>
<line x1="278.6" y1="846.9" x2="278.6" y2="848.4" stroke="#444" stroke-width="0.55"/>
<line x1="285.3" y1="846.9" x2="285.3" y2="848.4" stroke="#444" stroke-width="0.55"/>
<line x1="288.7" y1="846.9" x2="288.7" y2="848.4" stroke="#444" stroke-width="0.55"/>
<line x1="292.1" y1="846.9" x2="292.1" y2="848.4" stroke="#444" stroke-width="0.55"/>
<line x1="295.5" y1="846.9" x2="295.5" y2="848.4" stroke="#444" stroke-width="0.55"/>
<line x1="298.9" y1="846.9" x2="298.9" y2="848.4" stroke="#444" stroke-width="0.55"/>
<line x1="305.95" y1="846.9" x2="305.95" y2="848.4" stroke="#444" stroke-width="0.55"/>
<line x1="309.6" y1="846.9" x2="309.6" y2="848.4" stroke="#444" stroke-width="0.55"/>
<line x1="313.25" y1="846.9" x2="313.25" y2="848.4" stroke="#444" stroke-width="0.55"/>
<line x1="316.9" y1="846.9" x2="316.9" y2="848.4" stroke="#444" stroke-width="0.55"/>
<line x1="320.55" y1="846.9" x2="320.55" y2="848.4" stroke="#444" stroke-width="0.55"/>
<line x1="327.56" y1="846.9" x2="327.56" y2="848.4" stroke="#444" stroke-width="0.55"/>
<line x1="330.92" y1="846.9" x2="330.92" y2="848.4" stroke="#444" stroke-width="0.55"/>
<line x1="334.28" y1="846.9" x2="334.28" y2="848.4" stroke="#444" stroke-width="0.55"/>
<line x1="337.64" y1="846.9" x2="337.64" y2="848.4" stroke="#444" stroke-width="0.55"/>
<line x1="341" y1="846.9" x2="341" y2="848.4" stroke="#444" stroke-width="0.55"/>
<line x1="344.36" y1="846.9" x2="344.36" y2="848.4" stroke="#444" stroke-width="0.55"/>
<line x1="347.72" y1="846.9" x2="347.72" y2="848.4" stroke="#444" stroke-width="0.55"/>
<line x1="351.08" y1="846.9" x2="351.08" y2="848.4" stroke="#444" stroke-width="0.55"/>
<line x1="354.44" y1="846.9" x2="354.44" y2="848.4" stroke="#444" stroke-width="0.55"/>
<line x1="361.16" y1="846.9" x2="361.16" y2="848.4" stroke="#444" stroke-width="0.55"/>
<line x1="364.51" y1="846.9" x2="364.51" y2="848.4" stroke="#444" stroke-width="0.55"/>
<line x1="367.87" y1="846.9" x2="367.87" y2="848.4" stroke="#444" stroke-width="0.55"/>
<line x1="371.22" y1="846.9" x2="371.22" y2="848.4" stroke="#444" stroke-width="0.55"/>
<line x1="374.58" y1="846.9" x2="374.58" y2="848.4" stroke="#444" stroke-width="0.55"/>
<line x1="377.93" y1="846.9" x2="377.93" y2="848.4" stroke="#444" stroke-width="0.55"/>
<line x1="381.29" y1="846.9" x2="381.29" y2="848.4" stroke="#444" stroke-width="0.55"/>
<line x1="384.64" y1="846.9" x2="384.64" y2="848.4" stroke="#444" stroke-width="0.55"/>
<line x1="392.7" y1="846.9" x2="392.7" y2="848.4" stroke="#444" stroke-width="0.55"/>
<line x1="281.9" y1="846.9" x2="281.9" y2="849.7" stroke="#222" stroke-width="0.9"/>
<text x="281.9" y="856.4" font-size="5" text-anchor="middle" fill="#333" font-weight="normal">-10<tspan font-size="3.60" dy="-2.2">3</tspan></text>
<line x1="302.3" y1="846.9" x2="302.3" y2="849.7" stroke="#222" stroke-width="0.9"/>
<text x="302.3" y="856.4" font-size="5" text-anchor="middle" fill="#333" font-weight="normal">0</text>
<line x1="324.2" y1="846.9" x2="324.2" y2="849.7" stroke="#222" stroke-width="0.9"/>
<text x="324.2" y="856.4" font-size="5" text-anchor="middle" fill="#333" font-weight="normal">10<tspan font-size="3.60" dy="-2.2">3</tspan></text>
<line x1="357.8" y1="846.9" x2="357.8" y2="849.7" stroke="#222" stroke-width="0.9"/>
<text x="357.8" y="856.4" font-size="5" text-anchor="middle" fill="#333" font-weight="normal">10<tspan font-size="3.60" dy="-2.2">4</tspan></text>
<line x1="388" y1="846.9" x2="388" y2="849.7" stroke="#222" stroke-width="0.9"/>
<text x="388" y="856.4" font-size="5" text-anchor="middle" fill="#333" font-weight="normal">10<tspan font-size="3.60" dy="-2.2">5</tspan></text>
<rect x="298.7" y="847.1" width="3.2" height="2.3" fill="#111"/>
<text x="265.15" y="780.7" font-size="8.8" text-anchor="middle" transform="rotate(-90 265.15 780.7)" textLength="46" lengthAdjust="spacingAndGlyphs">Histogram</text>
<line x1="261.8" y1="864.4" x2="261.8" y2="824.6" stroke="#111" stroke-width="1.5"/>
<polygon points="258.1,825.1 265.5,825.1 261.8,816.5" fill="#111"/>
<line x1="261.05" y1="864.4" x2="288.4" y2="864.4" stroke="#111" stroke-width="1.5"/>
<polygon points="287.9,860.7 287.9,868.1 296.5,864.4" fill="#111"/>
<text x="302.3" y="868.3" font-size="9.74" transform="translate(302.3 868.3) scale(0.8929 1) translate(-302.3 -868.3)" textLength="31.02" lengthAdjust="spacingAndGlyphs">HIF-1α</text>
<rect x="404.8" y="725.5" width="6.9" height="4.8" fill="#dddddd" stroke="#c0c0c0" stroke-width="0.6"/>
<rect x="404.8" y="737.6" width="6.9" height="4.8" fill="#c6c6fa" stroke="#9a9af2" stroke-width="0.6"/>
<rect x="404.8" y="748.9" width="6.9" height="4.8" fill="#cf9cf5" stroke="#b060f0" stroke-width="0.6"/>
<rect x="404.8" y="761" width="6.9" height="5.1" fill="#a4f2a4" stroke="#40e040" stroke-width="0.6"/>
<text x="416.4" y="731.4" font-size="8.3">IgG</text>
<text x="416.4" y="742.7" font-size="8.3" textLength="28.1" lengthAdjust="spacingAndGlyphs">αTIGIT</text>
<text x="416.4" y="754.4" font-size="8.3" textLength="73.7" lengthAdjust="spacingAndGlyphs">αTIGIT+LY294002</text>
<text x="416.4" y="766.4" font-size="8.3" textLength="54.4" lengthAdjust="spacingAndGlyphs">αTIGIT+CMK</text>
<text x="509.3" y="728.18" font-size="14.5">R</text>
<line x1="555.9" y1="736.7" x2="555.9" y2="828.4" stroke="#222" stroke-width="1.45"/>
<line x1="551.7" y1="828.4" x2="556.62" y2="828.4" stroke="#222" stroke-width="1.305"/>
<text x="550.5" y="831.42" font-size="8.62" text-anchor="end" transform="translate(550.5 831.42) scale(0.8696 1) translate(-550.5 -831.42)">0</text>
<line x1="551.7" y1="805.48" x2="556.62" y2="805.48" stroke="#222" stroke-width="1.305"/>
<text x="550.5" y="808.49" font-size="8.62" text-anchor="end" transform="translate(550.5 808.49) scale(0.8696 1) translate(-550.5 -808.49)">500</text>
<line x1="551.7" y1="782.55" x2="556.62" y2="782.55" stroke="#222" stroke-width="1.305"/>
<text x="550.5" y="785.57" font-size="8.62" text-anchor="end" transform="translate(550.5 785.57) scale(0.8696 1) translate(-550.5 -785.57)">1000</text>
<line x1="551.7" y1="759.62" x2="556.62" y2="759.62" stroke="#222" stroke-width="1.305"/>
<text x="550.5" y="762.64" font-size="8.62" text-anchor="end" transform="translate(550.5 762.64) scale(0.8696 1) translate(-550.5 -762.64)">1500</text>
<line x1="551.7" y1="736.7" x2="556.62" y2="736.7" stroke="#222" stroke-width="1.305"/>
<text x="550.5" y="739.72" font-size="8.62" text-anchor="end" transform="translate(550.5 739.72) scale(0.8696 1) translate(-550.5 -739.72)">2000</text>
<line x1="555.9" y1="828.4" x2="670.6" y2="828.4" stroke="#222" stroke-width="1.45"/>
<line x1="574.4" y1="828.4" x2="574.4" y2="832.4" stroke="#222" stroke-width="1.305"/>
<line x1="600.5" y1="828.4" x2="600.5" y2="832.4" stroke="#222" stroke-width="1.305"/>
<line x1="627.4" y1="828.4" x2="627.4" y2="832.4" stroke="#222" stroke-width="1.305"/>
<line x1="653.7" y1="828.4" x2="653.7" y2="832.4" stroke="#222" stroke-width="1.305"/>
<polyline points="566,828.4 566,779.8 582.8,779.8 582.8,828.4" fill="none" stroke="#111" stroke-width="1.8"/>
<polyline points="592.6,828.4 592.6,772.46 608.6,772.46 608.6,828.4" fill="none" stroke="#111" stroke-width="1.8"/>
<polyline points="618.6,828.4 618.6,787.13 635.4,787.13 635.4,828.4" fill="none" stroke="#111" stroke-width="1.8"/>
<polyline points="644.9,828.4 644.9,792.64 661.4,792.64 661.4,828.4" fill="none" stroke="#111" stroke-width="1.8"/>
<line x1="574.4" y1="755" x2="574.4" y2="803.4" stroke="#555" stroke-width="1.1"/>
<line x1="570" y1="755" x2="578.8" y2="755" stroke="#555" stroke-width="1.1"/>
<line x1="570" y1="803.4" x2="578.8" y2="803.4" stroke="#555" stroke-width="1.1"/>
<line x1="600.6" y1="743.3" x2="600.6" y2="799.8" stroke="#8a8af4" stroke-width="1.1"/>
<line x1="596.4" y1="743.3" x2="604.8" y2="743.3" stroke="#8a8af4" stroke-width="1.1"/>
<line x1="596.4" y1="799.8" x2="604.8" y2="799.8" stroke="#8a8af4" stroke-width="1.1"/>
<line x1="626.9" y1="769.1" x2="626.9" y2="804.2" stroke="#e496f2" stroke-width="1.1"/>
<line x1="622.7" y1="769.1" x2="631.1" y2="769.1" stroke="#e496f2" stroke-width="1.1"/>
<line x1="622.7" y1="804.2" x2="631.1" y2="804.2" stroke="#e496f2" stroke-width="1.1"/>
<line x1="653.2" y1="777.4" x2="653.2" y2="806.4" stroke="#444" stroke-width="1.1"/>
<line x1="649" y1="777.4" x2="657.4" y2="777.4" stroke="#444" stroke-width="1.1"/>
<line x1="649" y1="806.4" x2="657.4" y2="806.4" stroke="#444" stroke-width="1.1"/>
<circle cx="574.4" cy="748.7" r="1.9" fill="#a8a8a8"/>
<circle cx="574.4" cy="757.9" r="1.9" fill="#a8a8a8"/>
<circle cx="574.4" cy="767.7" r="1.9" fill="#a8a8a8"/>
<circle cx="574.4" cy="798.6" r="1.9" fill="#a8a8a8"/>
<circle cx="567.2" cy="803.1" r="1.9" fill="#a8a8a8"/>
<circle cx="581" cy="800.8" r="1.9" fill="#a8a8a8"/>
<circle cx="593.5" cy="741.8" r="1.9" fill="#8a8af4"/>
<circle cx="600.6" cy="741.8" r="1.9" fill="#8a8af4"/>
<circle cx="600.6" cy="756.4" r="1.9" fill="#8a8af4"/>
<circle cx="600.6" cy="789.3" r="1.9" fill="#8a8af4"/>
<circle cx="600.6" cy="798" r="1.9" fill="#8a8af4"/>
<circle cx="600.6" cy="802.7" r="1.9" fill="#8a8af4"/>
<circle cx="619.7" cy="769.1" r="1.9" fill="#e496f2"/>
<circle cx="626.9" cy="767.7" r="1.9" fill="#e496f2"/>
<circle cx="626.9" cy="777.2" r="1.9" fill="#e496f2"/>
<circle cx="619.7" cy="802.7" r="1.9" fill="#e496f2"/>
<circle cx="626.9" cy="802.7" r="1.9" fill="#e496f2"/>
<circle cx="633.9" cy="802.7" r="1.9" fill="#e496f2"/>
<circle cx="653.2" cy="773.2" r="1.9" fill="#39dd39"/>
<circle cx="653.2" cy="777.9" r="1.9" fill="#39dd39"/>
<circle cx="653.2" cy="786.4" r="1.9" fill="#39dd39"/>
<circle cx="653.2" cy="802.4" r="1.9" fill="#39dd39"/>
<circle cx="646.3" cy="806.4" r="1.9" fill="#39dd39"/>
<circle cx="660.2" cy="805.6" r="1.9" fill="#39dd39"/>
<line x1="575.2" y1="721" x2="653.3" y2="721" stroke="#151515" stroke-width="1.1"/>
<text x="613.2" y="722.1" font-size="8.5" text-anchor="middle">*</text>
<line x1="600.8" y1="728.5" x2="653.9" y2="728.5" stroke="#151515" stroke-width="1.1"/>
<text x="628.1" y="729.1" font-size="8.5" text-anchor="middle">*</text>
<line x1="575.2" y1="735.8" x2="598.4" y2="735.8" stroke="#151515" stroke-width="1.1"/>
<text x="586.6" y="736.5" font-size="8.5" text-anchor="middle">*</text>
<line x1="601.1" y1="735.8" x2="626.9" y2="735.8" stroke="#151515" stroke-width="1.1"/>
<text x="613.5" y="736.5" font-size="8.5" text-anchor="middle">*</text>
<text x="531.85" y="781.9" font-size="8" text-anchor="middle" transform="rotate(-90 531.85 781.9)" textLength="80.6" lengthAdjust="spacingAndGlyphs">MFI of HIF-1α NK cells</text>
<text x="562.8" y="843.1" font-size="8.74" text-anchor="end" transform="translate(562.8 843.1) scale(0.8696 1) translate(-562.8 -843.1)">IgG</text>
<text x="574.4" y="842.8" font-size="9.3" text-anchor="middle">+</text>
<text x="600.5" y="842.8" font-size="9.3" text-anchor="middle">−</text>
<text x="627.4" y="842.8" font-size="9.3" text-anchor="middle">−</text>
<text x="653.7" y="842.8" font-size="9.3" text-anchor="middle">−</text>
<text x="562.8" y="852.8" font-size="8.74" text-anchor="end" transform="translate(562.8 852.8) scale(0.8696 1) translate(-562.8 -852.8)">αTIGIT</text>
<text x="574.4" y="852.5" font-size="9.3" text-anchor="middle">−</text>
<text x="600.5" y="852.5" font-size="9.3" text-anchor="middle">+</text>
<text x="627.4" y="852.5" font-size="9.3" text-anchor="middle">+</text>
<text x="653.7" y="852.5" font-size="9.3" text-anchor="middle">+</text>
<text x="562.8" y="863.8" font-size="8.74" text-anchor="end" transform="translate(562.8 863.8) scale(0.8696 1) translate(-562.8 -863.8)">LY294002</text>
<text x="574.4" y="863.5" font-size="9.3" text-anchor="middle">−</text>
<text x="600.5" y="863.5" font-size="9.3" text-anchor="middle">−</text>
<text x="627.4" y="863.5" font-size="9.3" text-anchor="middle">+</text>
<text x="653.7" y="863.5" font-size="9.3" text-anchor="middle">−</text>
<text x="562.8" y="873.7" font-size="8.74" text-anchor="end" transform="translate(562.8 873.7) scale(0.8696 1) translate(-562.8 -873.7)">CMK</text>
<text x="574.4" y="873.4" font-size="9.3" text-anchor="middle">−</text>
<text x="600.5" y="873.4" font-size="9.3" text-anchor="middle">−</text>
<text x="627.4" y="873.4" font-size="9.3" text-anchor="middle">−</text>
<text x="653.7" y="873.4" font-size="9.3" text-anchor="middle">+</text>
<text x="4.7" y="928.88" font-size="14.5">S</text>
<path d="M31.5,989.1 L31.5,989.1 L32,989.1 L32.5,989.1 L33,989.1 L33.5,989.1 L34,989.1 L34.5,989.1 L35,989.1 L35.5,989.1 L36,989.1 L36.5,989.1 L37,989.1 L37.5,989.1 L38,989.1 L38.5,989.1 L39,989.1 L39.5,989.1 L40,989.1 L40.5,989.1 L41,989.1 L41.5,989.1 L42,989.1 L42.5,989.1 L43,989.1 L43.5,989.1 L44,989.1 L44.5,989.1 L45,989.1 L45.5,989.1 L46,989.1 L46.5,989.1 L47,989.1 L47.5,989.1 L48,989.1 L48.5,989.06 L49,989.03 L49.5,988.99 L50,988.95 L50.5,988.92 L51,988.88 L51.5,988.85 L52,988.81 L52.5,988.77 L53,988.74 L53.5,988.7 L54,988.45 L54.5,988.23 L55,988 L55.5,987.48 L56,987.33 L56.5,987 L57,986.62 L57.5,986.28 L58,985.56 L58.5,985.23 L59,984.55 L59.5,984.21 L60,983.06 L60.5,982.76 L61,982.43 L61.5,981.63 L62,979.62 L62.5,979.86 L63,978.02 L63.5,977.22 L64,977.47 L64.5,974.99 L65,974.76 L65.5,971.37 L66,969.69 L66.5,969.22 L67,966.47 L67.5,964.73 L68,964.22 L68.5,961.41 L69,960.46 L69.5,956.76 L70,955.1 L70.5,952.4 L71,952.13 L71.5,949.49 L72,946.77 L72.5,944.68 L73,943.45 L73.5,940.11 L74,938.26 L74.5,937.43 L75,935.81 L75.5,933.29 L76,932.34 L76.5,930.36 L77,930.32 L77.5,931.78 L78,933.79 L78.5,934.83 L79,936.86 L79.5,939 L80,942.28 L80.5,944.23 L81,947.16 L81.5,949.01 L82,951.99 L82.5,955.18 L83,958.08 L83.5,960.75 L84,963.29 L84.5,964.06 L85,966.45 L85.5,969.11 L86,972.81 L86.5,974.13 L87,977.21 L87.5,977.11 L88,978.99 L88.5,980.22 L89,981.94 L89.5,983.66 L90,984.24 L90.5,984.76 L91,986.01 L91.5,986.42 L92,986.83 L92.5,987.47 L93,988.14 L93.5,988.7 L94,988.74 L94.5,988.79 L95,988.83 L95.5,988.88 L96,988.92 L96.5,988.97 L97,989.01 L97.5,989.06 L98,989.1 L98.5,989.1 L99,989.1 L99.5,989.1 L100,989.1 L100.5,989.1 L101,989.1 L101.5,989.1 L102,989.1 L102.5,989.1 L103,989.1 L103.5,989.1 L104,989.1 L104.5,989.1 L105,989.1 L105.5,989.1 L106,989.1 L106.5,989.1 L107,989.1 L107.5,989.1 L108,989.1 L108.5,989.1 L109,989.1 L109.5,989.1 L110,989.1 L110.5,989.1 L111,989.1 L111.5,989.1 L112,989.1 L112.5,989.1 L113,989.1 L113.5,989.1 L114,989.1 L114.5,989.1 L115,989.1 L115.5,989.1 L116,989.1 L116.5,989.1 L117,989.1 L117.5,989.1 L118,989.1 L118.5,989.1 L119,989.1 L119.5,989.1 L120,989.1 L120.5,989.1 L121,989.1 L121.5,989.1 L122,989.1 L122.5,989.1 L123,989.1 L123.5,989.1 L124,989.1 L124.5,989.1 L125,989.1 L125.5,989.1 L126,989.1 L126.5,989.1 L127,989.1 L127.5,989.1 L128,989.1 L128.5,989.1 L129,989.1 L129.5,989.1 L130,989.1 L130.5,989.1 L131,989.1 L131.5,989.1 L132,989.1 L132.5,989.1 L133,989.1 L133.5,989.1 L134,989.1 L134.5,989.1 L135,989.1 L135.5,989.1 L136,989.1 L136.5,989.1 L137,989.1 L137.5,989.1 L138,989.1 L138.5,989.1 L139,989.1 L139.5,989.1 L140,989.1 L140.5,989.1 L141,989.1 L141.5,989.1 L142,989.1 L142.5,989.1 L143,989.1 L143.5,989.1 L144,989.1 L144.5,989.1 L145,989.1 L145.5,989.1 L146,989.1 L146.5,989.1 L147,989.1 L147.5,989.1 L148,989.1 L148.5,989.1 L149,989.1 L149.5,989.1 L150,989.1 L150.5,989.1 L151,989.1 L151.5,989.1 L152,989.1 L152.5,989.1 L153,989.1 L153.5,989.1 L154,989.1 L154,989.1 Z" fill="#dddddd"/>
<path d="M31.5,989.1 L32,989.1 L32.5,989.1 L33,989.1 L33.5,989.1 L34,989.1 L34.5,989.1 L35,989.1 L35.5,989.1 L36,989.1 L36.5,989.1 L37,989.1 L37.5,989.1 L38,989.1 L38.5,989.1 L39,989.1 L39.5,989.1 L40,989.1 L40.5,989.1 L41,989.1 L41.5,989.1 L42,989.1 L42.5,989.1 L43,989.1 L43.5,989.1 L44,989.1 L44.5,989.1 L45,989.1 L45.5,989.1 L46,989.1 L46.5,989.1 L47,989.1 L47.5,989.1 L48,989.1 L48.5,989.06 L49,989.03 L49.5,988.99 L50,988.95 L50.5,988.92 L51,988.88 L51.5,988.85 L52,988.81 L52.5,988.77 L53,988.74 L53.5,988.7 L54,988.45 L54.5,988.23 L55,988 L55.5,987.48 L56,987.33 L56.5,987 L57,986.62 L57.5,986.28 L58,985.56 L58.5,985.23 L59,984.55 L59.5,984.21 L60,983.06 L60.5,982.76 L61,982.43 L61.5,981.63 L62,979.62 L62.5,979.86 L63,978.02 L63.5,977.22 L64,977.47 L64.5,974.99 L65,974.76 L65.5,971.37 L66,969.69 L66.5,969.22 L67,966.47 L67.5,964.73 L68,964.22 L68.5,961.41 L69,960.46 L69.5,956.76 L70,955.1 L70.5,952.4 L71,952.13 L71.5,949.49 L72,946.77 L72.5,944.68 L73,943.45 L73.5,940.11 L74,938.26 L74.5,937.43 L75,935.81 L75.5,933.29 L76,932.34 L76.5,930.36 L77,930.32 L77.5,931.78 L78,933.79 L78.5,934.83 L79,936.86 L79.5,939 L80,942.28 L80.5,944.23 L81,947.16 L81.5,949.01 L82,951.99 L82.5,955.18 L83,958.08 L83.5,960.75 L84,963.29 L84.5,964.06 L85,966.45 L85.5,969.11 L86,972.81 L86.5,974.13 L87,977.21 L87.5,977.11 L88,978.99 L88.5,980.22 L89,981.94 L89.5,983.66 L90,984.24 L90.5,984.76 L91,986.01 L91.5,986.42 L92,986.83 L92.5,987.47 L93,988.14 L93.5,988.7 L94,988.74 L94.5,988.79 L95,988.83 L95.5,988.88 L96,988.92 L96.5,988.97 L97,989.01 L97.5,989.06 L98,989.1 L98.5,989.1 L99,989.1 L99.5,989.1 L100,989.1 L100.5,989.1 L101,989.1 L101.5,989.1 L102,989.1 L102.5,989.1 L103,989.1 L103.5,989.1 L104,989.1 L104.5,989.1 L105,989.1 L105.5,989.1 L106,989.1 L106.5,989.1 L107,989.1 L107.5,989.1 L108,989.1 L108.5,989.1 L109,989.1 L109.5,989.1 L110,989.1 L110.5,989.1 L111,989.1 L111.5,989.1 L112,989.1 L112.5,989.1 L113,989.1 L113.5,989.1 L114,989.1 L114.5,989.1 L115,989.1 L115.5,989.1 L116,989.1 L116.5,989.1 L117,989.1 L117.5,989.1 L118,989.1 L118.5,989.1 L119,989.1 L119.5,989.1 L120,989.1 L120.5,989.1 L121,989.1 L121.5,989.1 L122,989.1 L122.5,989.1 L123,989.1 L123.5,989.1 L124,989.1 L124.5,989.1 L125,989.1 L125.5,989.1 L126,989.1 L126.5,989.1 L127,989.1 L127.5,989.1 L128,989.1 L128.5,989.1 L129,989.1 L129.5,989.1 L130,989.1 L130.5,989.1 L131,989.1 L131.5,989.1 L132,989.1 L132.5,989.1 L133,989.1 L133.5,989.1 L134,989.1 L134.5,989.1 L135,989.1 L135.5,989.1 L136,989.1 L136.5,989.1 L137,989.1 L137.5,989.1 L138,989.1 L138.5,989.1 L139,989.1 L139.5,989.1 L140,989.1 L140.5,989.1 L141,989.1 L141.5,989.1 L142,989.1 L142.5,989.1 L143,989.1 L143.5,989.1 L144,989.1 L144.5,989.1 L145,989.1 L145.5,989.1 L146,989.1 L146.5,989.1 L147,989.1 L147.5,989.1 L148,989.1 L148.5,989.1 L149,989.1 L149.5,989.1 L150,989.1 L150.5,989.1 L151,989.1 L151.5,989.1 L152,989.1 L152.5,989.1 L153,989.1 L153.5,989.1 L154,989.1" fill="none" stroke="#b0b0b0" stroke-width="0.7" stroke-linejoin="round"/>
<line x1="30.7" y1="989" x2="154.7" y2="989" stroke="#c8c8c8" stroke-width="0.7"/>
<path d="M31.5,1020.2 L31.5,1020.2 L32,1020.2 L32.5,1020.2 L33,1020.2 L33.5,1020.2 L34,1020.2 L34.5,1020.2 L35,1020.2 L35.5,1020.2 L36,1020.2 L36.5,1020.2 L37,1020.2 L37.5,1020.2 L38,1020.2 L38.5,1020.2 L39,1020.2 L39.5,1020.2 L40,1020.2 L40.5,1020.2 L41,1020.2 L41.5,1020.2 L42,1020.2 L42.5,1020.2 L43,1020.2 L43.5,1020.2 L44,1020.2 L44.5,1020.2 L45,1020.2 L45.5,1020.2 L46,1020.2 L46.5,1020.2 L47,1020.2 L47.5,1020.2 L48,1020.2 L48.5,1020.17 L49,1020.15 L49.5,1020.12 L50,1020.09 L50.5,1020.06 L51,1020.04 L51.5,1020.01 L52,1019.98 L52.5,1019.95 L53,1019.93 L53.5,1019.9 L54,1019.73 L54.5,1019.54 L55,1019.49 L55.5,1019.29 L56,1019.15 L56.5,1018.82 L57,1018.67 L57.5,1018.41 L58,1018.59 L58.5,1018.16 L59,1017.97 L59.5,1017.43 L60,1016.77 L60.5,1016.79 L61,1016.21 L61.5,1015.26 L62,1014.93 L62.5,1014.93 L63,1013.95 L63.5,1013.14 L64,1014.06 L64.5,1012.18 L65,1011.91 L65.5,1011.53 L66,1010.81 L66.5,1008.12 L67,1008.27 L67.5,1007.67 L68,1006.57 L68.5,1003.98 L69,1003.38 L69.5,1001.88 L70,1000.95 L70.5,1000.24 L71,998.28 L71.5,998.38 L72,996.53 L72.5,994.19 L73,992.82 L73.5,990.55 L74,989.34 L74.5,987.3 L75,986.83 L75.5,984.68 L76,982.78 L76.5,981.41 L77,979.49 L77.5,978.41 L78,976.7 L78.5,974.63 L79,973.82 L79.5,972.46 L80,971.91 L80.5,970.92 L81,968.71 L81.5,968.42 L82,967.63 L82.5,967.63 L83,967.27 L83.5,969.56 L84,970.28 L84.5,970.22 L85,973.36 L85.5,975.97 L86,978.15 L86.5,980.63 L87,983.8 L87.5,987.93 L88,991.36 L88.5,993.82 L89,996.95 L89.5,999.46 L90,999.97 L90.5,1002.08 L91,1005.17 L91.5,1006.46 L92,1008.96 L92.5,1009.89 L93,1012.52 L93.5,1013.57 L94,1014.27 L94.5,1014.5 L95,1015.59 L95.5,1015.93 L96,1016.38 L96.5,1017.51 L97,1018.3 L97.5,1018.21 L98,1018.59 L98.5,1018.9 L99,1019.07 L99.5,1019.19 L100,1019.22 L100.5,1019.35 L101,1019.59 L101.5,1019.74 L102,1019.9 L102.5,1019.94 L103,1019.98 L103.5,1020.01 L104,1020.05 L104.5,1020.09 L105,1020.12 L105.5,1020.16 L106,1020.2 L106.5,1020.2 L107,1020.2 L107.5,1020.2 L108,1020.2 L108.5,1020.2 L109,1020.2 L109.5,1020.2 L110,1020.2 L110.5,1020.2 L111,1020.2 L111.5,1020.2 L112,1020.2 L112.5,1020.2 L113,1020.2 L113.5,1020.2 L114,1020.2 L114.5,1020.2 L115,1020.2 L115.5,1020.2 L116,1020.2 L116.5,1020.2 L117,1020.2 L117.5,1020.2 L118,1020.2 L118.5,1020.2 L119,1020.2 L119.5,1020.2 L120,1020.2 L120.5,1020.2 L121,1020.2 L121.5,1020.2 L122,1020.2 L122.5,1020.2 L123,1020.2 L123.5,1020.2 L124,1020.2 L124.5,1020.2 L125,1020.2 L125.5,1020.2 L126,1020.2 L126.5,1020.2 L127,1020.2 L127.5,1020.2 L128,1020.2 L128.5,1020.2 L129,1020.2 L129.5,1020.2 L130,1020.2 L130.5,1020.2 L131,1020.2 L131.5,1020.2 L132,1020.2 L132.5,1020.2 L133,1020.2 L133.5,1020.2 L134,1020.2 L134.5,1020.2 L135,1020.2 L135.5,1020.2 L136,1020.2 L136.5,1020.2 L137,1020.2 L137.5,1020.2 L138,1020.2 L138.5,1020.2 L139,1020.2 L139.5,1020.2 L140,1020.2 L140.5,1020.2 L141,1020.2 L141.5,1020.2 L142,1020.2 L142.5,1020.2 L143,1020.2 L143.5,1020.2 L144,1020.2 L144.5,1020.2 L145,1020.2 L145.5,1020.2 L146,1020.2 L146.5,1020.2 L147,1020.2 L147.5,1020.2 L148,1020.2 L148.5,1020.2 L149,1020.2 L149.5,1020.2 L150,1020.2 L150.5,1020.2 L151,1020.2 L151.5,1020.2 L152,1020.2 L152.5,1020.2 L153,1020.2 L153.5,1020.2 L154,1020.2 L154,1020.2 Z" fill="rgba(150,150,250,0.45)"/>
<path d="M31.5,1020.2 L32,1020.2 L32.5,1020.2 L33,1020.2 L33.5,1020.2 L34,1020.2 L34.5,1020.2 L35,1020.2 L35.5,1020.2 L36,1020.2 L36.5,1020.2 L37,1020.2 L37.5,1020.2 L38,1020.2 L38.5,1020.2 L39,1020.2 L39.5,1020.2 L40,1020.2 L40.5,1020.2 L41,1020.2 L41.5,1020.2 L42,1020.2 L42.5,1020.2 L43,1020.2 L43.5,1020.2 L44,1020.2 L44.5,1020.2 L45,1020.2 L45.5,1020.2 L46,1020.2 L46.5,1020.2 L47,1020.2 L47.5,1020.2 L48,1020.2 L48.5,1020.17 L49,1020.15 L49.5,1020.12 L50,1020.09 L50.5,1020.06 L51,1020.04 L51.5,1020.01 L52,1019.98 L52.5,1019.95 L53,1019.93 L53.5,1019.9 L54,1019.73 L54.5,1019.54 L55,1019.49 L55.5,1019.29 L56,1019.15 L56.5,1018.82 L57,1018.67 L57.5,1018.41 L58,1018.59 L58.5,1018.16 L59,1017.97 L59.5,1017.43 L60,1016.77 L60.5,1016.79 L61,1016.21 L61.5,1015.26 L62,1014.93 L62.5,1014.93 L63,1013.95 L63.5,1013.14 L64,1014.06 L64.5,1012.18 L65,1011.91 L65.5,1011.53 L66,1010.81 L66.5,1008.12 L67,1008.27 L67.5,1007.67 L68,1006.57 L68.5,1003.98 L69,1003.38 L69.5,1001.88 L70,1000.95 L70.5,1000.24 L71,998.28 L71.5,998.38 L72,996.53 L72.5,994.19 L73,992.82 L73.5,990.55 L74,989.34 L74.5,987.3 L75,986.83 L75.5,984.68 L76,982.78 L76.5,981.41 L77,979.49 L77.5,978.41 L78,976.7 L78.5,974.63 L79,973.82 L79.5,972.46 L80,971.91 L80.5,970.92 L81,968.71 L81.5,968.42 L82,967.63 L82.5,967.63 L83,967.27 L83.5,969.56 L84,970.28 L84.5,970.22 L85,973.36 L85.5,975.97 L86,978.15 L86.5,980.63 L87,983.8 L87.5,987.93 L88,991.36 L88.5,993.82 L89,996.95 L89.5,999.46 L90,999.97 L90.5,1002.08 L91,1005.17 L91.5,1006.46 L92,1008.96 L92.5,1009.89 L93,1012.52 L93.5,1013.57 L94,1014.27 L94.5,1014.5 L95,1015.59 L95.5,1015.93 L96,1016.38 L96.5,1017.51 L97,1018.3 L97.5,1018.21 L98,1018.59 L98.5,1018.9 L99,1019.07 L99.5,1019.19 L100,1019.22 L100.5,1019.35 L101,1019.59 L101.5,1019.74 L102,1019.9 L102.5,1019.94 L103,1019.98 L103.5,1020.01 L104,1020.05 L104.5,1020.09 L105,1020.12 L105.5,1020.16 L106,1020.2 L106.5,1020.2 L107,1020.2 L107.5,1020.2 L108,1020.2 L108.5,1020.2 L109,1020.2 L109.5,1020.2 L110,1020.2 L110.5,1020.2 L111,1020.2 L111.5,1020.2 L112,1020.2 L112.5,1020.2 L113,1020.2 L113.5,1020.2 L114,1020.2 L114.5,1020.2 L115,1020.2 L115.5,1020.2 L116,1020.2 L116.5,1020.2 L117,1020.2 L117.5,1020.2 L118,1020.2 L118.5,1020.2 L119,1020.2 L119.5,1020.2 L120,1020.2 L120.5,1020.2 L121,1020.2 L121.5,1020.2 L122,1020.2 L122.5,1020.2 L123,1020.2 L123.5,1020.2 L124,1020.2 L124.5,1020.2 L125,1020.2 L125.5,1020.2 L126,1020.2 L126.5,1020.2 L127,1020.2 L127.5,1020.2 L128,1020.2 L128.5,1020.2 L129,1020.2 L129.5,1020.2 L130,1020.2 L130.5,1020.2 L131,1020.2 L131.5,1020.2 L132,1020.2 L132.5,1020.2 L133,1020.2 L133.5,1020.2 L134,1020.2 L134.5,1020.2 L135,1020.2 L135.5,1020.2 L136,1020.2 L136.5,1020.2 L137,1020.2 L137.5,1020.2 L138,1020.2 L138.5,1020.2 L139,1020.2 L139.5,1020.2 L140,1020.2 L140.5,1020.2 L141,1020.2 L141.5,1020.2 L142,1020.2 L142.5,1020.2 L143,1020.2 L143.5,1020.2 L144,1020.2 L144.5,1020.2 L145,1020.2 L145.5,1020.2 L146,1020.2 L146.5,1020.2 L147,1020.2 L147.5,1020.2 L148,1020.2 L148.5,1020.2 L149,1020.2 L149.5,1020.2 L150,1020.2 L150.5,1020.2 L151,1020.2 L151.5,1020.2 L152,1020.2 L152.5,1020.2 L153,1020.2 L153.5,1020.2 L154,1020.2" fill="none" stroke="#7f7ff2" stroke-width="0.8" stroke-linejoin="round"/>
<line x1="30.7" y1="1020.2" x2="154.7" y2="1020.2" stroke="#a6a6f6" stroke-width="0.7"/>
<path d="M31.5,1051.3 L31.5,1051.3 L32,1051.3 L32.5,1051.3 L33,1051.3 L33.5,1051.3 L34,1051.3 L34.5,1051.3 L35,1051.3 L35.5,1051.3 L36,1051.3 L36.5,1051.3 L37,1051.3 L37.5,1051.3 L38,1051.3 L38.5,1051.3 L39,1051.3 L39.5,1051.3 L40,1051.3 L40.5,1051.3 L41,1051.3 L41.5,1051.3 L42,1051.3 L42.5,1051.3 L43,1051.3 L43.5,1051.3 L44,1051.3 L44.5,1051.3 L45,1051.3 L45.5,1051.3 L46,1051.3 L46.5,1051.3 L47,1051.3 L47.5,1051.3 L48,1051.3 L48.5,1051.3 L49,1051.3 L49.5,1051.3 L50,1051.3 L50.5,1051.3 L51,1051.3 L51.5,1051.3 L52,1051.3 L52.5,1051.26 L53,1051.22 L53.5,1051.18 L54,1051.14 L54.5,1051.1 L55,1051.06 L55.5,1051.03 L56,1050.99 L56.5,1050.95 L57,1050.91 L57.5,1050.61 L58,1049.99 L58.5,1049.73 L59,1049.12 L59.5,1048.52 L60,1047.93 L60.5,1047.73 L61,1047.06 L61.5,1046.81 L62,1045.44 L62.5,1044.7 L63,1042.95 L63.5,1042.68 L64,1041.4 L64.5,1041.19 L65,1040.85 L65.5,1038.23 L66,1037.02 L66.5,1036.64 L67,1035.93 L67.5,1033.82 L68,1032.58 L68.5,1030.76 L69,1029.84 L69.5,1028.75 L70,1027.11 L70.5,1025.65 L71,1024.45 L71.5,1022.56 L72,1018.94 L72.5,1017.29 L73,1016.52 L73.5,1013.48 L74,1012.36 L74.5,1011.34 L75,1007.98 L75.5,1006.67 L76,1004.13 L76.5,1002.79 L77,1002.11 L77.5,999.95 L78,998.52 L78.5,997.19 L79,997.64 L79.5,998.24 L80,998.9 L80.5,1000.97 L81,1001.1 L81.5,1002.74 L82,1005.61 L82.5,1005.94 L83,1007.8 L83.5,1009.58 L84,1010.8 L84.5,1013.11 L85,1016.98 L85.5,1020.89 L86,1023.16 L86.5,1025.62 L87,1027.9 L87.5,1030.42 L88,1033.8 L88.5,1033.98 L89,1036.74 L89.5,1039.81 L90,1041.52 L90.5,1043.04 L91,1043.34 L91.5,1045.63 L92,1046.17 L92.5,1048.13 L93,1048.74 L93.5,1049.76 L94,1050.77 L94.5,1050.96 L95,1051.02 L95.5,1051.09 L96,1051.16 L96.5,1051.23 L97,1051.3 L97.5,1051.3 L98,1051.3 L98.5,1051.3 L99,1051.3 L99.5,1051.3 L100,1051.3 L100.5,1051.3 L101,1051.3 L101.5,1051.3 L102,1051.3 L102.5,1051.3 L103,1051.3 L103.5,1051.3 L104,1051.3 L104.5,1051.3 L105,1051.3 L105.5,1051.3 L106,1051.3 L106.5,1051.3 L107,1051.3 L107.5,1051.3 L108,1051.3 L108.5,1051.3 L109,1051.3 L109.5,1051.3 L110,1051.3 L110.5,1051.3 L111,1051.3 L111.5,1051.3 L112,1051.3 L112.5,1051.3 L113,1051.3 L113.5,1051.3 L114,1051.3 L114.5,1051.3 L115,1051.3 L115.5,1051.3 L116,1051.3 L116.5,1051.3 L117,1051.3 L117.5,1051.3 L118,1051.3 L118.5,1051.3 L119,1051.3 L119.5,1051.3 L120,1051.3 L120.5,1051.3 L121,1051.3 L121.5,1051.3 L122,1051.3 L122.5,1051.3 L123,1051.3 L123.5,1051.3 L124,1051.3 L124.5,1051.3 L125,1051.3 L125.5,1051.3 L126,1051.3 L126.5,1051.3 L127,1051.3 L127.5,1051.3 L128,1051.3 L128.5,1051.3 L129,1051.3 L129.5,1051.3 L130,1051.3 L130.5,1051.3 L131,1051.3 L131.5,1051.3 L132,1051.3 L132.5,1051.3 L133,1051.3 L133.5,1051.3 L134,1051.3 L134.5,1051.3 L135,1051.3 L135.5,1051.3 L136,1051.3 L136.5,1051.3 L137,1051.3 L137.5,1051.3 L138,1051.3 L138.5,1051.3 L139,1051.3 L139.5,1051.3 L140,1051.3 L140.5,1051.3 L141,1051.3 L141.5,1051.3 L142,1051.3 L142.5,1051.3 L143,1051.3 L143.5,1051.3 L144,1051.3 L144.5,1051.3 L145,1051.3 L145.5,1051.3 L146,1051.3 L146.5,1051.3 L147,1051.3 L147.5,1051.3 L148,1051.3 L148.5,1051.3 L149,1051.3 L149.5,1051.3 L150,1051.3 L150.5,1051.3 L151,1051.3 L151.5,1051.3 L152,1051.3 L152.5,1051.3 L153,1051.3 L153.5,1051.3 L154,1051.3 L154,1051.3 Z" fill="rgba(170,80,240,0.5)"/>
<path d="M31.5,1051.3 L32,1051.3 L32.5,1051.3 L33,1051.3 L33.5,1051.3 L34,1051.3 L34.5,1051.3 L35,1051.3 L35.5,1051.3 L36,1051.3 L36.5,1051.3 L37,1051.3 L37.5,1051.3 L38,1051.3 L38.5,1051.3 L39,1051.3 L39.5,1051.3 L40,1051.3 L40.5,1051.3 L41,1051.3 L41.5,1051.3 L42,1051.3 L42.5,1051.3 L43,1051.3 L43.5,1051.3 L44,1051.3 L44.5,1051.3 L45,1051.3 L45.5,1051.3 L46,1051.3 L46.5,1051.3 L47,1051.3 L47.5,1051.3 L48,1051.3 L48.5,1051.3 L49,1051.3 L49.5,1051.3 L50,1051.3 L50.5,1051.3 L51,1051.3 L51.5,1051.3 L52,1051.3 L52.5,1051.26 L53,1051.22 L53.5,1051.18 L54,1051.14 L54.5,1051.1 L55,1051.06 L55.5,1051.03 L56,1050.99 L56.5,1050.95 L57,1050.91 L57.5,1050.61 L58,1049.99 L58.5,1049.73 L59,1049.12 L59.5,1048.52 L60,1047.93 L60.5,1047.73 L61,1047.06 L61.5,1046.81 L62,1045.44 L62.5,1044.7 L63,1042.95 L63.5,1042.68 L64,1041.4 L64.5,1041.19 L65,1040.85 L65.5,1038.23 L66,1037.02 L66.5,1036.64 L67,1035.93 L67.5,1033.82 L68,1032.58 L68.5,1030.76 L69,1029.84 L69.5,1028.75 L70,1027.11 L70.5,1025.65 L71,1024.45 L71.5,1022.56 L72,1018.94 L72.5,1017.29 L73,1016.52 L73.5,1013.48 L74,1012.36 L74.5,1011.34 L75,1007.98 L75.5,1006.67 L76,1004.13 L76.5,1002.79 L77,1002.11 L77.5,999.95 L78,998.52 L78.5,997.19 L79,997.64 L79.5,998.24 L80,998.9 L80.5,1000.97 L81,1001.1 L81.5,1002.74 L82,1005.61 L82.5,1005.94 L83,1007.8 L83.5,1009.58 L84,1010.8 L84.5,1013.11 L85,1016.98 L85.5,1020.89 L86,1023.16 L86.5,1025.62 L87,1027.9 L87.5,1030.42 L88,1033.8 L88.5,1033.98 L89,1036.74 L89.5,1039.81 L90,1041.52 L90.5,1043.04 L91,1043.34 L91.5,1045.63 L92,1046.17 L92.5,1048.13 L93,1048.74 L93.5,1049.76 L94,1050.77 L94.5,1050.96 L95,1051.02 L95.5,1051.09 L96,1051.16 L96.5,1051.23 L97,1051.3 L97.5,1051.3 L98,1051.3 L98.5,1051.3 L99,1051.3 L99.5,1051.3 L100,1051.3 L100.5,1051.3 L101,1051.3 L101.5,1051.3 L102,1051.3 L102.5,1051.3 L103,1051.3 L103.5,1051.3 L104,1051.3 L104.5,1051.3 L105,1051.3 L105.5,1051.3 L106,1051.3 L106.5,1051.3 L107,1051.3 L107.5,1051.3 L108,1051.3 L108.5,1051.3 L109,1051.3 L109.5,1051.3 L110,1051.3 L110.5,1051.3 L111,1051.3 L111.5,1051.3 L112,1051.3 L112.5,1051.3 L113,1051.3 L113.5,1051.3 L114,1051.3 L114.5,1051.3 L115,1051.3 L115.5,1051.3 L116,1051.3 L116.5,1051.3 L117,1051.3 L117.5,1051.3 L118,1051.3 L118.5,1051.3 L119,1051.3 L119.5,1051.3 L120,1051.3 L120.5,1051.3 L121,1051.3 L121.5,1051.3 L122,1051.3 L122.5,1051.3 L123,1051.3 L123.5,1051.3 L124,1051.3 L124.5,1051.3 L125,1051.3 L125.5,1051.3 L126,1051.3 L126.5,1051.3 L127,1051.3 L127.5,1051.3 L128,1051.3 L128.5,1051.3 L129,1051.3 L129.5,1051.3 L130,1051.3 L130.5,1051.3 L131,1051.3 L131.5,1051.3 L132,1051.3 L132.5,1051.3 L133,1051.3 L133.5,1051.3 L134,1051.3 L134.5,1051.3 L135,1051.3 L135.5,1051.3 L136,1051.3 L136.5,1051.3 L137,1051.3 L137.5,1051.3 L138,1051.3 L138.5,1051.3 L139,1051.3 L139.5,1051.3 L140,1051.3 L140.5,1051.3 L141,1051.3 L141.5,1051.3 L142,1051.3 L142.5,1051.3 L143,1051.3 L143.5,1051.3 L144,1051.3 L144.5,1051.3 L145,1051.3 L145.5,1051.3 L146,1051.3 L146.5,1051.3 L147,1051.3 L147.5,1051.3 L148,1051.3 L148.5,1051.3 L149,1051.3 L149.5,1051.3 L150,1051.3 L150.5,1051.3 L151,1051.3 L151.5,1051.3 L152,1051.3 L152.5,1051.3 L153,1051.3 L153.5,1051.3 L154,1051.3" fill="none" stroke="#a43cf0" stroke-width="0.8" stroke-linejoin="round"/>
<polyline points="30.7,1051.3 30.7,925.2 154.7,925.2 154.7,1051.3" fill="none" stroke="#777" stroke-width="0.9"/>
<line x1="30.7" y1="1051.3" x2="154.7" y2="1051.3" stroke="#444" stroke-width="0.9"/>
<line x1="33.94" y1="1051.3" x2="33.94" y2="1052.8" stroke="#444" stroke-width="0.55"/>
<line x1="37.17" y1="1051.3" x2="37.17" y2="1052.8" stroke="#444" stroke-width="0.55"/>
<line x1="40.41" y1="1051.3" x2="40.41" y2="1052.8" stroke="#444" stroke-width="0.55"/>
<line x1="43.65" y1="1051.3" x2="43.65" y2="1052.8" stroke="#444" stroke-width="0.55"/>
<line x1="46.89" y1="1051.3" x2="46.89" y2="1052.8" stroke="#444" stroke-width="0.55"/>
<line x1="50.12" y1="1051.3" x2="50.12" y2="1052.8" stroke="#444" stroke-width="0.55"/>
<line x1="53.36" y1="1051.3" x2="53.36" y2="1052.8" stroke="#444" stroke-width="0.55"/>
<line x1="60.07" y1="1051.3" x2="60.07" y2="1052.8" stroke="#444" stroke-width="0.55"/>
<line x1="63.53" y1="1051.3" x2="63.53" y2="1052.8" stroke="#444" stroke-width="0.55"/>
<line x1="70.8" y1="1051.3" x2="70.8" y2="1052.8" stroke="#444" stroke-width="0.55"/>
<line x1="78" y1="1051.3" x2="78" y2="1052.8" stroke="#444" stroke-width="0.55"/>
<line x1="81.4" y1="1051.3" x2="81.4" y2="1052.8" stroke="#444" stroke-width="0.55"/>
<line x1="84.8" y1="1051.3" x2="84.8" y2="1052.8" stroke="#444" stroke-width="0.55"/>
<line x1="88.2" y1="1051.3" x2="88.2" y2="1052.8" stroke="#444" stroke-width="0.55"/>
<line x1="91.6" y1="1051.3" x2="91.6" y2="1052.8" stroke="#444" stroke-width="0.55"/>
<line x1="95" y1="1051.3" x2="95" y2="1052.8" stroke="#444" stroke-width="0.55"/>
<line x1="98.4" y1="1051.3" x2="98.4" y2="1052.8" stroke="#444" stroke-width="0.55"/>
<line x1="101.8" y1="1051.3" x2="101.8" y2="1052.8" stroke="#444" stroke-width="0.55"/>
<line x1="105.2" y1="1051.3" x2="105.2" y2="1052.8" stroke="#444" stroke-width="0.55"/>
<line x1="108.6" y1="1051.3" x2="108.6" y2="1052.8" stroke="#444" stroke-width="0.55"/>
<line x1="115.25" y1="1051.3" x2="115.25" y2="1052.8" stroke="#444" stroke-width="0.55"/>
<line x1="118.5" y1="1051.3" x2="118.5" y2="1052.8" stroke="#444" stroke-width="0.55"/>
<line x1="121.75" y1="1051.3" x2="121.75" y2="1052.8" stroke="#444" stroke-width="0.55"/>
<line x1="125" y1="1051.3" x2="125" y2="1052.8" stroke="#444" stroke-width="0.55"/>
<line x1="128.25" y1="1051.3" x2="128.25" y2="1052.8" stroke="#444" stroke-width="0.55"/>
<line x1="131.5" y1="1051.3" x2="131.5" y2="1052.8" stroke="#444" stroke-width="0.55"/>
<line x1="134.75" y1="1051.3" x2="134.75" y2="1052.8" stroke="#444" stroke-width="0.55"/>
<line x1="138" y1="1051.3" x2="138" y2="1052.8" stroke="#444" stroke-width="0.55"/>
<line x1="141.25" y1="1051.3" x2="141.25" y2="1052.8" stroke="#444" stroke-width="0.55"/>
<line x1="147.9" y1="1051.3" x2="147.9" y2="1052.8" stroke="#444" stroke-width="0.55"/>
<line x1="151.3" y1="1051.3" x2="151.3" y2="1052.8" stroke="#444" stroke-width="0.55"/>
<line x1="56.6" y1="1051.3" x2="56.6" y2="1054.1" stroke="#222" stroke-width="0.9"/>
<line x1="67" y1="1051.3" x2="67" y2="1054.1" stroke="#222" stroke-width="0.9"/>
<text x="67" y="1059.9" font-size="5" text-anchor="middle" fill="#333" font-weight="normal">0</text>
<line x1="74.6" y1="1051.3" x2="74.6" y2="1054.1" stroke="#222" stroke-width="0.9"/>
<line x1="112" y1="1051.3" x2="112" y2="1054.1" stroke="#222" stroke-width="0.9"/>
<text x="112" y="1059.9" font-size="5" text-anchor="middle" fill="#333" font-weight="normal">10<tspan font-size="3.60" dy="-2.2">4</tspan></text>
<line x1="144.5" y1="1051.3" x2="144.5" y2="1054.1" stroke="#222" stroke-width="0.9"/>
<text x="144.5" y="1059.9" font-size="5" text-anchor="middle" fill="#333" font-weight="normal">10<tspan font-size="3.60" dy="-2.2">5</tspan></text>
<rect x="63.5" y="1051.5" width="3.2" height="2.3" fill="#111"/>
<text x="24.35" y="983.5" font-size="8.8" text-anchor="middle" transform="rotate(-90 24.35 983.5)" textLength="46.4" lengthAdjust="spacingAndGlyphs">Histogram</text>
<line x1="20.7" y1="1067.2" x2="20.7" y2="1027.5" stroke="#111" stroke-width="1.5"/>
<polygon points="17,1028 24.4,1028 20.7,1019.4" fill="#111"/>
<line x1="19.95" y1="1067.2" x2="48.1" y2="1067.2" stroke="#111" stroke-width="1.5"/>
<polygon points="47.6,1063.5 47.6,1070.9 56.2,1067.2" fill="#111"/>
<text x="62" y="1070.5" font-size="9.74" transform="translate(62 1070.5) scale(0.8929 1) translate(-62 -1070.5)" textLength="30.24" lengthAdjust="spacingAndGlyphs">HIF-1α</text>
<rect x="164.7" y="927.2" width="6.1" height="4.7" fill="#dddddd" stroke="#c0c0c0" stroke-width="0.6"/>
<rect x="164.7" y="940.7" width="6.1" height="4.8" fill="#c6c6fa" stroke="#9a9af2" stroke-width="0.6"/>
<rect x="164.7" y="954.2" width="6.1" height="4.7" fill="#cf9cf5" stroke="#b060f0" stroke-width="0.6"/>
<text x="175.9" y="932.2" font-size="8.3">IgG</text>
<text x="174.7" y="946.8" font-size="8.3" textLength="27.7" lengthAdjust="spacingAndGlyphs">αTIGIT</text>
<text x="174.7" y="959.5" font-size="8.3" textLength="82.1" lengthAdjust="spacingAndGlyphs">αTIGIT+SCH772984</text>
<text x="294.5" y="931.38" font-size="14.5">T</text>
<line x1="362.3" y1="940.7" x2="362.3" y2="1032.8" stroke="#222" stroke-width="1.45"/>
<line x1="358.1" y1="1032.8" x2="363.03" y2="1032.8" stroke="#222" stroke-width="1.305"/>
<text x="356.9" y="1035.78" font-size="8.51" text-anchor="end" transform="translate(356.9 1035.78) scale(0.8696 1) translate(-356.9 -1035.78)">0</text>
<line x1="358.1" y1="1009.77" x2="363.03" y2="1009.77" stroke="#222" stroke-width="1.305"/>
<text x="356.9" y="1012.75" font-size="8.51" text-anchor="end" transform="translate(356.9 1012.75) scale(0.8696 1) translate(-356.9 -1012.75)">500</text>
<line x1="358.1" y1="986.75" x2="363.03" y2="986.75" stroke="#222" stroke-width="1.305"/>
<text x="356.9" y="989.73" font-size="8.51" text-anchor="end" transform="translate(356.9 989.73) scale(0.8696 1) translate(-356.9 -989.73)">1000</text>
<line x1="358.1" y1="963.73" x2="363.03" y2="963.73" stroke="#222" stroke-width="1.305"/>
<text x="356.9" y="966.7" font-size="8.51" text-anchor="end" transform="translate(356.9 966.7) scale(0.8696 1) translate(-356.9 -966.7)">1500</text>
<line x1="358.1" y1="940.7" x2="363.03" y2="940.7" stroke="#222" stroke-width="1.305"/>
<text x="356.9" y="943.68" font-size="8.51" text-anchor="end" transform="translate(356.9 943.68) scale(0.8696 1) translate(-356.9 -943.68)">2000</text>
<line x1="362.3" y1="1032.8" x2="454.2" y2="1032.8" stroke="#222" stroke-width="1.45"/>
<line x1="380.9" y1="1032.8" x2="380.9" y2="1036.8" stroke="#222" stroke-width="1.305"/>
<line x1="408.2" y1="1032.8" x2="408.2" y2="1036.8" stroke="#222" stroke-width="1.305"/>
<line x1="436" y1="1032.8" x2="436" y2="1036.8" stroke="#222" stroke-width="1.305"/>
<line x1="381.2" y1="946.5" x2="406.7" y2="946.5" stroke="#151515" stroke-width="1.1"/>
<text x="393.5" y="946.5" font-size="8.5" text-anchor="middle">*</text>
<line x1="410.4" y1="946.5" x2="435.9" y2="946.5" stroke="#151515" stroke-width="1.1"/>
<text x="423.1" y="946.5" font-size="8.5" text-anchor="middle">*</text>
<circle cx="436.2" cy="956.7" r="2" fill="#e07ef2"/>
<circle cx="436.2" cy="966.5" r="2" fill="#e07ef2"/>
<circle cx="436.2" cy="985.2" r="2" fill="#e07ef2"/>
<circle cx="436.2" cy="987.7" r="2" fill="#e07ef2"/>
<circle cx="436.2" cy="993.1" r="2" fill="#e07ef2"/>
<circle cx="436.2" cy="999.3" r="2" fill="#e07ef2"/>
<circle cx="436.2" cy="986.9" r="2" fill="#e07ef2"/>
<line x1="381" y1="966.2" x2="408.6" y2="957" stroke="#111" stroke-width="0.9"/>
<line x1="408.6" y1="957" x2="436.2" y2="956.7" stroke="#111" stroke-width="0.9"/>
<line x1="381" y1="977.2" x2="408.6" y2="952.3" stroke="#111" stroke-width="0.9"/>
<line x1="408.6" y1="952.3" x2="436.2" y2="966.5" stroke="#111" stroke-width="0.9"/>
<line x1="381" y1="983.3" x2="408.6" y2="970.9" stroke="#111" stroke-width="0.9"/>
<line x1="408.6" y1="970.9" x2="436.2" y2="985.2" stroke="#111" stroke-width="0.9"/>
<line x1="381" y1="984.3" x2="408.6" y2="973.5" stroke="#111" stroke-width="0.9"/>
<line x1="408.6" y1="973.5" x2="436.2" y2="987.7" stroke="#111" stroke-width="0.9"/>
<line x1="381" y1="984.8" x2="408.6" y2="976" stroke="#111" stroke-width="0.9"/>
<line x1="408.6" y1="976" x2="436.2" y2="993.1" stroke="#111" stroke-width="0.9"/>
<line x1="381" y1="989.9" x2="408.6" y2="978.2" stroke="#111" stroke-width="0.9"/>
<line x1="408.6" y1="978.2" x2="436.2" y2="999.3" stroke="#111" stroke-width="0.9"/>
<line x1="381" y1="991.3" x2="408.6" y2="987.4" stroke="#111" stroke-width="0.9"/>
<line x1="408.6" y1="987.4" x2="436.2" y2="986.9" stroke="#111" stroke-width="0.9"/>
<circle cx="381" cy="966.2" r="2" fill="#a8a8a8"/>
<circle cx="408.6" cy="957" r="2" fill="#8a8af4"/>
<circle cx="381" cy="977.2" r="2" fill="#a8a8a8"/>
<circle cx="408.6" cy="952.3" r="2" fill="#8a8af4"/>
<circle cx="381" cy="983.3" r="2" fill="#a8a8a8"/>
<circle cx="408.6" cy="970.9" r="2" fill="#8a8af4"/>
<circle cx="381" cy="984.3" r="2" fill="#a8a8a8"/>
<circle cx="408.6" cy="973.5" r="2" fill="#8a8af4"/>
<circle cx="381" cy="984.8" r="2" fill="#a8a8a8"/>
<circle cx="408.6" cy="976" r="2" fill="#8a8af4"/>
<circle cx="381" cy="989.9" r="2" fill="#a8a8a8"/>
<circle cx="408.6" cy="978.2" r="2" fill="#8a8af4"/>
<circle cx="381" cy="991.3" r="2" fill="#a8a8a8"/>
<circle cx="408.6" cy="987.4" r="2" fill="#8a8af4"/>
<text x="338.05" y="986.6" font-size="8" text-anchor="middle" transform="rotate(-90 338.05 986.6)" textLength="82" lengthAdjust="spacingAndGlyphs">MFI of HIF-1α NK cells</text>
<text x="368.6" y="1046.4" font-size="8.74" text-anchor="end" transform="translate(368.6 1046.4) scale(0.8696 1) translate(-368.6 -1046.4)">IgG</text>
<text x="380.9" y="1046.1" font-size="9.3" text-anchor="middle">+</text>
<text x="408.2" y="1046.1" font-size="9.3" text-anchor="middle">−</text>
<text x="436" y="1046.1" font-size="9.3" text-anchor="middle">−</text>
<text x="368.6" y="1055.4" font-size="8.74" text-anchor="end" transform="translate(368.6 1055.4) scale(0.8696 1) translate(-368.6 -1055.4)">αTIGIT</text>
<text x="380.9" y="1055.1" font-size="9.3" text-anchor="middle">−</text>
<text x="408.2" y="1055.1" font-size="9.3" text-anchor="middle">+</text>
<text x="436" y="1055.1" font-size="9.3" text-anchor="middle">+</text>
<text x="368.6" y="1065.7" font-size="8.74" text-anchor="end" transform="translate(368.6 1065.7) scale(0.8696 1) translate(-368.6 -1065.7)">SCH772984</text>
<text x="380.9" y="1065.4" font-size="9.3" text-anchor="middle">−</text>
<text x="408.2" y="1065.4" font-size="9.3" text-anchor="middle">−</text>
<text x="436" y="1065.4" font-size="9.3" text-anchor="middle">+</text>
<text x="506" y="931.38" font-size="14.5">U</text>
<line x1="564.2" y1="929.4" x2="564.2" y2="1021" stroke="#222" stroke-width="1.45"/>
<line x1="560" y1="1021" x2="564.93" y2="1021" stroke="#222" stroke-width="1.305"/>
<text x="558.8" y="1023.98" font-size="8.51" text-anchor="end" transform="translate(558.8 1023.98) scale(0.8696 1) translate(-558.8 -1023.98)">0</text>
<line x1="560" y1="1002.68" x2="564.93" y2="1002.68" stroke="#222" stroke-width="1.305"/>
<text x="558.8" y="1005.66" font-size="8.51" text-anchor="end" transform="translate(558.8 1005.66) scale(0.8696 1) translate(-558.8 -1005.66)">20</text>
<line x1="560" y1="984.36" x2="564.93" y2="984.36" stroke="#222" stroke-width="1.305"/>
<text x="558.8" y="987.34" font-size="8.51" text-anchor="end" transform="translate(558.8 987.34) scale(0.8696 1) translate(-558.8 -987.34)">40</text>
<line x1="560" y1="966.04" x2="564.93" y2="966.04" stroke="#222" stroke-width="1.305"/>
<text x="558.8" y="969.02" font-size="8.51" text-anchor="end" transform="translate(558.8 969.02) scale(0.8696 1) translate(-558.8 -969.02)">60</text>
<line x1="560" y1="947.72" x2="564.93" y2="947.72" stroke="#222" stroke-width="1.305"/>
<text x="558.8" y="950.7" font-size="8.51" text-anchor="end" transform="translate(558.8 950.7) scale(0.8696 1) translate(-558.8 -950.7)">80</text>
<line x1="560" y1="929.4" x2="564.93" y2="929.4" stroke="#222" stroke-width="1.305"/>
<text x="558.8" y="932.38" font-size="8.51" text-anchor="end" transform="translate(558.8 932.38) scale(0.8696 1) translate(-558.8 -932.38)">100</text>
<line x1="564.2" y1="1021" x2="653.4" y2="1021" stroke="#222" stroke-width="1.45"/>
<line x1="582.3" y1="1021" x2="582.3" y2="1025" stroke="#222" stroke-width="1.305"/>
<line x1="609.1" y1="1021" x2="609.1" y2="1025" stroke="#222" stroke-width="1.305"/>
<line x1="635.4" y1="1021" x2="635.4" y2="1025" stroke="#222" stroke-width="1.305"/>
<polyline points="581.4,934.2 581.4,932.4 607.7,932.4 607.7,934.2" fill="none" stroke="#151515" stroke-width="1.1"/>
<text x="594.55" y="931.82" font-size="9" text-anchor="middle">*</text>
<polyline points="609.1,934.2 609.1,932.4 636.4,932.4 636.4,934.2" fill="none" stroke="#151515" stroke-width="1.1"/>
<text x="622.75" y="931.82" font-size="9" text-anchor="middle">**</text>
<circle cx="635.7" cy="961.46" r="2" fill="#e07ef2"/>
<circle cx="635.7" cy="965.12" r="2" fill="#e07ef2"/>
<circle cx="635.7" cy="965.12" r="2" fill="#e07ef2"/>
<circle cx="635.7" cy="979.78" r="2" fill="#e07ef2"/>
<circle cx="635.7" cy="984.36" r="2" fill="#e07ef2"/>
<circle cx="635.7" cy="1016.42" r="2" fill="#e07ef2"/>
<circle cx="635.7" cy="1008.18" r="2" fill="#e07ef2"/>
<circle cx="635.7" cy="1013.67" r="2" fill="#e07ef2"/>
<circle cx="635.7" cy="1016.42" r="2" fill="#e07ef2"/>
<line x1="582.3" y1="966.96" x2="609.1" y2="950.47" stroke="#111" stroke-width="0.9"/>
<line x1="609.1" y1="950.47" x2="635.7" y2="961.46" stroke="#111" stroke-width="0.9"/>
<line x1="582.3" y1="968.79" x2="609.1" y2="951.38" stroke="#111" stroke-width="0.9"/>
<line x1="609.1" y1="951.38" x2="635.7" y2="965.12" stroke="#111" stroke-width="0.9"/>
<line x1="582.3" y1="969.7" x2="609.1" y2="952.3" stroke="#111" stroke-width="0.9"/>
<line x1="609.1" y1="952.3" x2="635.7" y2="965.12" stroke="#111" stroke-width="0.9"/>
<line x1="582.3" y1="977.03" x2="609.1" y2="962.38" stroke="#111" stroke-width="0.9"/>
<line x1="609.1" y1="962.38" x2="635.7" y2="979.78" stroke="#111" stroke-width="0.9"/>
<line x1="582.3" y1="980.7" x2="609.1" y2="975.2" stroke="#111" stroke-width="0.9"/>
<line x1="609.1" y1="975.2" x2="635.7" y2="984.36" stroke="#111" stroke-width="0.9"/>
<line x1="582.3" y1="997.18" x2="609.1" y2="993.52" stroke="#111" stroke-width="0.9"/>
<line x1="609.1" y1="993.52" x2="635.7" y2="1016.42" stroke="#111" stroke-width="0.9"/>
<line x1="582.3" y1="1008.18" x2="609.1" y2="1006.34" stroke="#111" stroke-width="0.9"/>
<line x1="609.1" y1="1006.34" x2="635.7" y2="1008.18" stroke="#111" stroke-width="0.9"/>
<line x1="582.3" y1="1008.18" x2="609.1" y2="1007.26" stroke="#111" stroke-width="0.9"/>
<line x1="609.1" y1="1007.26" x2="635.7" y2="1013.67" stroke="#111" stroke-width="0.9"/>
<line x1="582.3" y1="1009.09" x2="609.1" y2="1008.18" stroke="#111" stroke-width="0.9"/>
<line x1="609.1" y1="1008.18" x2="635.7" y2="1016.42" stroke="#111" stroke-width="0.9"/>
<circle cx="582.3" cy="966.96" r="2" fill="#a8a8a8"/>
<circle cx="609.1" cy="950.47" r="2" fill="#8a8af4"/>
<circle cx="582.3" cy="968.79" r="2" fill="#a8a8a8"/>
<circle cx="609.1" cy="951.38" r="2" fill="#8a8af4"/>
<circle cx="582.3" cy="969.7" r="2" fill="#a8a8a8"/>
<circle cx="609.1" cy="952.3" r="2" fill="#8a8af4"/>
<circle cx="582.3" cy="977.03" r="2" fill="#a8a8a8"/>
<circle cx="609.1" cy="962.38" r="2" fill="#8a8af4"/>
<circle cx="582.3" cy="980.7" r="2" fill="#a8a8a8"/>
<circle cx="609.1" cy="975.2" r="2" fill="#8a8af4"/>
<circle cx="582.3" cy="997.18" r="2" fill="#a8a8a8"/>
<circle cx="609.1" cy="993.52" r="2" fill="#8a8af4"/>
<circle cx="582.3" cy="1008.18" r="2" fill="#a8a8a8"/>
<circle cx="609.1" cy="1006.34" r="2" fill="#8a8af4"/>
<circle cx="582.3" cy="1008.18" r="2" fill="#a8a8a8"/>
<circle cx="609.1" cy="1007.26" r="2" fill="#8a8af4"/>
<circle cx="582.3" cy="1009.09" r="2" fill="#a8a8a8"/>
<circle cx="609.1" cy="1008.18" r="2" fill="#8a8af4"/>
<text x="543.39" y="975.4" font-size="7.9" text-anchor="middle" transform="rotate(-90 543.39 975.4)" textLength="85.9" lengthAdjust="spacingAndGlyphs">Migratory NK cells(*10<tspan font-size="5.5" dy="-3">4</tspan><tspan dy="3">)</tspan></text>
<text x="584.5" y="1032.2" font-size="8" text-anchor="end" transform="rotate(-45 584.5 1032.2)">IgG</text>
<text x="611.3" y="1032" font-size="8" text-anchor="end" transform="rotate(-45 611.3 1032)">αTigit</text>
<text x="637.6" y="1032" font-size="8" text-anchor="end" transform="rotate(-45 637.6 1032)">αTigit+BAY 87</text>
</svg></body></html>
